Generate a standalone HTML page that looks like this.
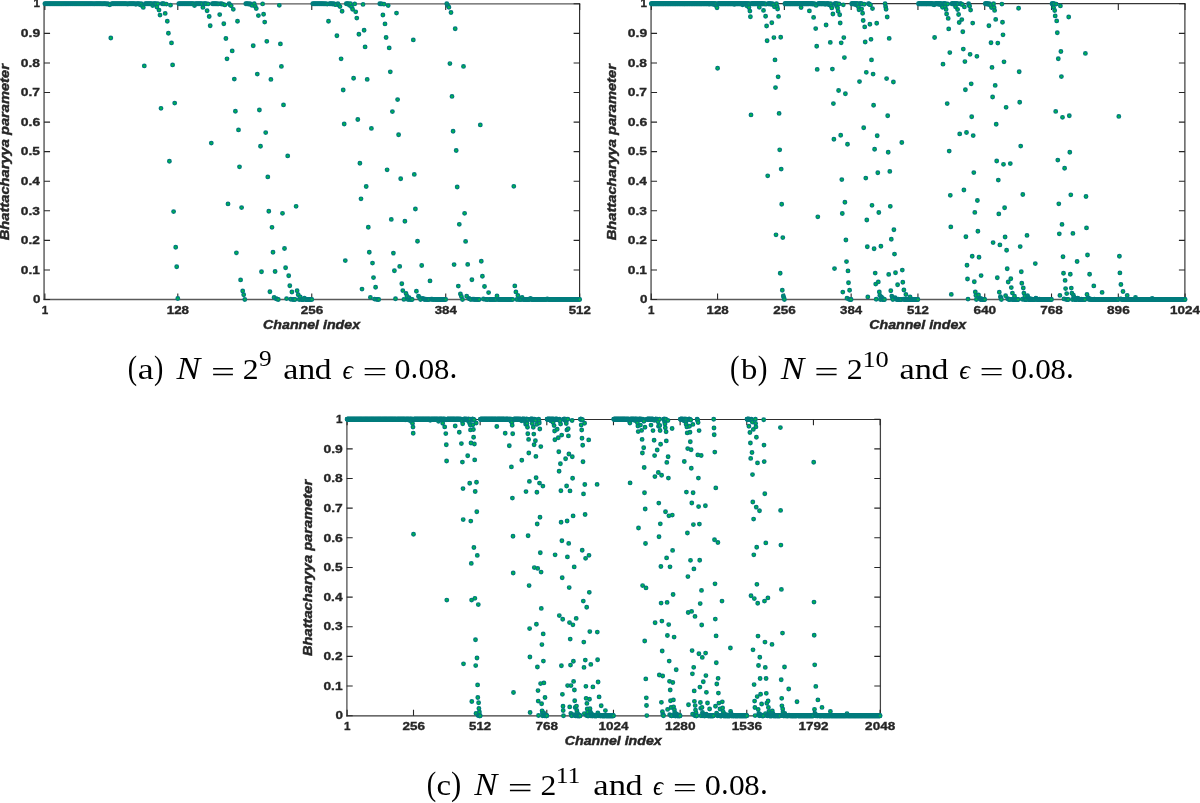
<!DOCTYPE html>
<html><head><meta charset="utf-8"><style>
html,body{margin:0;padding:0;background:#fff;}
svg{display:block;will-change:transform;filter:blur(0.35px);}
.tk{font-family:"Liberation Sans",sans-serif;font-weight:bold;fill:#262626;stroke:#262626;stroke-width:0.35px;}
.al{font-family:"Liberation Sans",sans-serif;font-weight:bold;font-style:italic;fill:#262626;stroke:#262626;stroke-width:0.42px;}
.cr{font-family:"Liberation Serif",serif;fill:#000;}
.cs{font-family:"Liberation Serif",serif;fill:#000;}
.ci{font-family:"Liberation Serif",serif;font-style:italic;fill:#000;}
</style></head><body>
<svg width="1200" height="803" viewBox="0 0 1200 803">
<rect width="1200" height="803" fill="#fff"/>
<line x1="43.5" y1="3.9" x2="580.2" y2="3.9" stroke="#5a5a5a" stroke-width="1.3"/>
<line x1="43.5" y1="299.5" x2="580.2" y2="299.5" stroke="#5a5a5a" stroke-width="1.3"/>
<line x1="44.05" y1="3.3" x2="44.05" y2="300.1" stroke="#262626" stroke-width="1.1"/>
<line x1="579.6" y1="3.3" x2="579.6" y2="300.1" stroke="#262626" stroke-width="1.1"/>
<path d="M44.87 299.45v-6M44.87 3.9v6M177.79 299.45v-6M177.79 3.9v6M311.76 299.45v-6M311.76 3.9v6M445.73 299.45v-6M445.73 3.9v6M579.7 299.45v-6M579.7 3.9v6M44.05 299.5h6M579.6 299.5h-6M44.05 269.93h6M579.6 269.93h-6M44.05 240.36h6M579.6 240.36h-6M44.05 210.79h6M579.6 210.79h-6M44.05 181.22h6M579.6 181.22h-6M44.05 151.65h6M579.6 151.65h-6M44.05 122.08h6M579.6 122.08h-6M44.05 92.51h6M579.6 92.51h-6M44.05 62.94h6M579.6 62.94h-6M44.05 33.37h6M579.6 33.37h-6M44.05 3.8h6M579.6 3.8h-6" fill="none" stroke="#262626" stroke-width="1.1"/>
<text class="tk" font-size="11.6" transform="translate(41.67 313.58) scale(1.0038 0.9805)">1</text>
<text class="tk" font-size="11.6" transform="translate(166.69 313.63) scale(1.1541 0.9900)">128</text>
<text class="tk" font-size="11.6" transform="translate(300.66 313.63) scale(1.1629 0.9900)">256</text>
<text class="tk" font-size="11.6" transform="translate(434.66 313.61) scale(1.1445 0.9880)">384</text>
<text class="tk" font-size="11.6" transform="translate(568.64 313.63) scale(1.1440 0.9900)">512</text>
<text class="tk" font-size="11.6" transform="translate(32.88 303.23) scale(1.1567 0.9900)">0</text>
<text class="tk" font-size="11.6" transform="translate(20.82 273.66) scale(1.1857 0.9900)">0.1</text>
<text class="tk" font-size="11.6" transform="translate(20.82 244.09) scale(1.1835 0.9900)">0.2</text>
<text class="tk" font-size="11.6" transform="translate(20.82 214.5) scale(1.1853 0.9880)">0.3</text>
<text class="tk" font-size="11.6" transform="translate(20.82 184.95) scale(1.1824 0.9900)">0.4</text>
<text class="tk" font-size="11.6" transform="translate(20.82 155.38) scale(1.1850 0.9900)">0.5</text>
<text class="tk" font-size="11.6" transform="translate(20.81 125.81) scale(1.2043 0.9900)">0.6</text>
<text class="tk" font-size="11.6" transform="translate(20.82 96.24) scale(1.1924 0.9900)">0.7</text>
<text class="tk" font-size="11.6" transform="translate(20.82 66.67) scale(1.1934 0.9900)">0.8</text>
<text class="tk" font-size="11.6" transform="translate(20.82 37.1) scale(1.1977 0.9900)">0.9</text>
<text class="tk" font-size="11.6" transform="translate(33.41 7.48) scale(1.0038 0.9805)">1</text>
<text class="al" font-size="12.6" transform="translate(263.08 328.75) scale(1.1273 0.9831)">Channel index</text>
<text class="al" font-size="12.6" transform="translate(9.3 151.67) rotate(-90) translate(-88.58 0) scale(1.1650 1.0111)">Bhattacharyya parameter</text>
<g fill="#00c83a" stroke="#007c7e" stroke-width="1.45"><circle cx="44.9" cy="3.8" r="1.7"/><circle cx="45.9" cy="3.8" r="1.7"/><circle cx="47.0" cy="3.8" r="1.7"/><circle cx="48.0" cy="3.8" r="1.7"/><circle cx="49.1" cy="3.8" r="1.7"/><circle cx="50.1" cy="3.8" r="1.7"/><circle cx="51.1" cy="3.8" r="1.7"/><circle cx="52.2" cy="3.8" r="1.7"/><circle cx="53.2" cy="3.8" r="1.7"/><circle cx="54.3" cy="3.8" r="1.7"/><circle cx="55.3" cy="3.8" r="1.7"/><circle cx="56.4" cy="3.8" r="1.7"/><circle cx="57.4" cy="3.8" r="1.7"/><circle cx="58.5" cy="3.8" r="1.7"/><circle cx="59.5" cy="3.8" r="1.7"/><circle cx="60.6" cy="3.8" r="1.7"/><circle cx="61.6" cy="3.8" r="1.7"/><circle cx="62.7" cy="3.8" r="1.7"/><circle cx="63.7" cy="3.8" r="1.7"/><circle cx="64.8" cy="3.8" r="1.7"/><circle cx="65.8" cy="3.8" r="1.7"/><circle cx="66.8" cy="3.8" r="1.7"/><circle cx="67.9" cy="3.8" r="1.7"/><circle cx="68.9" cy="3.8" r="1.7"/><circle cx="70.0" cy="3.8" r="1.7"/><circle cx="71.0" cy="3.8" r="1.7"/><circle cx="72.1" cy="3.8" r="1.7"/><circle cx="73.1" cy="3.8" r="1.7"/><circle cx="74.2" cy="3.8" r="1.7"/><circle cx="75.2" cy="3.8" r="1.7"/><circle cx="76.3" cy="3.8" r="1.7"/><circle cx="77.3" cy="3.8" r="1.7"/><circle cx="78.4" cy="3.8" r="1.7"/><circle cx="79.4" cy="3.8" r="1.7"/><circle cx="80.5" cy="3.8" r="1.7"/><circle cx="81.5" cy="3.8" r="1.7"/><circle cx="82.5" cy="3.8" r="1.7"/><circle cx="83.6" cy="3.8" r="1.7"/><circle cx="84.6" cy="3.8" r="1.7"/><circle cx="85.7" cy="3.8" r="1.7"/><circle cx="86.7" cy="3.8" r="1.7"/><circle cx="87.8" cy="3.8" r="1.7"/><circle cx="88.8" cy="3.8" r="1.7"/><circle cx="89.9" cy="3.8" r="1.7"/><circle cx="90.9" cy="3.8" r="1.7"/><circle cx="92.0" cy="3.8" r="1.7"/><circle cx="93.0" cy="3.8" r="1.7"/><circle cx="94.1" cy="3.9" r="1.7"/><circle cx="95.1" cy="3.8" r="1.7"/><circle cx="96.2" cy="3.8" r="1.7"/><circle cx="97.2" cy="3.8" r="1.7"/><circle cx="98.2" cy="3.8" r="1.7"/><circle cx="99.3" cy="3.8" r="1.7"/><circle cx="100.3" cy="3.8" r="1.7"/><circle cx="101.4" cy="3.8" r="1.7"/><circle cx="102.4" cy="3.9" r="1.7"/><circle cx="103.5" cy="3.8" r="1.7"/><circle cx="104.5" cy="3.8" r="1.7"/><circle cx="105.6" cy="3.8" r="1.7"/><circle cx="106.6" cy="4.1" r="1.7"/><circle cx="107.7" cy="3.8" r="1.7"/><circle cx="108.7" cy="4.3" r="1.7"/><circle cx="109.8" cy="4.8" r="1.7"/><circle cx="110.8" cy="38.0" r="1.7"/><circle cx="111.9" cy="3.8" r="1.7"/><circle cx="112.9" cy="3.8" r="1.7"/><circle cx="113.9" cy="3.8" r="1.7"/><circle cx="115.0" cy="3.8" r="1.7"/><circle cx="116.0" cy="3.8" r="1.7"/><circle cx="117.1" cy="3.8" r="1.7"/><circle cx="118.1" cy="3.8" r="1.7"/><circle cx="119.2" cy="3.8" r="1.7"/><circle cx="120.2" cy="3.8" r="1.7"/><circle cx="121.3" cy="3.8" r="1.7"/><circle cx="122.3" cy="3.8" r="1.7"/><circle cx="123.4" cy="3.8" r="1.7"/><circle cx="124.4" cy="3.8" r="1.7"/><circle cx="125.5" cy="3.8" r="1.7"/><circle cx="126.5" cy="3.8" r="1.7"/><circle cx="127.6" cy="4.1" r="1.7"/><circle cx="128.6" cy="3.8" r="1.7"/><circle cx="129.6" cy="3.8" r="1.7"/><circle cx="130.7" cy="3.8" r="1.7"/><circle cx="131.7" cy="3.8" r="1.7"/><circle cx="132.8" cy="3.8" r="1.7"/><circle cx="133.8" cy="3.8" r="1.7"/><circle cx="134.9" cy="3.8" r="1.7"/><circle cx="135.9" cy="4.3" r="1.7"/><circle cx="137.0" cy="3.8" r="1.7"/><circle cx="138.0" cy="3.8" r="1.7"/><circle cx="139.1" cy="3.8" r="1.7"/><circle cx="140.1" cy="4.8" r="1.7"/><circle cx="141.2" cy="3.8" r="1.7"/><circle cx="142.2" cy="5.7" r="1.7"/><circle cx="143.3" cy="7.4" r="1.7"/><circle cx="144.3" cy="65.9" r="1.7"/><circle cx="145.3" cy="3.8" r="1.7"/><circle cx="146.4" cy="3.8" r="1.7"/><circle cx="147.4" cy="3.8" r="1.7"/><circle cx="148.5" cy="3.8" r="1.7"/><circle cx="149.5" cy="3.8" r="1.7"/><circle cx="150.6" cy="3.8" r="1.7"/><circle cx="151.6" cy="3.8" r="1.7"/><circle cx="152.7" cy="5.5" r="1.7"/><circle cx="153.7" cy="3.8" r="1.7"/><circle cx="154.8" cy="3.8" r="1.7"/><circle cx="155.8" cy="3.8" r="1.7"/><circle cx="156.9" cy="7.1" r="1.7"/><circle cx="157.9" cy="3.8" r="1.7"/><circle cx="159.0" cy="10.1" r="1.7"/><circle cx="160.0" cy="15.1" r="1.7"/><circle cx="161.0" cy="108.3" r="1.7"/><circle cx="162.1" cy="3.8" r="1.7"/><circle cx="163.1" cy="3.8" r="1.7"/><circle cx="164.2" cy="3.9" r="1.7"/><circle cx="165.2" cy="13.4" r="1.7"/><circle cx="166.3" cy="4.1" r="1.7"/><circle cx="167.3" cy="21.2" r="1.7"/><circle cx="168.4" cy="33.3" r="1.7"/><circle cx="169.4" cy="161.2" r="1.7"/><circle cx="170.5" cy="5.2" r="1.7"/><circle cx="171.5" cy="42.9" r="1.7"/><circle cx="172.6" cy="64.9" r="1.7"/><circle cx="173.6" cy="211.6" r="1.7"/><circle cx="174.7" cy="103.1" r="1.7"/><circle cx="175.7" cy="247.2" r="1.7"/><circle cx="176.7" cy="266.8" r="1.7"/><circle cx="177.8" cy="298.5" r="1.7"/><circle cx="178.8" cy="3.8" r="1.7"/><circle cx="179.9" cy="3.8" r="1.7"/><circle cx="180.9" cy="3.8" r="1.7"/><circle cx="182.0" cy="3.8" r="1.7"/><circle cx="183.0" cy="3.8" r="1.7"/><circle cx="184.1" cy="3.8" r="1.7"/><circle cx="185.1" cy="3.8" r="1.7"/><circle cx="186.2" cy="3.8" r="1.7"/><circle cx="187.2" cy="3.8" r="1.7"/><circle cx="188.3" cy="3.8" r="1.7"/><circle cx="189.3" cy="3.8" r="1.7"/><circle cx="190.4" cy="3.8" r="1.7"/><circle cx="191.4" cy="3.8" r="1.7"/><circle cx="192.4" cy="3.8" r="1.7"/><circle cx="193.5" cy="3.8" r="1.7"/><circle cx="194.5" cy="5.6" r="1.7"/><circle cx="195.6" cy="3.8" r="1.7"/><circle cx="196.6" cy="3.8" r="1.7"/><circle cx="197.7" cy="3.8" r="1.7"/><circle cx="198.7" cy="3.8" r="1.7"/><circle cx="199.8" cy="3.8" r="1.7"/><circle cx="200.8" cy="3.8" r="1.7"/><circle cx="201.9" cy="3.8" r="1.7"/><circle cx="202.9" cy="7.4" r="1.7"/><circle cx="204.0" cy="3.8" r="1.7"/><circle cx="205.0" cy="3.8" r="1.7"/><circle cx="206.1" cy="3.8" r="1.7"/><circle cx="207.1" cy="10.7" r="1.7"/><circle cx="208.1" cy="3.9" r="1.7"/><circle cx="209.2" cy="16.5" r="1.7"/><circle cx="210.2" cy="25.8" r="1.7"/><circle cx="211.3" cy="143.1" r="1.7"/><circle cx="212.3" cy="3.8" r="1.7"/><circle cx="213.4" cy="3.8" r="1.7"/><circle cx="214.4" cy="3.8" r="1.7"/><circle cx="215.5" cy="3.8" r="1.7"/><circle cx="216.5" cy="3.8" r="1.7"/><circle cx="217.6" cy="3.9" r="1.7"/><circle cx="218.6" cy="3.9" r="1.7"/><circle cx="219.7" cy="14.6" r="1.7"/><circle cx="220.7" cy="3.8" r="1.7"/><circle cx="221.8" cy="4.0" r="1.7"/><circle cx="222.8" cy="4.1" r="1.7"/><circle cx="223.8" cy="23.8" r="1.7"/><circle cx="224.9" cy="4.9" r="1.7"/><circle cx="225.9" cy="38.5" r="1.7"/><circle cx="227.0" cy="58.8" r="1.7"/><circle cx="228.0" cy="203.9" r="1.7"/><circle cx="229.1" cy="3.8" r="1.7"/><circle cx="230.1" cy="4.9" r="1.7"/><circle cx="231.2" cy="5.8" r="1.7"/><circle cx="232.2" cy="50.9" r="1.7"/><circle cx="233.3" cy="9.3" r="1.7"/><circle cx="234.3" cy="79.1" r="1.7"/><circle cx="235.4" cy="111.2" r="1.7"/><circle cx="236.4" cy="252.8" r="1.7"/><circle cx="237.5" cy="21.2" r="1.7"/><circle cx="238.5" cy="129.9" r="1.7"/><circle cx="239.5" cy="166.8" r="1.7"/><circle cx="240.6" cy="279.9" r="1.7"/><circle cx="241.6" cy="207.6" r="1.7"/><circle cx="242.7" cy="291.0" r="1.7"/><circle cx="243.7" cy="294.8" r="1.7"/><circle cx="244.8" cy="299.5" r="1.7"/><circle cx="245.8" cy="3.8" r="1.7"/><circle cx="246.9" cy="3.8" r="1.7"/><circle cx="247.9" cy="3.8" r="1.7"/><circle cx="249.0" cy="4.2" r="1.7"/><circle cx="250.0" cy="3.8" r="1.7"/><circle cx="251.1" cy="4.6" r="1.7"/><circle cx="252.1" cy="5.4" r="1.7"/><circle cx="253.2" cy="45.7" r="1.7"/><circle cx="254.2" cy="3.8" r="1.7"/><circle cx="255.2" cy="6.3" r="1.7"/><circle cx="256.3" cy="8.6" r="1.7"/><circle cx="257.3" cy="74.1" r="1.7"/><circle cx="258.4" cy="15.6" r="1.7"/><circle cx="259.4" cy="110.0" r="1.7"/><circle cx="260.5" cy="146.2" r="1.7"/><circle cx="261.5" cy="271.8" r="1.7"/><circle cx="262.6" cy="3.9" r="1.7"/><circle cx="263.6" cy="14.2" r="1.7"/><circle cx="264.7" cy="22.1" r="1.7"/><circle cx="265.7" cy="132.6" r="1.7"/><circle cx="266.8" cy="41.3" r="1.7"/><circle cx="267.8" cy="176.9" r="1.7"/><circle cx="268.8" cy="211.2" r="1.7"/><circle cx="269.9" cy="291.7" r="1.7"/><circle cx="270.9" cy="79.4" r="1.7"/><circle cx="272.0" cy="227.3" r="1.7"/><circle cx="273.0" cy="252.2" r="1.7"/><circle cx="274.1" cy="297.4" r="1.7"/><circle cx="275.1" cy="271.5" r="1.7"/><circle cx="276.2" cy="298.8" r="1.7"/><circle cx="277.2" cy="299.1" r="1.7"/><circle cx="278.3" cy="299.5" r="1.7"/><circle cx="279.3" cy="5.3" r="1.7"/><circle cx="280.4" cy="43.9" r="1.7"/><circle cx="281.4" cy="66.4" r="1.7"/><circle cx="282.5" cy="213.3" r="1.7"/><circle cx="283.5" cy="104.9" r="1.7"/><circle cx="284.5" cy="248.5" r="1.7"/><circle cx="285.6" cy="267.7" r="1.7"/><circle cx="286.6" cy="298.6" r="1.7"/><circle cx="287.7" cy="155.9" r="1.7"/><circle cx="288.7" cy="275.8" r="1.7"/><circle cx="289.8" cy="285.8" r="1.7"/><circle cx="290.8" cy="299.3" r="1.7"/><circle cx="291.9" cy="292.0" r="1.7"/><circle cx="292.9" cy="299.5" r="1.7"/><circle cx="294.0" cy="299.5" r="1.7"/><circle cx="295.0" cy="299.5" r="1.7"/><circle cx="296.1" cy="206.3" r="1.7"/><circle cx="297.1" cy="290.7" r="1.7"/><circle cx="298.2" cy="294.7" r="1.7"/><circle cx="299.2" cy="299.5" r="1.7"/><circle cx="300.2" cy="297.0" r="1.7"/><circle cx="301.3" cy="299.5" r="1.7"/><circle cx="302.3" cy="299.5" r="1.7"/><circle cx="303.4" cy="299.5" r="1.7"/><circle cx="304.4" cy="298.2" r="1.7"/><circle cx="305.5" cy="299.5" r="1.7"/><circle cx="306.5" cy="299.5" r="1.7"/><circle cx="307.6" cy="299.5" r="1.7"/><circle cx="308.6" cy="299.5" r="1.7"/><circle cx="309.7" cy="299.5" r="1.7"/><circle cx="310.7" cy="299.5" r="1.7"/><circle cx="311.8" cy="299.5" r="1.7"/><circle cx="312.8" cy="3.8" r="1.7"/><circle cx="313.9" cy="3.8" r="1.7"/><circle cx="314.9" cy="3.8" r="1.7"/><circle cx="315.9" cy="3.8" r="1.7"/><circle cx="317.0" cy="3.8" r="1.7"/><circle cx="318.0" cy="3.8" r="1.7"/><circle cx="319.1" cy="3.8" r="1.7"/><circle cx="320.1" cy="3.8" r="1.7"/><circle cx="321.2" cy="3.8" r="1.7"/><circle cx="322.2" cy="3.8" r="1.7"/><circle cx="323.3" cy="3.8" r="1.7"/><circle cx="324.3" cy="3.9" r="1.7"/><circle cx="325.4" cy="3.8" r="1.7"/><circle cx="326.4" cy="3.9" r="1.7"/><circle cx="327.5" cy="4.1" r="1.7"/><circle cx="328.5" cy="21.2" r="1.7"/><circle cx="329.6" cy="3.8" r="1.7"/><circle cx="330.6" cy="3.8" r="1.7"/><circle cx="331.6" cy="3.8" r="1.7"/><circle cx="332.7" cy="4.0" r="1.7"/><circle cx="333.7" cy="3.8" r="1.7"/><circle cx="334.8" cy="4.3" r="1.7"/><circle cx="335.8" cy="4.7" r="1.7"/><circle cx="336.9" cy="35.7" r="1.7"/><circle cx="337.9" cy="3.8" r="1.7"/><circle cx="339.0" cy="5.3" r="1.7"/><circle cx="340.0" cy="6.6" r="1.7"/><circle cx="341.1" cy="58.8" r="1.7"/><circle cx="342.1" cy="11.2" r="1.7"/><circle cx="343.2" cy="90.0" r="1.7"/><circle cx="344.2" cy="124.0" r="1.7"/><circle cx="345.3" cy="260.6" r="1.7"/><circle cx="346.3" cy="3.8" r="1.7"/><circle cx="347.3" cy="3.8" r="1.7"/><circle cx="348.4" cy="3.8" r="1.7"/><circle cx="349.4" cy="5.3" r="1.7"/><circle cx="350.5" cy="3.8" r="1.7"/><circle cx="351.5" cy="6.7" r="1.7"/><circle cx="352.6" cy="9.2" r="1.7"/><circle cx="353.6" cy="78.2" r="1.7"/><circle cx="354.7" cy="3.9" r="1.7"/><circle cx="355.7" cy="11.8" r="1.7"/><circle cx="356.8" cy="18.1" r="1.7"/><circle cx="357.8" cy="119.5" r="1.7"/><circle cx="358.9" cy="34.3" r="1.7"/><circle cx="359.9" cy="163.2" r="1.7"/><circle cx="361.0" cy="198.8" r="1.7"/><circle cx="362.0" cy="289.1" r="1.7"/><circle cx="363.0" cy="4.4" r="1.7"/><circle cx="364.1" cy="30.2" r="1.7"/><circle cx="365.1" cy="46.9" r="1.7"/><circle cx="366.2" cy="186.5" r="1.7"/><circle cx="367.2" cy="79.4" r="1.7"/><circle cx="368.3" cy="227.2" r="1.7"/><circle cx="369.3" cy="252.2" r="1.7"/><circle cx="370.4" cy="297.4" r="1.7"/><circle cx="371.4" cy="128.4" r="1.7"/><circle cx="372.5" cy="263.1" r="1.7"/><circle cx="373.5" cy="277.6" r="1.7"/><circle cx="374.6" cy="299.1" r="1.7"/><circle cx="375.6" cy="287.3" r="1.7"/><circle cx="376.7" cy="299.4" r="1.7"/><circle cx="377.7" cy="299.4" r="1.7"/><circle cx="378.7" cy="299.5" r="1.7"/><circle cx="379.8" cy="3.8" r="1.7"/><circle cx="380.8" cy="3.9" r="1.7"/><circle cx="381.9" cy="3.9" r="1.7"/><circle cx="382.9" cy="15.0" r="1.7"/><circle cx="384.0" cy="4.2" r="1.7"/><circle cx="385.0" cy="23.9" r="1.7"/><circle cx="386.1" cy="37.5" r="1.7"/><circle cx="387.1" cy="169.8" r="1.7"/><circle cx="388.2" cy="5.6" r="1.7"/><circle cx="389.2" cy="47.9" r="1.7"/><circle cx="390.3" cy="71.8" r="1.7"/><circle cx="391.3" cy="219.4" r="1.7"/><circle cx="392.4" cy="111.6" r="1.7"/><circle cx="393.4" cy="253.1" r="1.7"/><circle cx="394.4" cy="270.8" r="1.7"/><circle cx="395.5" cy="298.8" r="1.7"/><circle cx="396.5" cy="13.1" r="1.7"/><circle cx="397.6" cy="99.6" r="1.7"/><circle cx="398.6" cy="134.7" r="1.7"/><circle cx="399.7" cy="266.4" r="1.7"/><circle cx="400.7" cy="178.7" r="1.7"/><circle cx="401.8" cy="283.7" r="1.7"/><circle cx="402.8" cy="290.6" r="1.7"/><circle cx="403.9" cy="299.4" r="1.7"/><circle cx="404.9" cy="221.2" r="1.7"/><circle cx="406.0" cy="293.5" r="1.7"/><circle cx="407.0" cy="296.3" r="1.7"/><circle cx="408.1" cy="299.5" r="1.7"/><circle cx="409.1" cy="297.8" r="1.7"/><circle cx="410.1" cy="299.5" r="1.7"/><circle cx="411.2" cy="299.5" r="1.7"/><circle cx="412.2" cy="299.5" r="1.7"/><circle cx="413.3" cy="39.9" r="1.7"/><circle cx="414.3" cy="174.4" r="1.7"/><circle cx="415.4" cy="209.0" r="1.7"/><circle cx="416.4" cy="291.2" r="1.7"/><circle cx="417.5" cy="241.2" r="1.7"/><circle cx="418.5" cy="296.3" r="1.7"/><circle cx="419.6" cy="297.8" r="1.7"/><circle cx="420.6" cy="299.5" r="1.7"/><circle cx="421.7" cy="265.5" r="1.7"/><circle cx="422.7" cy="298.5" r="1.7"/><circle cx="423.8" cy="299.0" r="1.7"/><circle cx="424.8" cy="299.5" r="1.7"/><circle cx="425.8" cy="299.2" r="1.7"/><circle cx="426.9" cy="299.5" r="1.7"/><circle cx="427.9" cy="299.5" r="1.7"/><circle cx="429.0" cy="299.5" r="1.7"/><circle cx="430.0" cy="280.9" r="1.7"/><circle cx="431.1" cy="299.2" r="1.7"/><circle cx="432.1" cy="299.3" r="1.7"/><circle cx="433.2" cy="299.5" r="1.7"/><circle cx="434.2" cy="299.4" r="1.7"/><circle cx="435.3" cy="299.5" r="1.7"/><circle cx="436.3" cy="299.5" r="1.7"/><circle cx="437.4" cy="299.5" r="1.7"/><circle cx="438.4" cy="299.5" r="1.7"/><circle cx="439.5" cy="299.5" r="1.7"/><circle cx="440.5" cy="299.5" r="1.7"/><circle cx="441.5" cy="299.5" r="1.7"/><circle cx="442.6" cy="299.5" r="1.7"/><circle cx="443.6" cy="299.5" r="1.7"/><circle cx="444.7" cy="299.5" r="1.7"/><circle cx="445.7" cy="299.5" r="1.7"/><circle cx="446.8" cy="3.8" r="1.7"/><circle cx="447.8" cy="5.6" r="1.7"/><circle cx="448.9" cy="7.2" r="1.7"/><circle cx="449.9" cy="63.6" r="1.7"/><circle cx="451.0" cy="12.5" r="1.7"/><circle cx="452.0" cy="96.4" r="1.7"/><circle cx="453.1" cy="131.2" r="1.7"/><circle cx="454.1" cy="264.6" r="1.7"/><circle cx="455.2" cy="28.7" r="1.7"/><circle cx="456.2" cy="150.5" r="1.7"/><circle cx="457.2" cy="187.0" r="1.7"/><circle cx="458.3" cy="286.1" r="1.7"/><circle cx="459.3" cy="224.3" r="1.7"/><circle cx="460.4" cy="294.0" r="1.7"/><circle cx="461.4" cy="296.5" r="1.7"/><circle cx="462.5" cy="299.5" r="1.7"/><circle cx="463.5" cy="66.4" r="1.7"/><circle cx="464.6" cy="213.3" r="1.7"/><circle cx="465.6" cy="241.4" r="1.7"/><circle cx="466.7" cy="296.3" r="1.7"/><circle cx="467.7" cy="264.4" r="1.7"/><circle cx="468.8" cy="298.4" r="1.7"/><circle cx="469.8" cy="298.9" r="1.7"/><circle cx="470.9" cy="299.5" r="1.7"/><circle cx="471.9" cy="279.8" r="1.7"/><circle cx="472.9" cy="299.2" r="1.7"/><circle cx="474.0" cy="299.3" r="1.7"/><circle cx="475.0" cy="299.5" r="1.7"/><circle cx="476.1" cy="299.4" r="1.7"/><circle cx="477.1" cy="299.5" r="1.7"/><circle cx="478.2" cy="299.5" r="1.7"/><circle cx="479.2" cy="299.5" r="1.7"/><circle cx="480.3" cy="124.9" r="1.7"/><circle cx="481.3" cy="261.2" r="1.7"/><circle cx="482.4" cy="276.3" r="1.7"/><circle cx="483.4" cy="299.0" r="1.7"/><circle cx="484.5" cy="286.5" r="1.7"/><circle cx="485.5" cy="299.4" r="1.7"/><circle cx="486.5" cy="299.4" r="1.7"/><circle cx="487.6" cy="299.5" r="1.7"/><circle cx="488.6" cy="292.6" r="1.7"/><circle cx="489.7" cy="299.5" r="1.7"/><circle cx="490.7" cy="299.5" r="1.7"/><circle cx="491.8" cy="299.5" r="1.7"/><circle cx="492.8" cy="299.5" r="1.7"/><circle cx="493.9" cy="299.5" r="1.7"/><circle cx="494.9" cy="299.5" r="1.7"/><circle cx="496.0" cy="299.5" r="1.7"/><circle cx="497.0" cy="295.9" r="1.7"/><circle cx="498.1" cy="299.5" r="1.7"/><circle cx="499.1" cy="299.5" r="1.7"/><circle cx="500.2" cy="299.5" r="1.7"/><circle cx="501.2" cy="299.5" r="1.7"/><circle cx="502.2" cy="299.5" r="1.7"/><circle cx="503.3" cy="299.5" r="1.7"/><circle cx="504.3" cy="299.5" r="1.7"/><circle cx="505.4" cy="299.5" r="1.7"/><circle cx="506.4" cy="299.5" r="1.7"/><circle cx="507.5" cy="299.5" r="1.7"/><circle cx="508.5" cy="299.5" r="1.7"/><circle cx="509.6" cy="299.5" r="1.7"/><circle cx="510.6" cy="299.5" r="1.7"/><circle cx="511.7" cy="299.5" r="1.7"/><circle cx="512.7" cy="299.5" r="1.7"/><circle cx="513.8" cy="186.3" r="1.7"/><circle cx="514.8" cy="285.9" r="1.7"/><circle cx="515.9" cy="291.9" r="1.7"/><circle cx="516.9" cy="299.5" r="1.7"/><circle cx="517.9" cy="295.5" r="1.7"/><circle cx="519.0" cy="299.5" r="1.7"/><circle cx="520.0" cy="299.5" r="1.7"/><circle cx="521.1" cy="299.5" r="1.7"/><circle cx="522.1" cy="297.4" r="1.7"/><circle cx="523.2" cy="299.5" r="1.7"/><circle cx="524.2" cy="299.5" r="1.7"/><circle cx="525.3" cy="299.5" r="1.7"/><circle cx="526.3" cy="299.5" r="1.7"/><circle cx="527.4" cy="299.5" r="1.7"/><circle cx="528.4" cy="299.5" r="1.7"/><circle cx="529.5" cy="299.5" r="1.7"/><circle cx="530.5" cy="298.4" r="1.7"/><circle cx="531.6" cy="299.5" r="1.7"/><circle cx="532.6" cy="299.5" r="1.7"/><circle cx="533.6" cy="299.5" r="1.7"/><circle cx="534.7" cy="299.5" r="1.7"/><circle cx="535.7" cy="299.5" r="1.7"/><circle cx="536.8" cy="299.5" r="1.7"/><circle cx="537.8" cy="299.5" r="1.7"/><circle cx="538.9" cy="299.5" r="1.7"/><circle cx="539.9" cy="299.5" r="1.7"/><circle cx="541.0" cy="299.5" r="1.7"/><circle cx="542.0" cy="299.5" r="1.7"/><circle cx="543.1" cy="299.5" r="1.7"/><circle cx="544.1" cy="299.5" r="1.7"/><circle cx="545.2" cy="299.5" r="1.7"/><circle cx="546.2" cy="299.5" r="1.7"/><circle cx="547.3" cy="299.0" r="1.7"/><circle cx="548.3" cy="299.5" r="1.7"/><circle cx="549.3" cy="299.5" r="1.7"/><circle cx="550.4" cy="299.5" r="1.7"/><circle cx="551.4" cy="299.5" r="1.7"/><circle cx="552.5" cy="299.5" r="1.7"/><circle cx="553.5" cy="299.5" r="1.7"/><circle cx="554.6" cy="299.5" r="1.7"/><circle cx="555.6" cy="299.5" r="1.7"/><circle cx="556.7" cy="299.5" r="1.7"/><circle cx="557.7" cy="299.5" r="1.7"/><circle cx="558.8" cy="299.5" r="1.7"/><circle cx="559.8" cy="299.5" r="1.7"/><circle cx="560.9" cy="299.5" r="1.7"/><circle cx="561.9" cy="299.5" r="1.7"/><circle cx="563.0" cy="299.5" r="1.7"/><circle cx="564.0" cy="299.5" r="1.7"/><circle cx="565.0" cy="299.5" r="1.7"/><circle cx="566.1" cy="299.5" r="1.7"/><circle cx="567.1" cy="299.5" r="1.7"/><circle cx="568.2" cy="299.5" r="1.7"/><circle cx="569.2" cy="299.5" r="1.7"/><circle cx="570.3" cy="299.5" r="1.7"/><circle cx="571.3" cy="299.5" r="1.7"/><circle cx="572.4" cy="299.5" r="1.7"/><circle cx="573.4" cy="299.5" r="1.7"/><circle cx="574.5" cy="299.5" r="1.7"/><circle cx="575.5" cy="299.5" r="1.7"/><circle cx="576.6" cy="299.5" r="1.7"/><circle cx="577.6" cy="299.5" r="1.7"/><circle cx="578.7" cy="299.5" r="1.7"/><circle cx="579.7" cy="299.5" r="1.7"/></g>
<line x1="650.5" y1="3.7" x2="1185.5" y2="3.7" stroke="#363636" stroke-width="1.2"/>
<line x1="650.5" y1="299.5" x2="1185.5" y2="299.5" stroke="#5a5a5a" stroke-width="1.3"/>
<line x1="651.05" y1="3.3" x2="651.05" y2="300.1" stroke="#262626" stroke-width="1.1"/>
<line x1="1184.9" y1="3.3" x2="1184.9" y2="300.1" stroke="#262626" stroke-width="1.1"/>
<path d="M651.3 299.45v-6M651.3 3.9v6M717.57 299.45v-6M717.57 3.9v6M784.36 299.45v-6M784.36 3.9v6M851.15 299.45v-6M851.15 3.9v6M917.94 299.45v-6M917.94 3.9v6M984.73 299.45v-6M984.73 3.9v6M1051.52 299.45v-6M1051.52 3.9v6M1118.31 299.45v-6M1118.31 3.9v6M1185.1 299.45v-6M1185.1 3.9v6M651.05 299.5h6M1184.9 299.5h-6M651.05 269.93h6M1184.9 269.93h-6M651.05 240.36h6M1184.9 240.36h-6M651.05 210.79h6M1184.9 210.79h-6M651.05 181.22h6M1184.9 181.22h-6M651.05 151.65h6M1184.9 151.65h-6M651.05 122.08h6M1184.9 122.08h-6M651.05 92.51h6M1184.9 92.51h-6M651.05 62.94h6M1184.9 62.94h-6M651.05 33.37h6M1184.9 33.37h-6M651.05 3.8h6M1184.9 3.8h-6" fill="none" stroke="#262626" stroke-width="1.1"/>
<text class="tk" font-size="11.6" transform="translate(648.1 313.58) scale(1.0038 0.9805)">1</text>
<text class="tk" font-size="11.6" transform="translate(706.47 313.63) scale(1.1541 0.9900)">128</text>
<text class="tk" font-size="11.6" transform="translate(773.26 313.63) scale(1.1629 0.9900)">256</text>
<text class="tk" font-size="11.6" transform="translate(840.07 313.61) scale(1.1445 0.9880)">384</text>
<text class="tk" font-size="11.6" transform="translate(906.88 313.63) scale(1.1440 0.9900)">512</text>
<text class="tk" font-size="11.6" transform="translate(973.4 313.63) scale(1.1818 0.9900)">640</text>
<text class="tk" font-size="11.6" transform="translate(1040.17 313.63) scale(1.1674 0.9900)">768</text>
<text class="tk" font-size="11.6" transform="translate(1107.04 313.63) scale(1.1716 0.9900)">896</text>
<text class="tk" font-size="11.6" transform="translate(1170.1 313.63) scale(1.1616 0.9900)">1024</text>
<text class="tk" font-size="11.6" transform="translate(639.88 303.23) scale(1.1567 0.9900)">0</text>
<text class="tk" font-size="11.6" transform="translate(627.82 273.66) scale(1.1857 0.9900)">0.1</text>
<text class="tk" font-size="11.6" transform="translate(627.82 244.09) scale(1.1835 0.9900)">0.2</text>
<text class="tk" font-size="11.6" transform="translate(627.82 214.5) scale(1.1853 0.9880)">0.3</text>
<text class="tk" font-size="11.6" transform="translate(627.82 184.95) scale(1.1824 0.9900)">0.4</text>
<text class="tk" font-size="11.6" transform="translate(627.82 155.38) scale(1.1850 0.9900)">0.5</text>
<text class="tk" font-size="11.6" transform="translate(627.81 125.81) scale(1.2043 0.9900)">0.6</text>
<text class="tk" font-size="11.6" transform="translate(627.82 96.24) scale(1.1924 0.9900)">0.7</text>
<text class="tk" font-size="11.6" transform="translate(627.82 66.67) scale(1.1934 0.9900)">0.8</text>
<text class="tk" font-size="11.6" transform="translate(627.82 37.1) scale(1.1977 0.9900)">0.9</text>
<text class="tk" font-size="11.6" transform="translate(640.41 7.48) scale(1.0038 0.9805)">1</text>
<text class="al" font-size="12.6" transform="translate(869.23 328.75) scale(1.1273 0.9831)">Channel index</text>
<text class="al" font-size="12.6" transform="translate(616.3 151.67) rotate(-90) translate(-88.58 0) scale(1.1650 1.0111)">Bhattacharyya parameter</text>
<g fill="#00c83a" stroke="#007c7e" stroke-width="1.45"><circle cx="651.3" cy="3.8" r="1.7"/><circle cx="651.8" cy="3.8" r="1.7"/><circle cx="652.3" cy="3.8" r="1.7"/><circle cx="652.9" cy="3.8" r="1.7"/><circle cx="653.4" cy="3.8" r="1.7"/><circle cx="653.9" cy="3.8" r="1.7"/><circle cx="654.4" cy="3.8" r="1.7"/><circle cx="655.0" cy="3.8" r="1.7"/><circle cx="655.5" cy="3.8" r="1.7"/><circle cx="656.0" cy="3.8" r="1.7"/><circle cx="656.5" cy="3.8" r="1.7"/><circle cx="657.0" cy="3.8" r="1.7"/><circle cx="657.6" cy="3.8" r="1.7"/><circle cx="658.1" cy="3.8" r="1.7"/><circle cx="658.6" cy="3.8" r="1.7"/><circle cx="659.1" cy="3.8" r="1.7"/><circle cx="659.6" cy="3.8" r="1.7"/><circle cx="660.2" cy="3.8" r="1.7"/><circle cx="660.7" cy="3.8" r="1.7"/><circle cx="661.2" cy="3.8" r="1.7"/><circle cx="661.7" cy="3.8" r="1.7"/><circle cx="662.3" cy="3.8" r="1.7"/><circle cx="662.8" cy="3.8" r="1.7"/><circle cx="663.3" cy="3.8" r="1.7"/><circle cx="663.8" cy="3.8" r="1.7"/><circle cx="664.3" cy="3.8" r="1.7"/><circle cx="664.9" cy="3.8" r="1.7"/><circle cx="665.4" cy="3.8" r="1.7"/><circle cx="665.9" cy="3.8" r="1.7"/><circle cx="666.4" cy="3.8" r="1.7"/><circle cx="667.0" cy="3.8" r="1.7"/><circle cx="667.5" cy="3.8" r="1.7"/><circle cx="668.0" cy="3.8" r="1.7"/><circle cx="668.5" cy="3.8" r="1.7"/><circle cx="669.0" cy="3.8" r="1.7"/><circle cx="669.6" cy="3.8" r="1.7"/><circle cx="670.1" cy="3.8" r="1.7"/><circle cx="670.6" cy="3.8" r="1.7"/><circle cx="671.1" cy="3.8" r="1.7"/><circle cx="671.7" cy="3.8" r="1.7"/><circle cx="672.2" cy="3.8" r="1.7"/><circle cx="672.7" cy="3.8" r="1.7"/><circle cx="673.2" cy="3.8" r="1.7"/><circle cx="673.7" cy="3.8" r="1.7"/><circle cx="674.3" cy="3.8" r="1.7"/><circle cx="674.8" cy="3.8" r="1.7"/><circle cx="675.3" cy="3.8" r="1.7"/><circle cx="675.8" cy="3.8" r="1.7"/><circle cx="676.3" cy="3.8" r="1.7"/><circle cx="676.9" cy="3.8" r="1.7"/><circle cx="677.4" cy="3.8" r="1.7"/><circle cx="677.9" cy="3.8" r="1.7"/><circle cx="678.4" cy="3.8" r="1.7"/><circle cx="679.0" cy="3.8" r="1.7"/><circle cx="679.5" cy="3.8" r="1.7"/><circle cx="680.0" cy="3.8" r="1.7"/><circle cx="680.5" cy="3.8" r="1.7"/><circle cx="681.0" cy="3.8" r="1.7"/><circle cx="681.6" cy="3.8" r="1.7"/><circle cx="682.1" cy="3.8" r="1.7"/><circle cx="682.6" cy="3.8" r="1.7"/><circle cx="683.1" cy="3.8" r="1.7"/><circle cx="683.7" cy="3.8" r="1.7"/><circle cx="684.2" cy="3.9" r="1.7"/><circle cx="684.7" cy="3.8" r="1.7"/><circle cx="685.2" cy="3.8" r="1.7"/><circle cx="685.7" cy="3.8" r="1.7"/><circle cx="686.3" cy="3.8" r="1.7"/><circle cx="686.8" cy="3.8" r="1.7"/><circle cx="687.3" cy="3.8" r="1.7"/><circle cx="687.8" cy="3.8" r="1.7"/><circle cx="688.3" cy="3.8" r="1.7"/><circle cx="688.9" cy="3.8" r="1.7"/><circle cx="689.4" cy="3.8" r="1.7"/><circle cx="689.9" cy="3.8" r="1.7"/><circle cx="690.4" cy="3.8" r="1.7"/><circle cx="691.0" cy="3.8" r="1.7"/><circle cx="691.5" cy="3.8" r="1.7"/><circle cx="692.0" cy="3.8" r="1.7"/><circle cx="692.5" cy="3.8" r="1.7"/><circle cx="693.0" cy="3.8" r="1.7"/><circle cx="693.6" cy="3.8" r="1.7"/><circle cx="694.1" cy="3.8" r="1.7"/><circle cx="694.6" cy="3.8" r="1.7"/><circle cx="695.1" cy="3.8" r="1.7"/><circle cx="695.7" cy="3.8" r="1.7"/><circle cx="696.2" cy="3.8" r="1.7"/><circle cx="696.7" cy="3.8" r="1.7"/><circle cx="697.2" cy="3.8" r="1.7"/><circle cx="697.7" cy="3.8" r="1.7"/><circle cx="698.3" cy="3.8" r="1.7"/><circle cx="698.8" cy="3.8" r="1.7"/><circle cx="699.3" cy="3.8" r="1.7"/><circle cx="699.8" cy="3.8" r="1.7"/><circle cx="700.3" cy="3.8" r="1.7"/><circle cx="700.9" cy="3.9" r="1.7"/><circle cx="701.4" cy="3.8" r="1.7"/><circle cx="701.9" cy="3.8" r="1.7"/><circle cx="702.4" cy="3.8" r="1.7"/><circle cx="703.0" cy="3.8" r="1.7"/><circle cx="703.5" cy="3.8" r="1.7"/><circle cx="704.0" cy="3.8" r="1.7"/><circle cx="704.5" cy="3.8" r="1.7"/><circle cx="705.0" cy="3.8" r="1.7"/><circle cx="705.6" cy="3.8" r="1.7"/><circle cx="706.1" cy="3.8" r="1.7"/><circle cx="706.6" cy="3.8" r="1.7"/><circle cx="707.1" cy="3.8" r="1.7"/><circle cx="707.7" cy="3.8" r="1.7"/><circle cx="708.2" cy="3.8" r="1.7"/><circle cx="708.7" cy="3.8" r="1.7"/><circle cx="709.2" cy="4.1" r="1.7"/><circle cx="709.7" cy="3.8" r="1.7"/><circle cx="710.3" cy="3.8" r="1.7"/><circle cx="710.8" cy="3.8" r="1.7"/><circle cx="711.3" cy="3.8" r="1.7"/><circle cx="711.8" cy="3.8" r="1.7"/><circle cx="712.4" cy="3.8" r="1.7"/><circle cx="712.9" cy="3.8" r="1.7"/><circle cx="713.4" cy="4.3" r="1.7"/><circle cx="713.9" cy="3.8" r="1.7"/><circle cx="714.4" cy="3.8" r="1.7"/><circle cx="715.0" cy="3.8" r="1.7"/><circle cx="715.5" cy="4.9" r="1.7"/><circle cx="716.0" cy="3.8" r="1.7"/><circle cx="716.5" cy="5.9" r="1.7"/><circle cx="717.0" cy="7.7" r="1.7"/><circle cx="717.6" cy="68.2" r="1.7"/><circle cx="718.1" cy="3.8" r="1.7"/><circle cx="718.6" cy="3.8" r="1.7"/><circle cx="719.1" cy="3.8" r="1.7"/><circle cx="719.7" cy="3.8" r="1.7"/><circle cx="720.2" cy="3.8" r="1.7"/><circle cx="720.7" cy="3.8" r="1.7"/><circle cx="721.2" cy="3.8" r="1.7"/><circle cx="721.7" cy="3.8" r="1.7"/><circle cx="722.3" cy="3.8" r="1.7"/><circle cx="722.8" cy="3.8" r="1.7"/><circle cx="723.3" cy="3.8" r="1.7"/><circle cx="723.8" cy="3.8" r="1.7"/><circle cx="724.4" cy="3.8" r="1.7"/><circle cx="724.9" cy="3.8" r="1.7"/><circle cx="725.4" cy="3.8" r="1.7"/><circle cx="725.9" cy="3.8" r="1.7"/><circle cx="726.4" cy="3.8" r="1.7"/><circle cx="727.0" cy="3.8" r="1.7"/><circle cx="727.5" cy="3.8" r="1.7"/><circle cx="728.0" cy="3.8" r="1.7"/><circle cx="728.5" cy="3.8" r="1.7"/><circle cx="729.0" cy="3.8" r="1.7"/><circle cx="729.6" cy="3.8" r="1.7"/><circle cx="730.1" cy="3.8" r="1.7"/><circle cx="730.6" cy="3.8" r="1.7"/><circle cx="731.1" cy="3.8" r="1.7"/><circle cx="731.7" cy="3.8" r="1.7"/><circle cx="732.2" cy="3.8" r="1.7"/><circle cx="732.7" cy="3.8" r="1.7"/><circle cx="733.2" cy="3.8" r="1.7"/><circle cx="733.7" cy="3.8" r="1.7"/><circle cx="734.3" cy="4.3" r="1.7"/><circle cx="734.8" cy="3.8" r="1.7"/><circle cx="735.3" cy="3.8" r="1.7"/><circle cx="735.8" cy="3.8" r="1.7"/><circle cx="736.4" cy="3.8" r="1.7"/><circle cx="736.9" cy="3.8" r="1.7"/><circle cx="737.4" cy="3.8" r="1.7"/><circle cx="737.9" cy="3.8" r="1.7"/><circle cx="738.4" cy="3.8" r="1.7"/><circle cx="739.0" cy="3.8" r="1.7"/><circle cx="739.5" cy="3.8" r="1.7"/><circle cx="740.0" cy="3.8" r="1.7"/><circle cx="740.5" cy="3.8" r="1.7"/><circle cx="741.0" cy="3.8" r="1.7"/><circle cx="741.6" cy="3.8" r="1.7"/><circle cx="742.1" cy="3.8" r="1.7"/><circle cx="742.6" cy="4.8" r="1.7"/><circle cx="743.1" cy="3.8" r="1.7"/><circle cx="743.7" cy="3.8" r="1.7"/><circle cx="744.2" cy="3.8" r="1.7"/><circle cx="744.7" cy="3.8" r="1.7"/><circle cx="745.2" cy="3.8" r="1.7"/><circle cx="745.7" cy="3.8" r="1.7"/><circle cx="746.3" cy="3.8" r="1.7"/><circle cx="746.8" cy="5.8" r="1.7"/><circle cx="747.3" cy="3.8" r="1.7"/><circle cx="747.8" cy="3.8" r="1.7"/><circle cx="748.4" cy="3.8" r="1.7"/><circle cx="748.9" cy="7.6" r="1.7"/><circle cx="749.4" cy="3.8" r="1.7"/><circle cx="749.9" cy="11.1" r="1.7"/><circle cx="750.4" cy="16.8" r="1.7"/><circle cx="751.0" cy="114.9" r="1.7"/><circle cx="751.5" cy="3.8" r="1.7"/><circle cx="752.0" cy="3.8" r="1.7"/><circle cx="752.5" cy="3.8" r="1.7"/><circle cx="753.1" cy="3.8" r="1.7"/><circle cx="753.6" cy="3.8" r="1.7"/><circle cx="754.1" cy="3.8" r="1.7"/><circle cx="754.6" cy="3.8" r="1.7"/><circle cx="755.1" cy="3.8" r="1.7"/><circle cx="755.7" cy="3.8" r="1.7"/><circle cx="756.2" cy="3.8" r="1.7"/><circle cx="756.7" cy="3.8" r="1.7"/><circle cx="757.2" cy="3.8" r="1.7"/><circle cx="757.7" cy="3.8" r="1.7"/><circle cx="758.3" cy="3.8" r="1.7"/><circle cx="758.8" cy="3.8" r="1.7"/><circle cx="759.3" cy="7.2" r="1.7"/><circle cx="759.8" cy="3.8" r="1.7"/><circle cx="760.4" cy="3.8" r="1.7"/><circle cx="760.9" cy="3.8" r="1.7"/><circle cx="761.4" cy="3.8" r="1.7"/><circle cx="761.9" cy="3.8" r="1.7"/><circle cx="762.4" cy="3.8" r="1.7"/><circle cx="763.0" cy="3.8" r="1.7"/><circle cx="763.5" cy="10.4" r="1.7"/><circle cx="764.0" cy="3.8" r="1.7"/><circle cx="764.5" cy="3.9" r="1.7"/><circle cx="765.1" cy="3.9" r="1.7"/><circle cx="765.6" cy="16.2" r="1.7"/><circle cx="766.1" cy="4.2" r="1.7"/><circle cx="766.6" cy="26.0" r="1.7"/><circle cx="767.1" cy="40.7" r="1.7"/><circle cx="767.7" cy="175.8" r="1.7"/><circle cx="768.2" cy="3.8" r="1.7"/><circle cx="768.7" cy="3.8" r="1.7"/><circle cx="769.2" cy="3.8" r="1.7"/><circle cx="769.7" cy="3.9" r="1.7"/><circle cx="770.3" cy="3.8" r="1.7"/><circle cx="770.8" cy="4.0" r="1.7"/><circle cx="771.3" cy="4.1" r="1.7"/><circle cx="771.8" cy="22.7" r="1.7"/><circle cx="772.4" cy="3.8" r="1.7"/><circle cx="772.9" cy="4.3" r="1.7"/><circle cx="773.4" cy="4.8" r="1.7"/><circle cx="773.9" cy="37.6" r="1.7"/><circle cx="774.4" cy="6.8" r="1.7"/><circle cx="775.0" cy="59.9" r="1.7"/><circle cx="775.5" cy="87.6" r="1.7"/><circle cx="776.0" cy="234.8" r="1.7"/><circle cx="776.5" cy="3.8" r="1.7"/><circle cx="777.1" cy="6.6" r="1.7"/><circle cx="777.6" cy="9.0" r="1.7"/><circle cx="778.1" cy="76.8" r="1.7"/><circle cx="778.6" cy="16.4" r="1.7"/><circle cx="779.1" cy="113.4" r="1.7"/><circle cx="779.7" cy="149.8" r="1.7"/><circle cx="780.2" cy="273.3" r="1.7"/><circle cx="780.7" cy="37.2" r="1.7"/><circle cx="781.2" cy="169.1" r="1.7"/><circle cx="781.7" cy="204.2" r="1.7"/><circle cx="782.3" cy="290.3" r="1.7"/><circle cx="782.8" cy="237.6" r="1.7"/><circle cx="783.3" cy="295.9" r="1.7"/><circle cx="783.8" cy="297.6" r="1.7"/><circle cx="784.4" cy="299.5" r="1.7"/><circle cx="784.9" cy="3.8" r="1.7"/><circle cx="785.4" cy="3.8" r="1.7"/><circle cx="785.9" cy="3.8" r="1.7"/><circle cx="786.4" cy="3.8" r="1.7"/><circle cx="787.0" cy="3.8" r="1.7"/><circle cx="787.5" cy="3.8" r="1.7"/><circle cx="788.0" cy="3.8" r="1.7"/><circle cx="788.5" cy="3.8" r="1.7"/><circle cx="789.1" cy="3.8" r="1.7"/><circle cx="789.6" cy="3.8" r="1.7"/><circle cx="790.1" cy="3.8" r="1.7"/><circle cx="790.6" cy="3.8" r="1.7"/><circle cx="791.1" cy="3.8" r="1.7"/><circle cx="791.7" cy="3.8" r="1.7"/><circle cx="792.2" cy="3.8" r="1.7"/><circle cx="792.7" cy="3.8" r="1.7"/><circle cx="793.2" cy="3.8" r="1.7"/><circle cx="793.8" cy="3.8" r="1.7"/><circle cx="794.3" cy="3.8" r="1.7"/><circle cx="794.8" cy="3.8" r="1.7"/><circle cx="795.3" cy="3.8" r="1.7"/><circle cx="795.8" cy="3.8" r="1.7"/><circle cx="796.4" cy="3.8" r="1.7"/><circle cx="796.9" cy="3.8" r="1.7"/><circle cx="797.4" cy="3.8" r="1.7"/><circle cx="797.9" cy="3.8" r="1.7"/><circle cx="798.4" cy="3.8" r="1.7"/><circle cx="799.0" cy="3.8" r="1.7"/><circle cx="799.5" cy="3.8" r="1.7"/><circle cx="800.0" cy="3.8" r="1.7"/><circle cx="800.5" cy="3.8" r="1.7"/><circle cx="801.1" cy="7.5" r="1.7"/><circle cx="801.6" cy="3.8" r="1.7"/><circle cx="802.1" cy="3.8" r="1.7"/><circle cx="802.6" cy="3.8" r="1.7"/><circle cx="803.1" cy="3.8" r="1.7"/><circle cx="803.7" cy="3.8" r="1.7"/><circle cx="804.2" cy="3.8" r="1.7"/><circle cx="804.7" cy="3.8" r="1.7"/><circle cx="805.2" cy="3.8" r="1.7"/><circle cx="805.8" cy="3.8" r="1.7"/><circle cx="806.3" cy="3.8" r="1.7"/><circle cx="806.8" cy="3.8" r="1.7"/><circle cx="807.3" cy="3.8" r="1.7"/><circle cx="807.8" cy="3.8" r="1.7"/><circle cx="808.4" cy="3.8" r="1.7"/><circle cx="808.9" cy="3.8" r="1.7"/><circle cx="809.4" cy="10.9" r="1.7"/><circle cx="809.9" cy="3.8" r="1.7"/><circle cx="810.4" cy="3.8" r="1.7"/><circle cx="811.0" cy="3.8" r="1.7"/><circle cx="811.5" cy="3.8" r="1.7"/><circle cx="812.0" cy="3.8" r="1.7"/><circle cx="812.5" cy="3.9" r="1.7"/><circle cx="813.1" cy="4.0" r="1.7"/><circle cx="813.6" cy="17.4" r="1.7"/><circle cx="814.1" cy="3.8" r="1.7"/><circle cx="814.6" cy="4.1" r="1.7"/><circle cx="815.1" cy="4.3" r="1.7"/><circle cx="815.7" cy="28.6" r="1.7"/><circle cx="816.2" cy="5.4" r="1.7"/><circle cx="816.7" cy="46.2" r="1.7"/><circle cx="817.2" cy="69.4" r="1.7"/><circle cx="817.8" cy="216.8" r="1.7"/><circle cx="818.3" cy="3.8" r="1.7"/><circle cx="818.8" cy="3.8" r="1.7"/><circle cx="819.3" cy="3.8" r="1.7"/><circle cx="819.8" cy="3.8" r="1.7"/><circle cx="820.4" cy="3.8" r="1.7"/><circle cx="820.9" cy="3.8" r="1.7"/><circle cx="821.4" cy="3.8" r="1.7"/><circle cx="821.9" cy="3.9" r="1.7"/><circle cx="822.4" cy="3.8" r="1.7"/><circle cx="823.0" cy="3.8" r="1.7"/><circle cx="823.5" cy="3.8" r="1.7"/><circle cx="824.0" cy="3.9" r="1.7"/><circle cx="824.5" cy="3.8" r="1.7"/><circle cx="825.1" cy="4.0" r="1.7"/><circle cx="825.6" cy="4.2" r="1.7"/><circle cx="826.1" cy="25.0" r="1.7"/><circle cx="826.6" cy="3.8" r="1.7"/><circle cx="827.1" cy="3.8" r="1.7"/><circle cx="827.7" cy="3.8" r="1.7"/><circle cx="828.2" cy="4.2" r="1.7"/><circle cx="828.7" cy="3.8" r="1.7"/><circle cx="829.2" cy="4.5" r="1.7"/><circle cx="829.8" cy="5.1" r="1.7"/><circle cx="830.3" cy="42.4" r="1.7"/><circle cx="830.8" cy="3.8" r="1.7"/><circle cx="831.3" cy="6.0" r="1.7"/><circle cx="831.8" cy="7.9" r="1.7"/><circle cx="832.4" cy="69.1" r="1.7"/><circle cx="832.9" cy="14.0" r="1.7"/><circle cx="833.4" cy="103.6" r="1.7"/><circle cx="833.9" cy="139.2" r="1.7"/><circle cx="834.5" cy="268.6" r="1.7"/><circle cx="835.0" cy="3.8" r="1.7"/><circle cx="835.5" cy="3.8" r="1.7"/><circle cx="836.0" cy="3.8" r="1.7"/><circle cx="836.5" cy="5.9" r="1.7"/><circle cx="837.1" cy="3.8" r="1.7"/><circle cx="837.6" cy="7.9" r="1.7"/><circle cx="838.1" cy="11.3" r="1.7"/><circle cx="838.6" cy="90.5" r="1.7"/><circle cx="839.1" cy="3.9" r="1.7"/><circle cx="839.7" cy="14.7" r="1.7"/><circle cx="840.2" cy="23.0" r="1.7"/><circle cx="840.7" cy="135.2" r="1.7"/><circle cx="841.2" cy="42.8" r="1.7"/><circle cx="841.8" cy="179.6" r="1.7"/><circle cx="842.3" cy="213.5" r="1.7"/><circle cx="842.8" cy="292.1" r="1.7"/><circle cx="843.3" cy="4.8" r="1.7"/><circle cx="843.8" cy="37.6" r="1.7"/><circle cx="844.4" cy="57.6" r="1.7"/><circle cx="844.9" cy="202.2" r="1.7"/><circle cx="845.4" cy="93.7" r="1.7"/><circle cx="845.9" cy="240.0" r="1.7"/><circle cx="846.5" cy="261.6" r="1.7"/><circle cx="847.0" cy="298.2" r="1.7"/><circle cx="847.5" cy="144.2" r="1.7"/><circle cx="848.0" cy="270.9" r="1.7"/><circle cx="848.5" cy="282.7" r="1.7"/><circle cx="849.1" cy="299.3" r="1.7"/><circle cx="849.6" cy="290.3" r="1.7"/><circle cx="850.1" cy="299.4" r="1.7"/><circle cx="850.6" cy="299.5" r="1.7"/><circle cx="851.1" cy="299.5" r="1.7"/><circle cx="851.7" cy="3.8" r="1.7"/><circle cx="852.2" cy="3.8" r="1.7"/><circle cx="852.7" cy="3.8" r="1.7"/><circle cx="853.2" cy="3.8" r="1.7"/><circle cx="853.8" cy="3.8" r="1.7"/><circle cx="854.3" cy="3.8" r="1.7"/><circle cx="854.8" cy="3.8" r="1.7"/><circle cx="855.3" cy="4.6" r="1.7"/><circle cx="855.8" cy="3.8" r="1.7"/><circle cx="856.4" cy="3.8" r="1.7"/><circle cx="856.9" cy="3.8" r="1.7"/><circle cx="857.4" cy="5.5" r="1.7"/><circle cx="857.9" cy="3.8" r="1.7"/><circle cx="858.5" cy="7.0" r="1.7"/><circle cx="859.0" cy="9.7" r="1.7"/><circle cx="859.5" cy="81.6" r="1.7"/><circle cx="860.0" cy="3.8" r="1.7"/><circle cx="860.5" cy="3.8" r="1.7"/><circle cx="861.1" cy="3.8" r="1.7"/><circle cx="861.6" cy="8.9" r="1.7"/><circle cx="862.1" cy="3.9" r="1.7"/><circle cx="862.6" cy="13.2" r="1.7"/><circle cx="863.2" cy="20.5" r="1.7"/><circle cx="863.7" cy="127.7" r="1.7"/><circle cx="864.2" cy="4.3" r="1.7"/><circle cx="864.7" cy="26.9" r="1.7"/><circle cx="865.2" cy="42.0" r="1.7"/><circle cx="865.8" cy="178.1" r="1.7"/><circle cx="866.3" cy="72.3" r="1.7"/><circle cx="866.8" cy="220.0" r="1.7"/><circle cx="867.3" cy="246.7" r="1.7"/><circle cx="867.8" cy="296.9" r="1.7"/><circle cx="868.4" cy="3.8" r="1.7"/><circle cx="868.9" cy="4.0" r="1.7"/><circle cx="869.4" cy="4.2" r="1.7"/><circle cx="869.9" cy="24.2" r="1.7"/><circle cx="870.5" cy="4.9" r="1.7"/><circle cx="871.0" cy="39.3" r="1.7"/><circle cx="871.5" cy="59.9" r="1.7"/><circle cx="872.0" cy="205.3" r="1.7"/><circle cx="872.5" cy="8.6" r="1.7"/><circle cx="873.1" cy="74.1" r="1.7"/><circle cx="873.6" cy="105.2" r="1.7"/><circle cx="874.1" cy="248.7" r="1.7"/><circle cx="874.6" cy="149.2" r="1.7"/><circle cx="875.2" cy="273.1" r="1.7"/><circle cx="875.7" cy="284.1" r="1.7"/><circle cx="876.2" cy="299.3" r="1.7"/><circle cx="876.7" cy="23.2" r="1.7"/><circle cx="877.2" cy="135.7" r="1.7"/><circle cx="877.8" cy="172.7" r="1.7"/><circle cx="878.3" cy="281.9" r="1.7"/><circle cx="878.8" cy="212.5" r="1.7"/><circle cx="879.3" cy="291.9" r="1.7"/><circle cx="879.8" cy="295.4" r="1.7"/><circle cx="880.4" cy="299.5" r="1.7"/><circle cx="880.9" cy="246.2" r="1.7"/><circle cx="881.4" cy="296.9" r="1.7"/><circle cx="881.9" cy="298.1" r="1.7"/><circle cx="882.5" cy="299.5" r="1.7"/><circle cx="883.0" cy="298.8" r="1.7"/><circle cx="883.5" cy="299.5" r="1.7"/><circle cx="884.0" cy="299.5" r="1.7"/><circle cx="884.5" cy="299.5" r="1.7"/><circle cx="885.1" cy="3.8" r="1.7"/><circle cx="885.6" cy="6.7" r="1.7"/><circle cx="886.1" cy="9.2" r="1.7"/><circle cx="886.6" cy="78.6" r="1.7"/><circle cx="887.2" cy="17.0" r="1.7"/><circle cx="887.7" cy="115.7" r="1.7"/><circle cx="888.2" cy="152.2" r="1.7"/><circle cx="888.7" cy="274.4" r="1.7"/><circle cx="889.2" cy="38.4" r="1.7"/><circle cx="889.8" cy="171.4" r="1.7"/><circle cx="890.3" cy="206.3" r="1.7"/><circle cx="890.8" cy="290.7" r="1.7"/><circle cx="891.3" cy="239.2" r="1.7"/><circle cx="891.8" cy="296.1" r="1.7"/><circle cx="892.4" cy="297.7" r="1.7"/><circle cx="892.9" cy="299.5" r="1.7"/><circle cx="893.4" cy="82.0" r="1.7"/><circle cx="893.9" cy="229.7" r="1.7"/><circle cx="894.5" cy="254.1" r="1.7"/><circle cx="895.0" cy="297.6" r="1.7"/><circle cx="895.5" cy="272.7" r="1.7"/><circle cx="896.0" cy="298.9" r="1.7"/><circle cx="896.5" cy="299.2" r="1.7"/><circle cx="897.1" cy="299.5" r="1.7"/><circle cx="897.6" cy="284.8" r="1.7"/><circle cx="898.1" cy="299.3" r="1.7"/><circle cx="898.6" cy="299.4" r="1.7"/><circle cx="899.2" cy="299.5" r="1.7"/><circle cx="899.7" cy="299.5" r="1.7"/><circle cx="900.2" cy="299.5" r="1.7"/><circle cx="900.7" cy="299.5" r="1.7"/><circle cx="901.2" cy="299.5" r="1.7"/><circle cx="901.8" cy="142.5" r="1.7"/><circle cx="902.3" cy="270.1" r="1.7"/><circle cx="902.8" cy="282.2" r="1.7"/><circle cx="903.3" cy="299.2" r="1.7"/><circle cx="903.9" cy="290.0" r="1.7"/><circle cx="904.4" cy="299.4" r="1.7"/><circle cx="904.9" cy="299.5" r="1.7"/><circle cx="905.4" cy="299.5" r="1.7"/><circle cx="905.9" cy="294.5" r="1.7"/><circle cx="906.5" cy="299.5" r="1.7"/><circle cx="907.0" cy="299.5" r="1.7"/><circle cx="907.5" cy="299.5" r="1.7"/><circle cx="908.0" cy="299.5" r="1.7"/><circle cx="908.5" cy="299.5" r="1.7"/><circle cx="909.1" cy="299.5" r="1.7"/><circle cx="909.6" cy="299.5" r="1.7"/><circle cx="910.1" cy="296.9" r="1.7"/><circle cx="910.6" cy="299.5" r="1.7"/><circle cx="911.2" cy="299.5" r="1.7"/><circle cx="911.7" cy="299.5" r="1.7"/><circle cx="912.2" cy="299.5" r="1.7"/><circle cx="912.7" cy="299.5" r="1.7"/><circle cx="913.2" cy="299.5" r="1.7"/><circle cx="913.8" cy="299.5" r="1.7"/><circle cx="914.3" cy="299.5" r="1.7"/><circle cx="914.8" cy="299.5" r="1.7"/><circle cx="915.3" cy="299.5" r="1.7"/><circle cx="915.9" cy="299.5" r="1.7"/><circle cx="916.4" cy="299.5" r="1.7"/><circle cx="916.9" cy="299.5" r="1.7"/><circle cx="917.4" cy="299.5" r="1.7"/><circle cx="917.9" cy="299.5" r="1.7"/><circle cx="918.5" cy="3.8" r="1.7"/><circle cx="919.0" cy="3.8" r="1.7"/><circle cx="919.5" cy="3.8" r="1.7"/><circle cx="920.0" cy="3.8" r="1.7"/><circle cx="920.5" cy="3.8" r="1.7"/><circle cx="921.1" cy="3.8" r="1.7"/><circle cx="921.6" cy="3.8" r="1.7"/><circle cx="922.1" cy="3.8" r="1.7"/><circle cx="922.6" cy="3.8" r="1.7"/><circle cx="923.2" cy="3.8" r="1.7"/><circle cx="923.7" cy="3.8" r="1.7"/><circle cx="924.2" cy="3.8" r="1.7"/><circle cx="924.7" cy="3.8" r="1.7"/><circle cx="925.2" cy="3.8" r="1.7"/><circle cx="925.8" cy="3.8" r="1.7"/><circle cx="926.3" cy="3.9" r="1.7"/><circle cx="926.8" cy="3.8" r="1.7"/><circle cx="927.3" cy="3.8" r="1.7"/><circle cx="927.9" cy="3.8" r="1.7"/><circle cx="928.4" cy="3.8" r="1.7"/><circle cx="928.9" cy="3.8" r="1.7"/><circle cx="929.4" cy="3.8" r="1.7"/><circle cx="929.9" cy="3.8" r="1.7"/><circle cx="930.5" cy="3.9" r="1.7"/><circle cx="931.0" cy="3.8" r="1.7"/><circle cx="931.5" cy="3.8" r="1.7"/><circle cx="932.0" cy="3.8" r="1.7"/><circle cx="932.5" cy="4.1" r="1.7"/><circle cx="933.1" cy="3.8" r="1.7"/><circle cx="933.6" cy="4.3" r="1.7"/><circle cx="934.1" cy="4.8" r="1.7"/><circle cx="934.6" cy="37.5" r="1.7"/><circle cx="935.2" cy="3.8" r="1.7"/><circle cx="935.7" cy="3.8" r="1.7"/><circle cx="936.2" cy="3.8" r="1.7"/><circle cx="936.7" cy="3.8" r="1.7"/><circle cx="937.2" cy="3.8" r="1.7"/><circle cx="937.8" cy="3.8" r="1.7"/><circle cx="938.3" cy="3.8" r="1.7"/><circle cx="938.8" cy="4.3" r="1.7"/><circle cx="939.3" cy="3.8" r="1.7"/><circle cx="939.9" cy="3.8" r="1.7"/><circle cx="940.4" cy="3.8" r="1.7"/><circle cx="940.9" cy="4.7" r="1.7"/><circle cx="941.4" cy="3.8" r="1.7"/><circle cx="941.9" cy="5.6" r="1.7"/><circle cx="942.5" cy="7.3" r="1.7"/><circle cx="943.0" cy="64.2" r="1.7"/><circle cx="943.5" cy="3.8" r="1.7"/><circle cx="944.0" cy="3.8" r="1.7"/><circle cx="944.6" cy="3.8" r="1.7"/><circle cx="945.1" cy="6.8" r="1.7"/><circle cx="945.6" cy="3.8" r="1.7"/><circle cx="946.1" cy="9.4" r="1.7"/><circle cx="946.6" cy="14.0" r="1.7"/><circle cx="947.2" cy="103.6" r="1.7"/><circle cx="947.7" cy="4.0" r="1.7"/><circle cx="948.2" cy="18.4" r="1.7"/><circle cx="948.7" cy="28.9" r="1.7"/><circle cx="949.2" cy="151.1" r="1.7"/><circle cx="949.8" cy="52.6" r="1.7"/><circle cx="950.3" cy="195.3" r="1.7"/><circle cx="950.8" cy="226.9" r="1.7"/><circle cx="951.3" cy="294.4" r="1.7"/><circle cx="951.9" cy="3.8" r="1.7"/><circle cx="952.4" cy="3.8" r="1.7"/><circle cx="952.9" cy="3.8" r="1.7"/><circle cx="953.4" cy="3.8" r="1.7"/><circle cx="953.9" cy="3.8" r="1.7"/><circle cx="954.5" cy="3.8" r="1.7"/><circle cx="955.0" cy="3.8" r="1.7"/><circle cx="955.5" cy="6.8" r="1.7"/><circle cx="956.0" cy="3.8" r="1.7"/><circle cx="956.6" cy="3.8" r="1.7"/><circle cx="957.1" cy="3.8" r="1.7"/><circle cx="957.6" cy="9.5" r="1.7"/><circle cx="958.1" cy="3.9" r="1.7"/><circle cx="958.6" cy="14.5" r="1.7"/><circle cx="959.2" cy="22.5" r="1.7"/><circle cx="959.7" cy="133.9" r="1.7"/><circle cx="960.2" cy="3.8" r="1.7"/><circle cx="960.7" cy="3.9" r="1.7"/><circle cx="961.2" cy="4.0" r="1.7"/><circle cx="961.8" cy="19.6" r="1.7"/><circle cx="962.3" cy="4.5" r="1.7"/><circle cx="962.8" cy="31.7" r="1.7"/><circle cx="963.3" cy="49.1" r="1.7"/><circle cx="963.9" cy="190.0" r="1.7"/><circle cx="964.4" cy="6.9" r="1.7"/><circle cx="964.9" cy="61.6" r="1.7"/><circle cx="965.4" cy="89.7" r="1.7"/><circle cx="965.9" cy="236.7" r="1.7"/><circle cx="966.5" cy="132.5" r="1.7"/><circle cx="967.0" cy="265.2" r="1.7"/><circle cx="967.5" cy="279.0" r="1.7"/><circle cx="968.0" cy="299.1" r="1.7"/><circle cx="968.6" cy="3.8" r="1.7"/><circle cx="969.1" cy="5.0" r="1.7"/><circle cx="969.6" cy="6.2" r="1.7"/><circle cx="970.1" cy="54.3" r="1.7"/><circle cx="970.6" cy="10.1" r="1.7"/><circle cx="971.2" cy="83.8" r="1.7"/><circle cx="971.7" cy="116.7" r="1.7"/><circle cx="972.2" cy="256.3" r="1.7"/><circle cx="972.7" cy="23.1" r="1.7"/><circle cx="973.2" cy="135.6" r="1.7"/><circle cx="973.8" cy="172.6" r="1.7"/><circle cx="974.3" cy="281.8" r="1.7"/><circle cx="974.8" cy="212.4" r="1.7"/><circle cx="975.3" cy="291.9" r="1.7"/><circle cx="975.9" cy="295.4" r="1.7"/><circle cx="976.4" cy="299.5" r="1.7"/><circle cx="976.9" cy="56.3" r="1.7"/><circle cx="977.4" cy="200.5" r="1.7"/><circle cx="977.9" cy="231.2" r="1.7"/><circle cx="978.5" cy="295.0" r="1.7"/><circle cx="979.0" cy="257.3" r="1.7"/><circle cx="979.5" cy="297.9" r="1.7"/><circle cx="980.0" cy="298.7" r="1.7"/><circle cx="980.6" cy="299.5" r="1.7"/><circle cx="981.1" cy="275.6" r="1.7"/><circle cx="981.6" cy="299.0" r="1.7"/><circle cx="982.1" cy="299.2" r="1.7"/><circle cx="982.6" cy="299.5" r="1.7"/><circle cx="983.2" cy="299.4" r="1.7"/><circle cx="983.7" cy="299.5" r="1.7"/><circle cx="984.2" cy="299.5" r="1.7"/><circle cx="984.7" cy="299.5" r="1.7"/><circle cx="985.3" cy="3.8" r="1.7"/><circle cx="985.8" cy="3.8" r="1.7"/><circle cx="986.3" cy="3.8" r="1.7"/><circle cx="986.8" cy="3.9" r="1.7"/><circle cx="987.3" cy="3.8" r="1.7"/><circle cx="987.9" cy="4.0" r="1.7"/><circle cx="988.4" cy="4.2" r="1.7"/><circle cx="988.9" cy="25.7" r="1.7"/><circle cx="989.4" cy="3.8" r="1.7"/><circle cx="989.9" cy="4.5" r="1.7"/><circle cx="990.5" cy="5.2" r="1.7"/><circle cx="991.0" cy="42.7" r="1.7"/><circle cx="991.5" cy="7.6" r="1.7"/><circle cx="992.0" cy="67.4" r="1.7"/><circle cx="992.6" cy="97.0" r="1.7"/><circle cx="993.1" cy="242.6" r="1.7"/><circle cx="993.6" cy="3.8" r="1.7"/><circle cx="994.1" cy="7.4" r="1.7"/><circle cx="994.6" cy="10.4" r="1.7"/><circle cx="995.2" cy="85.4" r="1.7"/><circle cx="995.7" cy="19.4" r="1.7"/><circle cx="996.2" cy="124.2" r="1.7"/><circle cx="996.7" cy="161.0" r="1.7"/><circle cx="997.3" cy="277.8" r="1.7"/><circle cx="997.8" cy="43.1" r="1.7"/><circle cx="998.3" cy="180.1" r="1.7"/><circle cx="998.8" cy="213.9" r="1.7"/><circle cx="999.3" cy="292.2" r="1.7"/><circle cx="999.9" cy="244.9" r="1.7"/><circle cx="1000.4" cy="296.7" r="1.7"/><circle cx="1000.9" cy="298.0" r="1.7"/><circle cx="1001.4" cy="299.5" r="1.7"/><circle cx="1001.9" cy="4.1" r="1.7"/><circle cx="1002.5" cy="22.2" r="1.7"/><circle cx="1003.0" cy="34.8" r="1.7"/><circle cx="1003.5" cy="164.3" r="1.7"/><circle cx="1004.0" cy="61.8" r="1.7"/><circle cx="1004.6" cy="207.7" r="1.7"/><circle cx="1005.1" cy="237.0" r="1.7"/><circle cx="1005.6" cy="295.8" r="1.7"/><circle cx="1006.1" cy="107.3" r="1.7"/><circle cx="1006.6" cy="250.2" r="1.7"/><circle cx="1007.2" cy="268.8" r="1.7"/><circle cx="1007.7" cy="298.7" r="1.7"/><circle cx="1008.2" cy="282.0" r="1.7"/><circle cx="1008.7" cy="299.2" r="1.7"/><circle cx="1009.3" cy="299.4" r="1.7"/><circle cx="1009.8" cy="299.5" r="1.7"/><circle cx="1010.3" cy="163.6" r="1.7"/><circle cx="1010.8" cy="278.8" r="1.7"/><circle cx="1011.3" cy="287.6" r="1.7"/><circle cx="1011.9" cy="299.4" r="1.7"/><circle cx="1012.4" cy="293.1" r="1.7"/><circle cx="1012.9" cy="299.5" r="1.7"/><circle cx="1013.4" cy="299.5" r="1.7"/><circle cx="1014.0" cy="299.5" r="1.7"/><circle cx="1014.5" cy="296.2" r="1.7"/><circle cx="1015.0" cy="299.5" r="1.7"/><circle cx="1015.5" cy="299.5" r="1.7"/><circle cx="1016.0" cy="299.5" r="1.7"/><circle cx="1016.6" cy="299.5" r="1.7"/><circle cx="1017.1" cy="299.5" r="1.7"/><circle cx="1017.6" cy="299.5" r="1.7"/><circle cx="1018.1" cy="299.5" r="1.7"/><circle cx="1018.6" cy="8.2" r="1.7"/><circle cx="1019.2" cy="71.7" r="1.7"/><circle cx="1019.7" cy="102.2" r="1.7"/><circle cx="1020.2" cy="246.6" r="1.7"/><circle cx="1020.7" cy="146.1" r="1.7"/><circle cx="1021.3" cy="271.8" r="1.7"/><circle cx="1021.8" cy="283.2" r="1.7"/><circle cx="1022.3" cy="299.3" r="1.7"/><circle cx="1022.8" cy="194.5" r="1.7"/><circle cx="1023.3" cy="288.0" r="1.7"/><circle cx="1023.9" cy="293.1" r="1.7"/><circle cx="1024.4" cy="299.5" r="1.7"/><circle cx="1024.9" cy="296.1" r="1.7"/><circle cx="1025.4" cy="299.5" r="1.7"/><circle cx="1026.0" cy="299.5" r="1.7"/><circle cx="1026.5" cy="299.5" r="1.7"/><circle cx="1027.0" cy="235.4" r="1.7"/><circle cx="1027.5" cy="295.6" r="1.7"/><circle cx="1028.0" cy="297.4" r="1.7"/><circle cx="1028.6" cy="299.5" r="1.7"/><circle cx="1029.1" cy="298.4" r="1.7"/><circle cx="1029.6" cy="299.5" r="1.7"/><circle cx="1030.1" cy="299.5" r="1.7"/><circle cx="1030.6" cy="299.5" r="1.7"/><circle cx="1031.2" cy="299.0" r="1.7"/><circle cx="1031.7" cy="299.5" r="1.7"/><circle cx="1032.2" cy="299.5" r="1.7"/><circle cx="1032.7" cy="299.5" r="1.7"/><circle cx="1033.3" cy="299.5" r="1.7"/><circle cx="1033.8" cy="299.5" r="1.7"/><circle cx="1034.3" cy="299.5" r="1.7"/><circle cx="1034.8" cy="299.5" r="1.7"/><circle cx="1035.3" cy="263.6" r="1.7"/><circle cx="1035.9" cy="298.3" r="1.7"/><circle cx="1036.4" cy="298.9" r="1.7"/><circle cx="1036.9" cy="299.5" r="1.7"/><circle cx="1037.4" cy="299.2" r="1.7"/><circle cx="1038.0" cy="299.5" r="1.7"/><circle cx="1038.5" cy="299.5" r="1.7"/><circle cx="1039.0" cy="299.5" r="1.7"/><circle cx="1039.5" cy="299.3" r="1.7"/><circle cx="1040.0" cy="299.5" r="1.7"/><circle cx="1040.6" cy="299.5" r="1.7"/><circle cx="1041.1" cy="299.5" r="1.7"/><circle cx="1041.6" cy="299.5" r="1.7"/><circle cx="1042.1" cy="299.5" r="1.7"/><circle cx="1042.6" cy="299.5" r="1.7"/><circle cx="1043.2" cy="299.5" r="1.7"/><circle cx="1043.7" cy="299.4" r="1.7"/><circle cx="1044.2" cy="299.5" r="1.7"/><circle cx="1044.7" cy="299.5" r="1.7"/><circle cx="1045.3" cy="299.5" r="1.7"/><circle cx="1045.8" cy="299.5" r="1.7"/><circle cx="1046.3" cy="299.5" r="1.7"/><circle cx="1046.8" cy="299.5" r="1.7"/><circle cx="1047.3" cy="299.5" r="1.7"/><circle cx="1047.9" cy="299.5" r="1.7"/><circle cx="1048.4" cy="299.5" r="1.7"/><circle cx="1048.9" cy="299.5" r="1.7"/><circle cx="1049.4" cy="299.5" r="1.7"/><circle cx="1050.0" cy="299.5" r="1.7"/><circle cx="1050.5" cy="299.5" r="1.7"/><circle cx="1051.0" cy="299.5" r="1.7"/><circle cx="1051.5" cy="299.5" r="1.7"/><circle cx="1052.0" cy="3.8" r="1.7"/><circle cx="1052.6" cy="3.8" r="1.7"/><circle cx="1053.1" cy="3.8" r="1.7"/><circle cx="1053.6" cy="7.4" r="1.7"/><circle cx="1054.1" cy="3.8" r="1.7"/><circle cx="1054.7" cy="10.5" r="1.7"/><circle cx="1055.2" cy="15.9" r="1.7"/><circle cx="1055.7" cy="111.4" r="1.7"/><circle cx="1056.2" cy="4.1" r="1.7"/><circle cx="1056.7" cy="20.9" r="1.7"/><circle cx="1057.3" cy="32.8" r="1.7"/><circle cx="1057.8" cy="160.1" r="1.7"/><circle cx="1058.3" cy="58.7" r="1.7"/><circle cx="1058.8" cy="203.8" r="1.7"/><circle cx="1059.3" cy="233.8" r="1.7"/><circle cx="1059.9" cy="295.4" r="1.7"/><circle cx="1060.4" cy="5.9" r="1.7"/><circle cx="1060.9" cy="51.5" r="1.7"/><circle cx="1061.4" cy="76.6" r="1.7"/><circle cx="1062.0" cy="224.4" r="1.7"/><circle cx="1062.5" cy="117.3" r="1.7"/><circle cx="1063.0" cy="256.7" r="1.7"/><circle cx="1063.5" cy="273.3" r="1.7"/><circle cx="1064.0" cy="298.9" r="1.7"/><circle cx="1064.6" cy="168.2" r="1.7"/><circle cx="1065.1" cy="280.4" r="1.7"/><circle cx="1065.6" cy="288.6" r="1.7"/><circle cx="1066.1" cy="299.4" r="1.7"/><circle cx="1066.7" cy="293.6" r="1.7"/><circle cx="1067.2" cy="299.5" r="1.7"/><circle cx="1067.7" cy="299.5" r="1.7"/><circle cx="1068.2" cy="299.5" r="1.7"/><circle cx="1068.7" cy="17.0" r="1.7"/><circle cx="1069.3" cy="115.7" r="1.7"/><circle cx="1069.8" cy="152.2" r="1.7"/><circle cx="1070.3" cy="274.3" r="1.7"/><circle cx="1070.8" cy="194.8" r="1.7"/><circle cx="1071.3" cy="288.1" r="1.7"/><circle cx="1071.9" cy="293.2" r="1.7"/><circle cx="1072.4" cy="299.5" r="1.7"/><circle cx="1072.9" cy="233.4" r="1.7"/><circle cx="1073.4" cy="295.3" r="1.7"/><circle cx="1074.0" cy="297.3" r="1.7"/><circle cx="1074.5" cy="299.5" r="1.7"/><circle cx="1075.0" cy="298.4" r="1.7"/><circle cx="1075.5" cy="299.5" r="1.7"/><circle cx="1076.0" cy="299.5" r="1.7"/><circle cx="1076.6" cy="299.5" r="1.7"/><circle cx="1077.1" cy="261.5" r="1.7"/><circle cx="1077.6" cy="298.2" r="1.7"/><circle cx="1078.1" cy="298.8" r="1.7"/><circle cx="1078.7" cy="299.5" r="1.7"/><circle cx="1079.2" cy="299.2" r="1.7"/><circle cx="1079.7" cy="299.5" r="1.7"/><circle cx="1080.2" cy="299.5" r="1.7"/><circle cx="1080.7" cy="299.5" r="1.7"/><circle cx="1081.3" cy="299.3" r="1.7"/><circle cx="1081.8" cy="299.5" r="1.7"/><circle cx="1082.3" cy="299.5" r="1.7"/><circle cx="1082.8" cy="299.5" r="1.7"/><circle cx="1083.3" cy="299.5" r="1.7"/><circle cx="1083.9" cy="299.5" r="1.7"/><circle cx="1084.4" cy="299.5" r="1.7"/><circle cx="1084.9" cy="299.5" r="1.7"/><circle cx="1085.4" cy="53.4" r="1.7"/><circle cx="1086.0" cy="196.5" r="1.7"/><circle cx="1086.5" cy="227.9" r="1.7"/><circle cx="1087.0" cy="294.5" r="1.7"/><circle cx="1087.5" cy="255.0" r="1.7"/><circle cx="1088.0" cy="297.7" r="1.7"/><circle cx="1088.6" cy="298.6" r="1.7"/><circle cx="1089.1" cy="299.5" r="1.7"/><circle cx="1089.6" cy="274.2" r="1.7"/><circle cx="1090.1" cy="298.9" r="1.7"/><circle cx="1090.7" cy="299.2" r="1.7"/><circle cx="1091.2" cy="299.5" r="1.7"/><circle cx="1091.7" cy="299.4" r="1.7"/><circle cx="1092.2" cy="299.5" r="1.7"/><circle cx="1092.7" cy="299.5" r="1.7"/><circle cx="1093.3" cy="299.5" r="1.7"/><circle cx="1093.8" cy="285.9" r="1.7"/><circle cx="1094.3" cy="299.3" r="1.7"/><circle cx="1094.8" cy="299.4" r="1.7"/><circle cx="1095.4" cy="299.5" r="1.7"/><circle cx="1095.9" cy="299.5" r="1.7"/><circle cx="1096.4" cy="299.5" r="1.7"/><circle cx="1096.9" cy="299.5" r="1.7"/><circle cx="1097.4" cy="299.5" r="1.7"/><circle cx="1098.0" cy="299.5" r="1.7"/><circle cx="1098.5" cy="299.5" r="1.7"/><circle cx="1099.0" cy="299.5" r="1.7"/><circle cx="1099.5" cy="299.5" r="1.7"/><circle cx="1100.0" cy="299.5" r="1.7"/><circle cx="1100.6" cy="299.5" r="1.7"/><circle cx="1101.1" cy="299.5" r="1.7"/><circle cx="1101.6" cy="299.5" r="1.7"/><circle cx="1102.1" cy="292.4" r="1.7"/><circle cx="1102.7" cy="299.5" r="1.7"/><circle cx="1103.2" cy="299.5" r="1.7"/><circle cx="1103.7" cy="299.5" r="1.7"/><circle cx="1104.2" cy="299.5" r="1.7"/><circle cx="1104.7" cy="299.5" r="1.7"/><circle cx="1105.3" cy="299.5" r="1.7"/><circle cx="1105.8" cy="299.5" r="1.7"/><circle cx="1106.3" cy="299.5" r="1.7"/><circle cx="1106.8" cy="299.5" r="1.7"/><circle cx="1107.4" cy="299.5" r="1.7"/><circle cx="1107.9" cy="299.5" r="1.7"/><circle cx="1108.4" cy="299.5" r="1.7"/><circle cx="1108.9" cy="299.5" r="1.7"/><circle cx="1109.4" cy="299.5" r="1.7"/><circle cx="1110.0" cy="299.5" r="1.7"/><circle cx="1110.5" cy="299.5" r="1.7"/><circle cx="1111.0" cy="299.5" r="1.7"/><circle cx="1111.5" cy="299.5" r="1.7"/><circle cx="1112.0" cy="299.5" r="1.7"/><circle cx="1112.6" cy="299.5" r="1.7"/><circle cx="1113.1" cy="299.5" r="1.7"/><circle cx="1113.6" cy="299.5" r="1.7"/><circle cx="1114.1" cy="299.5" r="1.7"/><circle cx="1114.7" cy="299.5" r="1.7"/><circle cx="1115.2" cy="299.5" r="1.7"/><circle cx="1115.7" cy="299.5" r="1.7"/><circle cx="1116.2" cy="299.5" r="1.7"/><circle cx="1116.7" cy="299.5" r="1.7"/><circle cx="1117.3" cy="299.5" r="1.7"/><circle cx="1117.8" cy="299.5" r="1.7"/><circle cx="1118.3" cy="299.5" r="1.7"/><circle cx="1118.8" cy="116.4" r="1.7"/><circle cx="1119.4" cy="256.2" r="1.7"/><circle cx="1119.9" cy="272.9" r="1.7"/><circle cx="1120.4" cy="298.9" r="1.7"/><circle cx="1120.9" cy="284.5" r="1.7"/><circle cx="1121.4" cy="299.3" r="1.7"/><circle cx="1122.0" cy="299.4" r="1.7"/><circle cx="1122.5" cy="299.5" r="1.7"/><circle cx="1123.0" cy="291.5" r="1.7"/><circle cx="1123.5" cy="299.4" r="1.7"/><circle cx="1124.0" cy="299.5" r="1.7"/><circle cx="1124.6" cy="299.5" r="1.7"/><circle cx="1125.1" cy="299.5" r="1.7"/><circle cx="1125.6" cy="299.5" r="1.7"/><circle cx="1126.1" cy="299.5" r="1.7"/><circle cx="1126.7" cy="299.5" r="1.7"/><circle cx="1127.2" cy="295.4" r="1.7"/><circle cx="1127.7" cy="299.5" r="1.7"/><circle cx="1128.2" cy="299.5" r="1.7"/><circle cx="1128.7" cy="299.5" r="1.7"/><circle cx="1129.3" cy="299.5" r="1.7"/><circle cx="1129.8" cy="299.5" r="1.7"/><circle cx="1130.3" cy="299.5" r="1.7"/><circle cx="1130.8" cy="299.5" r="1.7"/><circle cx="1131.4" cy="299.5" r="1.7"/><circle cx="1131.9" cy="299.5" r="1.7"/><circle cx="1132.4" cy="299.5" r="1.7"/><circle cx="1132.9" cy="299.5" r="1.7"/><circle cx="1133.4" cy="299.5" r="1.7"/><circle cx="1134.0" cy="299.5" r="1.7"/><circle cx="1134.5" cy="299.5" r="1.7"/><circle cx="1135.0" cy="299.5" r="1.7"/><circle cx="1135.5" cy="297.4" r="1.7"/><circle cx="1136.1" cy="299.5" r="1.7"/><circle cx="1136.6" cy="299.5" r="1.7"/><circle cx="1137.1" cy="299.5" r="1.7"/><circle cx="1137.6" cy="299.5" r="1.7"/><circle cx="1138.1" cy="299.5" r="1.7"/><circle cx="1138.7" cy="299.5" r="1.7"/><circle cx="1139.2" cy="299.5" r="1.7"/><circle cx="1139.7" cy="299.5" r="1.7"/><circle cx="1140.2" cy="299.5" r="1.7"/><circle cx="1140.7" cy="299.5" r="1.7"/><circle cx="1141.3" cy="299.5" r="1.7"/><circle cx="1141.8" cy="299.5" r="1.7"/><circle cx="1142.3" cy="299.5" r="1.7"/><circle cx="1142.8" cy="299.5" r="1.7"/><circle cx="1143.4" cy="299.5" r="1.7"/><circle cx="1143.9" cy="299.5" r="1.7"/><circle cx="1144.4" cy="299.5" r="1.7"/><circle cx="1144.9" cy="299.5" r="1.7"/><circle cx="1145.4" cy="299.5" r="1.7"/><circle cx="1146.0" cy="299.5" r="1.7"/><circle cx="1146.5" cy="299.5" r="1.7"/><circle cx="1147.0" cy="299.5" r="1.7"/><circle cx="1147.5" cy="299.5" r="1.7"/><circle cx="1148.1" cy="299.5" r="1.7"/><circle cx="1148.6" cy="299.5" r="1.7"/><circle cx="1149.1" cy="299.5" r="1.7"/><circle cx="1149.6" cy="299.5" r="1.7"/><circle cx="1150.1" cy="299.5" r="1.7"/><circle cx="1150.7" cy="299.5" r="1.7"/><circle cx="1151.2" cy="299.5" r="1.7"/><circle cx="1151.7" cy="299.5" r="1.7"/><circle cx="1152.2" cy="298.4" r="1.7"/><circle cx="1152.7" cy="299.5" r="1.7"/><circle cx="1153.3" cy="299.5" r="1.7"/><circle cx="1153.8" cy="299.5" r="1.7"/><circle cx="1154.3" cy="299.5" r="1.7"/><circle cx="1154.8" cy="299.5" r="1.7"/><circle cx="1155.4" cy="299.5" r="1.7"/><circle cx="1155.9" cy="299.5" r="1.7"/><circle cx="1156.4" cy="299.5" r="1.7"/><circle cx="1156.9" cy="299.5" r="1.7"/><circle cx="1157.4" cy="299.5" r="1.7"/><circle cx="1158.0" cy="299.5" r="1.7"/><circle cx="1158.5" cy="299.5" r="1.7"/><circle cx="1159.0" cy="299.5" r="1.7"/><circle cx="1159.5" cy="299.5" r="1.7"/><circle cx="1160.1" cy="299.5" r="1.7"/><circle cx="1160.6" cy="299.5" r="1.7"/><circle cx="1161.1" cy="299.5" r="1.7"/><circle cx="1161.6" cy="299.5" r="1.7"/><circle cx="1162.1" cy="299.5" r="1.7"/><circle cx="1162.7" cy="299.5" r="1.7"/><circle cx="1163.2" cy="299.5" r="1.7"/><circle cx="1163.7" cy="299.5" r="1.7"/><circle cx="1164.2" cy="299.5" r="1.7"/><circle cx="1164.7" cy="299.5" r="1.7"/><circle cx="1165.3" cy="299.5" r="1.7"/><circle cx="1165.8" cy="299.5" r="1.7"/><circle cx="1166.3" cy="299.5" r="1.7"/><circle cx="1166.8" cy="299.5" r="1.7"/><circle cx="1167.4" cy="299.5" r="1.7"/><circle cx="1167.9" cy="299.5" r="1.7"/><circle cx="1168.4" cy="299.5" r="1.7"/><circle cx="1168.9" cy="299.5" r="1.7"/><circle cx="1169.4" cy="299.5" r="1.7"/><circle cx="1170.0" cy="299.5" r="1.7"/><circle cx="1170.5" cy="299.5" r="1.7"/><circle cx="1171.0" cy="299.5" r="1.7"/><circle cx="1171.5" cy="299.5" r="1.7"/><circle cx="1172.1" cy="299.5" r="1.7"/><circle cx="1172.6" cy="299.5" r="1.7"/><circle cx="1173.1" cy="299.5" r="1.7"/><circle cx="1173.6" cy="299.5" r="1.7"/><circle cx="1174.1" cy="299.5" r="1.7"/><circle cx="1174.7" cy="299.5" r="1.7"/><circle cx="1175.2" cy="299.5" r="1.7"/><circle cx="1175.7" cy="299.5" r="1.7"/><circle cx="1176.2" cy="299.5" r="1.7"/><circle cx="1176.8" cy="299.5" r="1.7"/><circle cx="1177.3" cy="299.5" r="1.7"/><circle cx="1177.8" cy="299.5" r="1.7"/><circle cx="1178.3" cy="299.5" r="1.7"/><circle cx="1178.8" cy="299.5" r="1.7"/><circle cx="1179.4" cy="299.5" r="1.7"/><circle cx="1179.9" cy="299.5" r="1.7"/><circle cx="1180.4" cy="299.5" r="1.7"/><circle cx="1180.9" cy="299.5" r="1.7"/><circle cx="1181.4" cy="299.5" r="1.7"/><circle cx="1182.0" cy="299.5" r="1.7"/><circle cx="1182.5" cy="299.5" r="1.7"/><circle cx="1183.0" cy="299.5" r="1.7"/><circle cx="1183.5" cy="299.5" r="1.7"/><circle cx="1184.1" cy="299.5" r="1.7"/><circle cx="1184.6" cy="299.5" r="1.7"/><circle cx="1185.1" cy="299.5" r="1.7"/></g>
<line x1="346.2" y1="419.5" x2="881.0" y2="419.5" stroke="#2e2e2e" stroke-width="1.2"/>
<line x1="346.2" y1="715.8" x2="881.0" y2="715.8" stroke="#3a3a3a" stroke-width="1.3"/>
<line x1="346.9" y1="418.9" x2="346.9" y2="716.4" stroke="#4a4a4a" stroke-width="1.25"/>
<line x1="880.4" y1="418.9" x2="880.4" y2="716.4" stroke="#444" stroke-width="1.25"/>
<path d="M347.1 715.7v-6M347.1 419.2v6M413.5 715.7v-6M413.5 419.2v6M480.15 715.7v-6M480.15 419.2v6M546.81 715.7v-6M546.81 419.2v6M613.47 715.7v-6M613.47 419.2v6M680.13 715.7v-6M680.13 419.2v6M746.78 715.7v-6M746.78 419.2v6M813.44 715.7v-6M813.44 419.2v6M880.1 715.7v-6M880.1 419.2v6M346.7 715.7h6M880.3 715.7h-6M346.7 686.05h6M880.3 686.05h-6M346.7 656.4h6M880.3 656.4h-6M346.7 626.75h6M880.3 626.75h-6M346.7 597.1h6M880.3 597.1h-6M346.7 567.45h6M880.3 567.45h-6M346.7 537.8h6M880.3 537.8h-6M346.7 508.15h6M880.3 508.15h-6M346.7 478.5h6M880.3 478.5h-6M346.7 448.85h6M880.3 448.85h-6M346.7 419.2h6M880.3 419.2h-6" fill="none" stroke="#262626" stroke-width="1.1"/>
<text class="tk" font-size="11.6" transform="translate(343.9 729.83) scale(1.0038 0.9805)">1</text>
<text class="tk" font-size="11.6" transform="translate(402.4 729.88) scale(1.1629 0.9900)">256</text>
<text class="tk" font-size="11.6" transform="translate(469.09 729.88) scale(1.1440 0.9900)">512</text>
<text class="tk" font-size="11.6" transform="translate(535.46 729.88) scale(1.1674 0.9900)">768</text>
<text class="tk" font-size="11.6" transform="translate(598.47 729.88) scale(1.1616 0.9900)">1024</text>
<text class="tk" font-size="11.6" transform="translate(665.11 729.88) scale(1.1802 0.9900)">1280</text>
<text class="tk" font-size="11.6" transform="translate(731.77 729.86) scale(1.1749 0.9880)">1536</text>
<text class="tk" font-size="11.6" transform="translate(798.44 729.88) scale(1.1619 0.9900)">1792</text>
<text class="tk" font-size="11.6" transform="translate(865.1 729.88) scale(1.1679 0.9900)">2048</text>
<text class="tk" font-size="11.6" transform="translate(335.53 719.43) scale(1.1567 0.9900)">0</text>
<text class="tk" font-size="11.6" transform="translate(323.47 689.78) scale(1.1857 0.9900)">0.1</text>
<text class="tk" font-size="11.6" transform="translate(323.47 660.13) scale(1.1835 0.9900)">0.2</text>
<text class="tk" font-size="11.6" transform="translate(323.47 630.46) scale(1.1853 0.9880)">0.3</text>
<text class="tk" font-size="11.6" transform="translate(323.47 600.83) scale(1.1824 0.9900)">0.4</text>
<text class="tk" font-size="11.6" transform="translate(323.47 571.18) scale(1.1850 0.9900)">0.5</text>
<text class="tk" font-size="11.6" transform="translate(323.46 541.53) scale(1.2043 0.9900)">0.6</text>
<text class="tk" font-size="11.6" transform="translate(323.47 511.88) scale(1.1924 0.9900)">0.7</text>
<text class="tk" font-size="11.6" transform="translate(323.47 482.23) scale(1.1934 0.9900)">0.8</text>
<text class="tk" font-size="11.6" transform="translate(323.47 452.58) scale(1.1977 0.9900)">0.9</text>
<text class="tk" font-size="11.6" transform="translate(336.06 422.88) scale(1.0038 0.9805)">1</text>
<text class="al" font-size="12.6" transform="translate(564.75 745) scale(1.1273 0.9831)">Channel index</text>
<text class="al" font-size="12.6" transform="translate(311.95 567.45) rotate(-90) translate(-88.58 0) scale(1.1650 1.0111)">Bhattacharyya parameter</text>
<g fill="#00c83a" stroke="#007c7e" stroke-width="1.45"><circle cx="347.1" cy="419.2" r="1.7"/><circle cx="347.4" cy="419.2" r="1.7"/><circle cx="347.6" cy="419.2" r="1.7"/><circle cx="347.9" cy="419.2" r="1.7"/><circle cx="348.1" cy="419.2" r="1.7"/><circle cx="348.4" cy="419.2" r="1.7"/><circle cx="348.7" cy="419.2" r="1.7"/><circle cx="348.9" cy="419.2" r="1.7"/><circle cx="349.2" cy="419.2" r="1.7"/><circle cx="349.4" cy="419.2" r="1.7"/><circle cx="349.7" cy="419.2" r="1.7"/><circle cx="350.0" cy="419.2" r="1.7"/><circle cx="350.2" cy="419.2" r="1.7"/><circle cx="350.5" cy="419.2" r="1.7"/><circle cx="350.7" cy="419.2" r="1.7"/><circle cx="351.0" cy="419.2" r="1.7"/><circle cx="351.3" cy="419.2" r="1.7"/><circle cx="351.5" cy="419.2" r="1.7"/><circle cx="351.8" cy="419.2" r="1.7"/><circle cx="352.0" cy="419.2" r="1.7"/><circle cx="352.3" cy="419.2" r="1.7"/><circle cx="352.6" cy="419.2" r="1.7"/><circle cx="352.8" cy="419.2" r="1.7"/><circle cx="353.1" cy="419.2" r="1.7"/><circle cx="353.3" cy="419.2" r="1.7"/><circle cx="353.6" cy="419.2" r="1.7"/><circle cx="353.9" cy="419.2" r="1.7"/><circle cx="354.1" cy="419.2" r="1.7"/><circle cx="354.4" cy="419.2" r="1.7"/><circle cx="354.7" cy="419.2" r="1.7"/><circle cx="354.9" cy="419.2" r="1.7"/><circle cx="355.2" cy="419.2" r="1.7"/><circle cx="355.4" cy="419.2" r="1.7"/><circle cx="355.7" cy="419.2" r="1.7"/><circle cx="356.0" cy="419.2" r="1.7"/><circle cx="356.2" cy="419.2" r="1.7"/><circle cx="356.5" cy="419.2" r="1.7"/><circle cx="356.7" cy="419.2" r="1.7"/><circle cx="357.0" cy="419.2" r="1.7"/><circle cx="357.3" cy="419.2" r="1.7"/><circle cx="357.5" cy="419.2" r="1.7"/><circle cx="357.8" cy="419.2" r="1.7"/><circle cx="358.0" cy="419.2" r="1.7"/><circle cx="358.3" cy="419.2" r="1.7"/><circle cx="358.6" cy="419.2" r="1.7"/><circle cx="358.8" cy="419.2" r="1.7"/><circle cx="359.1" cy="419.2" r="1.7"/><circle cx="359.3" cy="419.2" r="1.7"/><circle cx="359.6" cy="419.2" r="1.7"/><circle cx="359.9" cy="419.2" r="1.7"/><circle cx="360.1" cy="419.2" r="1.7"/><circle cx="360.4" cy="419.2" r="1.7"/><circle cx="360.6" cy="419.2" r="1.7"/><circle cx="360.9" cy="419.2" r="1.7"/><circle cx="361.2" cy="419.2" r="1.7"/><circle cx="361.4" cy="419.2" r="1.7"/><circle cx="361.7" cy="419.2" r="1.7"/><circle cx="361.9" cy="419.2" r="1.7"/><circle cx="362.2" cy="419.2" r="1.7"/><circle cx="362.5" cy="419.2" r="1.7"/><circle cx="362.7" cy="419.2" r="1.7"/><circle cx="363.0" cy="419.2" r="1.7"/><circle cx="363.2" cy="419.2" r="1.7"/><circle cx="363.5" cy="419.2" r="1.7"/><circle cx="363.8" cy="419.2" r="1.7"/><circle cx="364.0" cy="419.2" r="1.7"/><circle cx="364.3" cy="419.2" r="1.7"/><circle cx="364.5" cy="419.2" r="1.7"/><circle cx="364.8" cy="419.2" r="1.7"/><circle cx="365.1" cy="419.2" r="1.7"/><circle cx="365.3" cy="419.2" r="1.7"/><circle cx="365.6" cy="419.2" r="1.7"/><circle cx="365.8" cy="419.2" r="1.7"/><circle cx="366.1" cy="419.2" r="1.7"/><circle cx="366.4" cy="419.2" r="1.7"/><circle cx="366.6" cy="419.2" r="1.7"/><circle cx="366.9" cy="419.2" r="1.7"/><circle cx="367.1" cy="419.2" r="1.7"/><circle cx="367.4" cy="419.2" r="1.7"/><circle cx="367.7" cy="419.2" r="1.7"/><circle cx="367.9" cy="419.2" r="1.7"/><circle cx="368.2" cy="419.2" r="1.7"/><circle cx="368.5" cy="419.2" r="1.7"/><circle cx="368.7" cy="419.2" r="1.7"/><circle cx="369.0" cy="419.2" r="1.7"/><circle cx="369.2" cy="419.2" r="1.7"/><circle cx="369.5" cy="419.2" r="1.7"/><circle cx="369.8" cy="419.2" r="1.7"/><circle cx="370.0" cy="419.2" r="1.7"/><circle cx="370.3" cy="419.2" r="1.7"/><circle cx="370.5" cy="419.2" r="1.7"/><circle cx="370.8" cy="419.2" r="1.7"/><circle cx="371.1" cy="419.2" r="1.7"/><circle cx="371.3" cy="419.2" r="1.7"/><circle cx="371.6" cy="419.2" r="1.7"/><circle cx="371.8" cy="419.2" r="1.7"/><circle cx="372.1" cy="419.2" r="1.7"/><circle cx="372.4" cy="419.2" r="1.7"/><circle cx="372.6" cy="419.2" r="1.7"/><circle cx="372.9" cy="419.2" r="1.7"/><circle cx="373.1" cy="419.2" r="1.7"/><circle cx="373.4" cy="419.2" r="1.7"/><circle cx="373.7" cy="419.2" r="1.7"/><circle cx="373.9" cy="419.2" r="1.7"/><circle cx="374.2" cy="419.2" r="1.7"/><circle cx="374.4" cy="419.2" r="1.7"/><circle cx="374.7" cy="419.2" r="1.7"/><circle cx="375.0" cy="419.2" r="1.7"/><circle cx="375.2" cy="419.2" r="1.7"/><circle cx="375.5" cy="419.2" r="1.7"/><circle cx="375.7" cy="419.2" r="1.7"/><circle cx="376.0" cy="419.2" r="1.7"/><circle cx="376.3" cy="419.2" r="1.7"/><circle cx="376.5" cy="419.2" r="1.7"/><circle cx="376.8" cy="419.2" r="1.7"/><circle cx="377.0" cy="419.2" r="1.7"/><circle cx="377.3" cy="419.2" r="1.7"/><circle cx="377.6" cy="419.2" r="1.7"/><circle cx="377.8" cy="419.2" r="1.7"/><circle cx="378.1" cy="419.2" r="1.7"/><circle cx="378.3" cy="419.2" r="1.7"/><circle cx="378.6" cy="419.2" r="1.7"/><circle cx="378.9" cy="419.2" r="1.7"/><circle cx="379.1" cy="419.2" r="1.7"/><circle cx="379.4" cy="419.2" r="1.7"/><circle cx="379.6" cy="419.2" r="1.7"/><circle cx="379.9" cy="419.2" r="1.7"/><circle cx="380.2" cy="419.3" r="1.7"/><circle cx="380.4" cy="419.2" r="1.7"/><circle cx="380.7" cy="419.2" r="1.7"/><circle cx="380.9" cy="419.2" r="1.7"/><circle cx="381.2" cy="419.2" r="1.7"/><circle cx="381.5" cy="419.2" r="1.7"/><circle cx="381.7" cy="419.2" r="1.7"/><circle cx="382.0" cy="419.2" r="1.7"/><circle cx="382.3" cy="419.2" r="1.7"/><circle cx="382.5" cy="419.2" r="1.7"/><circle cx="382.8" cy="419.2" r="1.7"/><circle cx="383.0" cy="419.2" r="1.7"/><circle cx="383.3" cy="419.2" r="1.7"/><circle cx="383.6" cy="419.2" r="1.7"/><circle cx="383.8" cy="419.2" r="1.7"/><circle cx="384.1" cy="419.2" r="1.7"/><circle cx="384.3" cy="419.2" r="1.7"/><circle cx="384.6" cy="419.2" r="1.7"/><circle cx="384.9" cy="419.2" r="1.7"/><circle cx="385.1" cy="419.2" r="1.7"/><circle cx="385.4" cy="419.2" r="1.7"/><circle cx="385.6" cy="419.2" r="1.7"/><circle cx="385.9" cy="419.2" r="1.7"/><circle cx="386.2" cy="419.2" r="1.7"/><circle cx="386.4" cy="419.2" r="1.7"/><circle cx="386.7" cy="419.2" r="1.7"/><circle cx="386.9" cy="419.2" r="1.7"/><circle cx="387.2" cy="419.2" r="1.7"/><circle cx="387.5" cy="419.2" r="1.7"/><circle cx="387.7" cy="419.2" r="1.7"/><circle cx="388.0" cy="419.2" r="1.7"/><circle cx="388.2" cy="419.2" r="1.7"/><circle cx="388.5" cy="419.2" r="1.7"/><circle cx="388.8" cy="419.2" r="1.7"/><circle cx="389.0" cy="419.2" r="1.7"/><circle cx="389.3" cy="419.2" r="1.7"/><circle cx="389.5" cy="419.2" r="1.7"/><circle cx="389.8" cy="419.2" r="1.7"/><circle cx="390.1" cy="419.2" r="1.7"/><circle cx="390.3" cy="419.2" r="1.7"/><circle cx="390.6" cy="419.2" r="1.7"/><circle cx="390.8" cy="419.2" r="1.7"/><circle cx="391.1" cy="419.2" r="1.7"/><circle cx="391.4" cy="419.2" r="1.7"/><circle cx="391.6" cy="419.2" r="1.7"/><circle cx="391.9" cy="419.2" r="1.7"/><circle cx="392.1" cy="419.2" r="1.7"/><circle cx="392.4" cy="419.2" r="1.7"/><circle cx="392.7" cy="419.2" r="1.7"/><circle cx="392.9" cy="419.2" r="1.7"/><circle cx="393.2" cy="419.2" r="1.7"/><circle cx="393.4" cy="419.2" r="1.7"/><circle cx="393.7" cy="419.2" r="1.7"/><circle cx="394.0" cy="419.2" r="1.7"/><circle cx="394.2" cy="419.2" r="1.7"/><circle cx="394.5" cy="419.2" r="1.7"/><circle cx="394.7" cy="419.2" r="1.7"/><circle cx="395.0" cy="419.2" r="1.7"/><circle cx="395.3" cy="419.2" r="1.7"/><circle cx="395.5" cy="419.2" r="1.7"/><circle cx="395.8" cy="419.2" r="1.7"/><circle cx="396.1" cy="419.2" r="1.7"/><circle cx="396.3" cy="419.2" r="1.7"/><circle cx="396.6" cy="419.2" r="1.7"/><circle cx="396.8" cy="419.5" r="1.7"/><circle cx="397.1" cy="419.2" r="1.7"/><circle cx="397.4" cy="419.2" r="1.7"/><circle cx="397.6" cy="419.2" r="1.7"/><circle cx="397.9" cy="419.2" r="1.7"/><circle cx="398.1" cy="419.2" r="1.7"/><circle cx="398.4" cy="419.2" r="1.7"/><circle cx="398.7" cy="419.2" r="1.7"/><circle cx="398.9" cy="419.2" r="1.7"/><circle cx="399.2" cy="419.2" r="1.7"/><circle cx="399.4" cy="419.2" r="1.7"/><circle cx="399.7" cy="419.2" r="1.7"/><circle cx="400.0" cy="419.2" r="1.7"/><circle cx="400.2" cy="419.2" r="1.7"/><circle cx="400.5" cy="419.2" r="1.7"/><circle cx="400.7" cy="419.2" r="1.7"/><circle cx="401.0" cy="419.2" r="1.7"/><circle cx="401.3" cy="419.2" r="1.7"/><circle cx="401.5" cy="419.2" r="1.7"/><circle cx="401.8" cy="419.2" r="1.7"/><circle cx="402.0" cy="419.2" r="1.7"/><circle cx="402.3" cy="419.2" r="1.7"/><circle cx="402.6" cy="419.2" r="1.7"/><circle cx="402.8" cy="419.2" r="1.7"/><circle cx="403.1" cy="419.2" r="1.7"/><circle cx="403.3" cy="419.2" r="1.7"/><circle cx="403.6" cy="419.2" r="1.7"/><circle cx="403.9" cy="419.2" r="1.7"/><circle cx="404.1" cy="419.2" r="1.7"/><circle cx="404.4" cy="419.2" r="1.7"/><circle cx="404.6" cy="419.2" r="1.7"/><circle cx="404.9" cy="419.2" r="1.7"/><circle cx="405.2" cy="419.8" r="1.7"/><circle cx="405.4" cy="419.2" r="1.7"/><circle cx="405.7" cy="419.2" r="1.7"/><circle cx="405.9" cy="419.2" r="1.7"/><circle cx="406.2" cy="419.2" r="1.7"/><circle cx="406.5" cy="419.2" r="1.7"/><circle cx="406.7" cy="419.2" r="1.7"/><circle cx="407.0" cy="419.2" r="1.7"/><circle cx="407.2" cy="419.2" r="1.7"/><circle cx="407.5" cy="419.2" r="1.7"/><circle cx="407.8" cy="419.2" r="1.7"/><circle cx="408.0" cy="419.2" r="1.7"/><circle cx="408.3" cy="419.2" r="1.7"/><circle cx="408.5" cy="419.2" r="1.7"/><circle cx="408.8" cy="419.2" r="1.7"/><circle cx="409.1" cy="419.2" r="1.7"/><circle cx="409.3" cy="420.3" r="1.7"/><circle cx="409.6" cy="419.2" r="1.7"/><circle cx="409.9" cy="419.2" r="1.7"/><circle cx="410.1" cy="419.2" r="1.7"/><circle cx="410.4" cy="419.2" r="1.7"/><circle cx="410.6" cy="419.2" r="1.7"/><circle cx="410.9" cy="419.2" r="1.7"/><circle cx="411.2" cy="419.2" r="1.7"/><circle cx="411.4" cy="421.4" r="1.7"/><circle cx="411.7" cy="419.2" r="1.7"/><circle cx="411.9" cy="419.2" r="1.7"/><circle cx="412.2" cy="419.2" r="1.7"/><circle cx="412.5" cy="423.4" r="1.7"/><circle cx="412.7" cy="419.3" r="1.7"/><circle cx="413.0" cy="427.1" r="1.7"/><circle cx="413.2" cy="433.3" r="1.7"/><circle cx="413.5" cy="534.2" r="1.7"/><circle cx="413.8" cy="419.2" r="1.7"/><circle cx="414.0" cy="419.2" r="1.7"/><circle cx="414.3" cy="419.2" r="1.7"/><circle cx="414.5" cy="419.2" r="1.7"/><circle cx="414.8" cy="419.2" r="1.7"/><circle cx="415.1" cy="419.2" r="1.7"/><circle cx="415.3" cy="419.2" r="1.7"/><circle cx="415.6" cy="419.2" r="1.7"/><circle cx="415.8" cy="419.2" r="1.7"/><circle cx="416.1" cy="419.2" r="1.7"/><circle cx="416.4" cy="419.2" r="1.7"/><circle cx="416.6" cy="419.2" r="1.7"/><circle cx="416.9" cy="419.2" r="1.7"/><circle cx="417.1" cy="419.2" r="1.7"/><circle cx="417.4" cy="419.2" r="1.7"/><circle cx="417.7" cy="419.2" r="1.7"/><circle cx="417.9" cy="419.2" r="1.7"/><circle cx="418.2" cy="419.2" r="1.7"/><circle cx="418.4" cy="419.2" r="1.7"/><circle cx="418.7" cy="419.2" r="1.7"/><circle cx="419.0" cy="419.2" r="1.7"/><circle cx="419.2" cy="419.2" r="1.7"/><circle cx="419.5" cy="419.2" r="1.7"/><circle cx="419.7" cy="419.2" r="1.7"/><circle cx="420.0" cy="419.2" r="1.7"/><circle cx="420.3" cy="419.2" r="1.7"/><circle cx="420.5" cy="419.2" r="1.7"/><circle cx="420.8" cy="419.2" r="1.7"/><circle cx="421.0" cy="419.2" r="1.7"/><circle cx="421.3" cy="419.2" r="1.7"/><circle cx="421.6" cy="419.2" r="1.7"/><circle cx="421.8" cy="419.2" r="1.7"/><circle cx="422.1" cy="419.2" r="1.7"/><circle cx="422.4" cy="419.2" r="1.7"/><circle cx="422.6" cy="419.2" r="1.7"/><circle cx="422.9" cy="419.2" r="1.7"/><circle cx="423.1" cy="419.2" r="1.7"/><circle cx="423.4" cy="419.2" r="1.7"/><circle cx="423.7" cy="419.2" r="1.7"/><circle cx="423.9" cy="419.2" r="1.7"/><circle cx="424.2" cy="419.2" r="1.7"/><circle cx="424.4" cy="419.2" r="1.7"/><circle cx="424.7" cy="419.2" r="1.7"/><circle cx="425.0" cy="419.2" r="1.7"/><circle cx="425.2" cy="419.2" r="1.7"/><circle cx="425.5" cy="419.2" r="1.7"/><circle cx="425.7" cy="419.2" r="1.7"/><circle cx="426.0" cy="419.2" r="1.7"/><circle cx="426.3" cy="419.2" r="1.7"/><circle cx="426.5" cy="419.2" r="1.7"/><circle cx="426.8" cy="419.2" r="1.7"/><circle cx="427.0" cy="419.2" r="1.7"/><circle cx="427.3" cy="419.2" r="1.7"/><circle cx="427.6" cy="419.2" r="1.7"/><circle cx="427.8" cy="419.2" r="1.7"/><circle cx="428.1" cy="419.2" r="1.7"/><circle cx="428.3" cy="419.2" r="1.7"/><circle cx="428.6" cy="419.2" r="1.7"/><circle cx="428.9" cy="419.2" r="1.7"/><circle cx="429.1" cy="419.2" r="1.7"/><circle cx="429.4" cy="419.2" r="1.7"/><circle cx="429.6" cy="419.2" r="1.7"/><circle cx="429.9" cy="419.2" r="1.7"/><circle cx="430.2" cy="420.2" r="1.7"/><circle cx="430.4" cy="419.2" r="1.7"/><circle cx="430.7" cy="419.2" r="1.7"/><circle cx="430.9" cy="419.2" r="1.7"/><circle cx="431.2" cy="419.2" r="1.7"/><circle cx="431.5" cy="419.2" r="1.7"/><circle cx="431.7" cy="419.2" r="1.7"/><circle cx="432.0" cy="419.2" r="1.7"/><circle cx="432.2" cy="419.2" r="1.7"/><circle cx="432.5" cy="419.2" r="1.7"/><circle cx="432.8" cy="419.2" r="1.7"/><circle cx="433.0" cy="419.2" r="1.7"/><circle cx="433.3" cy="419.2" r="1.7"/><circle cx="433.5" cy="419.2" r="1.7"/><circle cx="433.8" cy="419.2" r="1.7"/><circle cx="434.1" cy="419.2" r="1.7"/><circle cx="434.3" cy="419.2" r="1.7"/><circle cx="434.6" cy="419.2" r="1.7"/><circle cx="434.8" cy="419.2" r="1.7"/><circle cx="435.1" cy="419.2" r="1.7"/><circle cx="435.4" cy="419.2" r="1.7"/><circle cx="435.6" cy="419.2" r="1.7"/><circle cx="435.9" cy="419.2" r="1.7"/><circle cx="436.2" cy="419.2" r="1.7"/><circle cx="436.4" cy="419.2" r="1.7"/><circle cx="436.7" cy="419.2" r="1.7"/><circle cx="436.9" cy="419.2" r="1.7"/><circle cx="437.2" cy="419.2" r="1.7"/><circle cx="437.5" cy="419.2" r="1.7"/><circle cx="437.7" cy="419.2" r="1.7"/><circle cx="438.0" cy="419.2" r="1.7"/><circle cx="438.2" cy="419.2" r="1.7"/><circle cx="438.5" cy="421.2" r="1.7"/><circle cx="438.8" cy="419.2" r="1.7"/><circle cx="439.0" cy="419.2" r="1.7"/><circle cx="439.3" cy="419.2" r="1.7"/><circle cx="439.5" cy="419.2" r="1.7"/><circle cx="439.8" cy="419.2" r="1.7"/><circle cx="440.1" cy="419.2" r="1.7"/><circle cx="440.3" cy="419.2" r="1.7"/><circle cx="440.6" cy="419.2" r="1.7"/><circle cx="440.8" cy="419.2" r="1.7"/><circle cx="441.1" cy="419.2" r="1.7"/><circle cx="441.4" cy="419.2" r="1.7"/><circle cx="441.6" cy="419.2" r="1.7"/><circle cx="441.9" cy="419.2" r="1.7"/><circle cx="442.1" cy="419.2" r="1.7"/><circle cx="442.4" cy="419.2" r="1.7"/><circle cx="442.7" cy="423.2" r="1.7"/><circle cx="442.9" cy="419.2" r="1.7"/><circle cx="443.2" cy="419.2" r="1.7"/><circle cx="443.4" cy="419.2" r="1.7"/><circle cx="443.7" cy="419.2" r="1.7"/><circle cx="444.0" cy="419.2" r="1.7"/><circle cx="444.2" cy="419.2" r="1.7"/><circle cx="444.5" cy="419.3" r="1.7"/><circle cx="444.7" cy="426.9" r="1.7"/><circle cx="445.0" cy="419.2" r="1.7"/><circle cx="445.3" cy="419.3" r="1.7"/><circle cx="445.5" cy="419.4" r="1.7"/><circle cx="445.8" cy="433.6" r="1.7"/><circle cx="446.0" cy="419.8" r="1.7"/><circle cx="446.3" cy="444.7" r="1.7"/><circle cx="446.6" cy="461.0" r="1.7"/><circle cx="446.8" cy="600.1" r="1.7"/><circle cx="447.1" cy="419.2" r="1.7"/><circle cx="447.3" cy="419.2" r="1.7"/><circle cx="447.6" cy="419.2" r="1.7"/><circle cx="447.9" cy="419.2" r="1.7"/><circle cx="448.1" cy="419.2" r="1.7"/><circle cx="448.4" cy="419.2" r="1.7"/><circle cx="448.6" cy="419.2" r="1.7"/><circle cx="448.9" cy="419.2" r="1.7"/><circle cx="449.2" cy="419.2" r="1.7"/><circle cx="449.4" cy="419.2" r="1.7"/><circle cx="449.7" cy="419.2" r="1.7"/><circle cx="450.0" cy="419.2" r="1.7"/><circle cx="450.2" cy="419.2" r="1.7"/><circle cx="450.5" cy="419.2" r="1.7"/><circle cx="450.7" cy="419.2" r="1.7"/><circle cx="451.0" cy="419.2" r="1.7"/><circle cx="451.3" cy="419.2" r="1.7"/><circle cx="451.5" cy="419.2" r="1.7"/><circle cx="451.8" cy="419.2" r="1.7"/><circle cx="452.0" cy="419.2" r="1.7"/><circle cx="452.3" cy="419.2" r="1.7"/><circle cx="452.6" cy="419.2" r="1.7"/><circle cx="452.8" cy="419.2" r="1.7"/><circle cx="453.1" cy="419.2" r="1.7"/><circle cx="453.3" cy="419.2" r="1.7"/><circle cx="453.6" cy="419.2" r="1.7"/><circle cx="453.9" cy="419.2" r="1.7"/><circle cx="454.1" cy="419.2" r="1.7"/><circle cx="454.4" cy="419.2" r="1.7"/><circle cx="454.6" cy="419.2" r="1.7"/><circle cx="454.9" cy="419.2" r="1.7"/><circle cx="455.2" cy="426.0" r="1.7"/><circle cx="455.4" cy="419.2" r="1.7"/><circle cx="455.7" cy="419.2" r="1.7"/><circle cx="455.9" cy="419.2" r="1.7"/><circle cx="456.2" cy="419.2" r="1.7"/><circle cx="456.5" cy="419.2" r="1.7"/><circle cx="456.7" cy="419.2" r="1.7"/><circle cx="457.0" cy="419.2" r="1.7"/><circle cx="457.2" cy="419.2" r="1.7"/><circle cx="457.5" cy="419.2" r="1.7"/><circle cx="457.8" cy="419.2" r="1.7"/><circle cx="458.0" cy="419.2" r="1.7"/><circle cx="458.3" cy="419.2" r="1.7"/><circle cx="458.5" cy="419.2" r="1.7"/><circle cx="458.8" cy="419.3" r="1.7"/><circle cx="459.1" cy="419.3" r="1.7"/><circle cx="459.3" cy="432.3" r="1.7"/><circle cx="459.6" cy="419.2" r="1.7"/><circle cx="459.8" cy="419.2" r="1.7"/><circle cx="460.1" cy="419.2" r="1.7"/><circle cx="460.4" cy="419.3" r="1.7"/><circle cx="460.6" cy="419.2" r="1.7"/><circle cx="460.9" cy="419.5" r="1.7"/><circle cx="461.1" cy="419.7" r="1.7"/><circle cx="461.4" cy="443.6" r="1.7"/><circle cx="461.7" cy="419.2" r="1.7"/><circle cx="461.9" cy="420.1" r="1.7"/><circle cx="462.2" cy="420.9" r="1.7"/><circle cx="462.4" cy="462.1" r="1.7"/><circle cx="462.7" cy="423.8" r="1.7"/><circle cx="463.0" cy="488.6" r="1.7"/><circle cx="463.2" cy="519.6" r="1.7"/><circle cx="463.5" cy="663.8" r="1.7"/><circle cx="463.8" cy="419.2" r="1.7"/><circle cx="464.0" cy="419.2" r="1.7"/><circle cx="464.3" cy="419.2" r="1.7"/><circle cx="464.5" cy="419.2" r="1.7"/><circle cx="464.8" cy="419.2" r="1.7"/><circle cx="465.1" cy="419.2" r="1.7"/><circle cx="465.3" cy="419.2" r="1.7"/><circle cx="465.6" cy="419.4" r="1.7"/><circle cx="465.8" cy="419.2" r="1.7"/><circle cx="466.1" cy="419.2" r="1.7"/><circle cx="466.4" cy="419.2" r="1.7"/><circle cx="466.6" cy="419.5" r="1.7"/><circle cx="466.9" cy="419.2" r="1.7"/><circle cx="467.1" cy="419.8" r="1.7"/><circle cx="467.4" cy="420.4" r="1.7"/><circle cx="467.7" cy="455.8" r="1.7"/><circle cx="467.9" cy="419.2" r="1.7"/><circle cx="468.2" cy="419.2" r="1.7"/><circle cx="468.4" cy="419.2" r="1.7"/><circle cx="468.7" cy="420.3" r="1.7"/><circle cx="469.0" cy="419.2" r="1.7"/><circle cx="469.2" cy="421.3" r="1.7"/><circle cx="469.5" cy="423.1" r="1.7"/><circle cx="469.7" cy="483.2" r="1.7"/><circle cx="470.0" cy="419.2" r="1.7"/><circle cx="470.3" cy="425.1" r="1.7"/><circle cx="470.5" cy="429.9" r="1.7"/><circle cx="470.8" cy="521.1" r="1.7"/><circle cx="471.0" cy="443.0" r="1.7"/><circle cx="471.3" cy="563.4" r="1.7"/><circle cx="471.6" cy="600.1" r="1.7"/><circle cx="471.8" cy="701.5" r="1.7"/><circle cx="472.1" cy="419.2" r="1.7"/><circle cx="472.3" cy="419.2" r="1.7"/><circle cx="472.6" cy="419.2" r="1.7"/><circle cx="472.9" cy="424.7" r="1.7"/><circle cx="473.1" cy="419.3" r="1.7"/><circle cx="473.4" cy="429.5" r="1.7"/><circle cx="473.6" cy="437.3" r="1.7"/><circle cx="473.9" cy="547.5" r="1.7"/><circle cx="474.2" cy="419.7" r="1.7"/><circle cx="474.4" cy="444.0" r="1.7"/><circle cx="474.7" cy="459.9" r="1.7"/><circle cx="474.9" cy="598.3" r="1.7"/><circle cx="475.2" cy="491.5" r="1.7"/><circle cx="475.5" cy="639.7" r="1.7"/><circle cx="475.7" cy="665.6" r="1.7"/><circle cx="476.0" cy="713.4" r="1.7"/><circle cx="476.2" cy="423.0" r="1.7"/><circle cx="476.5" cy="482.3" r="1.7"/><circle cx="476.8" cy="511.8" r="1.7"/><circle cx="477.0" cy="658.0" r="1.7"/><circle cx="477.3" cy="555.4" r="1.7"/><circle cx="477.6" cy="684.9" r="1.7"/><circle cx="477.8" cy="697.5" r="1.7"/><circle cx="478.1" cy="715.4" r="1.7"/><circle cx="478.3" cy="604.6" r="1.7"/><circle cx="478.6" cy="702.7" r="1.7"/><circle cx="478.9" cy="708.5" r="1.7"/><circle cx="479.1" cy="715.7" r="1.7"/><circle cx="479.4" cy="711.9" r="1.7"/><circle cx="479.6" cy="715.7" r="1.7"/><circle cx="479.9" cy="715.7" r="1.7"/><circle cx="480.2" cy="715.7" r="1.7"/><circle cx="480.4" cy="419.2" r="1.7"/><circle cx="480.7" cy="419.2" r="1.7"/><circle cx="480.9" cy="419.2" r="1.7"/><circle cx="481.2" cy="419.2" r="1.7"/><circle cx="481.5" cy="419.2" r="1.7"/><circle cx="481.7" cy="419.2" r="1.7"/><circle cx="482.0" cy="419.2" r="1.7"/><circle cx="482.2" cy="419.2" r="1.7"/><circle cx="482.5" cy="419.2" r="1.7"/><circle cx="482.8" cy="419.2" r="1.7"/><circle cx="483.0" cy="419.2" r="1.7"/><circle cx="483.3" cy="419.2" r="1.7"/><circle cx="483.5" cy="419.2" r="1.7"/><circle cx="483.8" cy="419.2" r="1.7"/><circle cx="484.1" cy="419.2" r="1.7"/><circle cx="484.3" cy="419.2" r="1.7"/><circle cx="484.6" cy="419.2" r="1.7"/><circle cx="484.8" cy="419.2" r="1.7"/><circle cx="485.1" cy="419.2" r="1.7"/><circle cx="485.4" cy="419.2" r="1.7"/><circle cx="485.6" cy="419.2" r="1.7"/><circle cx="485.9" cy="419.2" r="1.7"/><circle cx="486.1" cy="419.2" r="1.7"/><circle cx="486.4" cy="419.2" r="1.7"/><circle cx="486.7" cy="419.2" r="1.7"/><circle cx="486.9" cy="419.2" r="1.7"/><circle cx="487.2" cy="419.2" r="1.7"/><circle cx="487.4" cy="419.2" r="1.7"/><circle cx="487.7" cy="419.2" r="1.7"/><circle cx="488.0" cy="419.2" r="1.7"/><circle cx="488.2" cy="419.2" r="1.7"/><circle cx="488.5" cy="419.2" r="1.7"/><circle cx="488.7" cy="419.2" r="1.7"/><circle cx="489.0" cy="419.2" r="1.7"/><circle cx="489.3" cy="419.2" r="1.7"/><circle cx="489.5" cy="419.2" r="1.7"/><circle cx="489.8" cy="419.2" r="1.7"/><circle cx="490.0" cy="419.2" r="1.7"/><circle cx="490.3" cy="419.2" r="1.7"/><circle cx="490.6" cy="419.2" r="1.7"/><circle cx="490.8" cy="419.2" r="1.7"/><circle cx="491.1" cy="419.2" r="1.7"/><circle cx="491.4" cy="419.2" r="1.7"/><circle cx="491.6" cy="419.2" r="1.7"/><circle cx="491.9" cy="419.2" r="1.7"/><circle cx="492.1" cy="419.2" r="1.7"/><circle cx="492.4" cy="419.2" r="1.7"/><circle cx="492.7" cy="419.2" r="1.7"/><circle cx="492.9" cy="419.2" r="1.7"/><circle cx="493.2" cy="419.2" r="1.7"/><circle cx="493.4" cy="419.2" r="1.7"/><circle cx="493.7" cy="419.2" r="1.7"/><circle cx="494.0" cy="419.2" r="1.7"/><circle cx="494.2" cy="419.2" r="1.7"/><circle cx="494.5" cy="419.2" r="1.7"/><circle cx="494.7" cy="419.2" r="1.7"/><circle cx="495.0" cy="419.2" r="1.7"/><circle cx="495.3" cy="419.2" r="1.7"/><circle cx="495.5" cy="419.2" r="1.7"/><circle cx="495.8" cy="419.2" r="1.7"/><circle cx="496.0" cy="419.2" r="1.7"/><circle cx="496.3" cy="419.2" r="1.7"/><circle cx="496.6" cy="419.2" r="1.7"/><circle cx="496.8" cy="426.5" r="1.7"/><circle cx="497.1" cy="419.2" r="1.7"/><circle cx="497.3" cy="419.2" r="1.7"/><circle cx="497.6" cy="419.2" r="1.7"/><circle cx="497.9" cy="419.2" r="1.7"/><circle cx="498.1" cy="419.2" r="1.7"/><circle cx="498.4" cy="419.2" r="1.7"/><circle cx="498.6" cy="419.2" r="1.7"/><circle cx="498.9" cy="419.2" r="1.7"/><circle cx="499.2" cy="419.2" r="1.7"/><circle cx="499.4" cy="419.2" r="1.7"/><circle cx="499.7" cy="419.2" r="1.7"/><circle cx="499.9" cy="419.2" r="1.7"/><circle cx="500.2" cy="419.2" r="1.7"/><circle cx="500.5" cy="419.2" r="1.7"/><circle cx="500.7" cy="419.2" r="1.7"/><circle cx="501.0" cy="419.2" r="1.7"/><circle cx="501.2" cy="419.2" r="1.7"/><circle cx="501.5" cy="419.2" r="1.7"/><circle cx="501.8" cy="419.2" r="1.7"/><circle cx="502.0" cy="419.2" r="1.7"/><circle cx="502.3" cy="419.2" r="1.7"/><circle cx="502.5" cy="419.2" r="1.7"/><circle cx="502.8" cy="419.2" r="1.7"/><circle cx="503.1" cy="419.2" r="1.7"/><circle cx="503.3" cy="419.2" r="1.7"/><circle cx="503.6" cy="419.2" r="1.7"/><circle cx="503.8" cy="419.2" r="1.7"/><circle cx="504.1" cy="419.2" r="1.7"/><circle cx="504.4" cy="419.2" r="1.7"/><circle cx="504.6" cy="419.3" r="1.7"/><circle cx="504.9" cy="419.4" r="1.7"/><circle cx="505.2" cy="433.3" r="1.7"/><circle cx="505.4" cy="419.2" r="1.7"/><circle cx="505.7" cy="419.2" r="1.7"/><circle cx="505.9" cy="419.2" r="1.7"/><circle cx="506.2" cy="419.2" r="1.7"/><circle cx="506.5" cy="419.2" r="1.7"/><circle cx="506.7" cy="419.2" r="1.7"/><circle cx="507.0" cy="419.2" r="1.7"/><circle cx="507.2" cy="419.3" r="1.7"/><circle cx="507.5" cy="419.2" r="1.7"/><circle cx="507.8" cy="419.2" r="1.7"/><circle cx="508.0" cy="419.2" r="1.7"/><circle cx="508.3" cy="419.4" r="1.7"/><circle cx="508.5" cy="419.2" r="1.7"/><circle cx="508.8" cy="419.5" r="1.7"/><circle cx="509.1" cy="419.8" r="1.7"/><circle cx="509.3" cy="445.8" r="1.7"/><circle cx="509.6" cy="419.2" r="1.7"/><circle cx="509.8" cy="419.2" r="1.7"/><circle cx="510.1" cy="419.2" r="1.7"/><circle cx="510.4" cy="419.8" r="1.7"/><circle cx="510.6" cy="419.2" r="1.7"/><circle cx="510.9" cy="420.3" r="1.7"/><circle cx="511.1" cy="421.3" r="1.7"/><circle cx="511.4" cy="466.9" r="1.7"/><circle cx="511.7" cy="419.2" r="1.7"/><circle cx="511.9" cy="422.5" r="1.7"/><circle cx="512.2" cy="425.3" r="1.7"/><circle cx="512.4" cy="498.1" r="1.7"/><circle cx="512.7" cy="433.8" r="1.7"/><circle cx="513.0" cy="536.2" r="1.7"/><circle cx="513.2" cy="573.0" r="1.7"/><circle cx="513.5" cy="692.5" r="1.7"/><circle cx="513.7" cy="419.2" r="1.7"/><circle cx="514.0" cy="419.2" r="1.7"/><circle cx="514.3" cy="419.2" r="1.7"/><circle cx="514.5" cy="419.2" r="1.7"/><circle cx="514.8" cy="419.2" r="1.7"/><circle cx="515.0" cy="419.2" r="1.7"/><circle cx="515.3" cy="419.2" r="1.7"/><circle cx="515.6" cy="419.2" r="1.7"/><circle cx="515.8" cy="419.2" r="1.7"/><circle cx="516.1" cy="419.2" r="1.7"/><circle cx="516.3" cy="419.2" r="1.7"/><circle cx="516.6" cy="419.2" r="1.7"/><circle cx="516.9" cy="419.2" r="1.7"/><circle cx="517.1" cy="419.2" r="1.7"/><circle cx="517.4" cy="419.2" r="1.7"/><circle cx="517.6" cy="419.3" r="1.7"/><circle cx="517.9" cy="419.2" r="1.7"/><circle cx="518.2" cy="419.2" r="1.7"/><circle cx="518.4" cy="419.2" r="1.7"/><circle cx="518.7" cy="419.2" r="1.7"/><circle cx="519.0" cy="419.2" r="1.7"/><circle cx="519.2" cy="419.2" r="1.7"/><circle cx="519.5" cy="419.2" r="1.7"/><circle cx="519.7" cy="419.4" r="1.7"/><circle cx="520.0" cy="419.2" r="1.7"/><circle cx="520.3" cy="419.2" r="1.7"/><circle cx="520.5" cy="419.2" r="1.7"/><circle cx="520.8" cy="419.6" r="1.7"/><circle cx="521.0" cy="419.2" r="1.7"/><circle cx="521.3" cy="420.0" r="1.7"/><circle cx="521.6" cy="420.7" r="1.7"/><circle cx="521.8" cy="460.2" r="1.7"/><circle cx="522.1" cy="419.2" r="1.7"/><circle cx="522.3" cy="419.2" r="1.7"/><circle cx="522.6" cy="419.2" r="1.7"/><circle cx="522.9" cy="419.2" r="1.7"/><circle cx="523.1" cy="419.2" r="1.7"/><circle cx="523.4" cy="419.2" r="1.7"/><circle cx="523.6" cy="419.2" r="1.7"/><circle cx="523.9" cy="419.9" r="1.7"/><circle cx="524.2" cy="419.2" r="1.7"/><circle cx="524.4" cy="419.2" r="1.7"/><circle cx="524.7" cy="419.2" r="1.7"/><circle cx="524.9" cy="420.6" r="1.7"/><circle cx="525.2" cy="419.2" r="1.7"/><circle cx="525.5" cy="421.9" r="1.7"/><circle cx="525.7" cy="424.3" r="1.7"/><circle cx="526.0" cy="491.6" r="1.7"/><circle cx="526.2" cy="419.2" r="1.7"/><circle cx="526.5" cy="419.2" r="1.7"/><circle cx="526.8" cy="419.2" r="1.7"/><circle cx="527.0" cy="423.5" r="1.7"/><circle cx="527.3" cy="419.3" r="1.7"/><circle cx="527.5" cy="427.3" r="1.7"/><circle cx="527.8" cy="433.7" r="1.7"/><circle cx="528.1" cy="535.7" r="1.7"/><circle cx="528.3" cy="419.6" r="1.7"/><circle cx="528.6" cy="439.4" r="1.7"/><circle cx="528.8" cy="453.0" r="1.7"/><circle cx="529.1" cy="585.6" r="1.7"/><circle cx="529.4" cy="481.4" r="1.7"/><circle cx="529.6" cy="628.6" r="1.7"/><circle cx="529.9" cy="657.0" r="1.7"/><circle cx="530.1" cy="712.5" r="1.7"/><circle cx="530.4" cy="419.2" r="1.7"/><circle cx="530.7" cy="419.2" r="1.7"/><circle cx="530.9" cy="419.2" r="1.7"/><circle cx="531.2" cy="419.2" r="1.7"/><circle cx="531.4" cy="419.2" r="1.7"/><circle cx="531.7" cy="419.2" r="1.7"/><circle cx="532.0" cy="419.2" r="1.7"/><circle cx="532.2" cy="423.5" r="1.7"/><circle cx="532.5" cy="419.2" r="1.7"/><circle cx="532.8" cy="419.2" r="1.7"/><circle cx="533.0" cy="419.3" r="1.7"/><circle cx="533.3" cy="427.3" r="1.7"/><circle cx="533.5" cy="419.4" r="1.7"/><circle cx="533.8" cy="434.1" r="1.7"/><circle cx="534.1" cy="444.7" r="1.7"/><circle cx="534.3" cy="567.6" r="1.7"/><circle cx="534.6" cy="419.2" r="1.7"/><circle cx="534.8" cy="419.4" r="1.7"/><circle cx="535.1" cy="419.6" r="1.7"/><circle cx="535.4" cy="440.7" r="1.7"/><circle cx="535.6" cy="420.4" r="1.7"/><circle cx="535.9" cy="456.4" r="1.7"/><circle cx="536.1" cy="477.8" r="1.7"/><circle cx="536.4" cy="624.2" r="1.7"/><circle cx="536.7" cy="424.4" r="1.7"/><circle cx="536.9" cy="492.3" r="1.7"/><circle cx="537.2" cy="524.0" r="1.7"/><circle cx="537.4" cy="667.0" r="1.7"/><circle cx="537.7" cy="568.4" r="1.7"/><circle cx="538.0" cy="690.6" r="1.7"/><circle cx="538.2" cy="701.1" r="1.7"/><circle cx="538.5" cy="715.5" r="1.7"/><circle cx="538.7" cy="419.2" r="1.7"/><circle cx="539.0" cy="421.3" r="1.7"/><circle cx="539.3" cy="423.1" r="1.7"/><circle cx="539.5" cy="483.1" r="1.7"/><circle cx="539.8" cy="429.0" r="1.7"/><circle cx="540.0" cy="517.2" r="1.7"/><circle cx="540.3" cy="552.7" r="1.7"/><circle cx="540.6" cy="683.6" r="1.7"/><circle cx="540.8" cy="446.6" r="1.7"/><circle cx="541.1" cy="572.1" r="1.7"/><circle cx="541.3" cy="608.4" r="1.7"/><circle cx="541.6" cy="703.7" r="1.7"/><circle cx="541.9" cy="644.6" r="1.7"/><circle cx="542.1" cy="710.8" r="1.7"/><circle cx="542.4" cy="713.1" r="1.7"/><circle cx="542.6" cy="715.7" r="1.7"/><circle cx="542.9" cy="486.1" r="1.7"/><circle cx="543.2" cy="633.9" r="1.7"/><circle cx="543.4" cy="661.1" r="1.7"/><circle cx="543.7" cy="712.9" r="1.7"/><circle cx="543.9" cy="682.9" r="1.7"/><circle cx="544.2" cy="714.7" r="1.7"/><circle cx="544.5" cy="715.2" r="1.7"/><circle cx="544.7" cy="715.7" r="1.7"/><circle cx="545.0" cy="697.5" r="1.7"/><circle cx="545.2" cy="715.4" r="1.7"/><circle cx="545.5" cy="715.6" r="1.7"/><circle cx="545.8" cy="715.7" r="1.7"/><circle cx="546.0" cy="715.6" r="1.7"/><circle cx="546.3" cy="715.7" r="1.7"/><circle cx="546.6" cy="715.7" r="1.7"/><circle cx="546.8" cy="715.7" r="1.7"/><circle cx="547.1" cy="419.2" r="1.7"/><circle cx="547.3" cy="419.2" r="1.7"/><circle cx="547.6" cy="419.2" r="1.7"/><circle cx="547.9" cy="419.2" r="1.7"/><circle cx="548.1" cy="419.2" r="1.7"/><circle cx="548.4" cy="419.2" r="1.7"/><circle cx="548.6" cy="419.2" r="1.7"/><circle cx="548.9" cy="419.2" r="1.7"/><circle cx="549.2" cy="419.2" r="1.7"/><circle cx="549.4" cy="419.2" r="1.7"/><circle cx="549.7" cy="419.2" r="1.7"/><circle cx="549.9" cy="419.2" r="1.7"/><circle cx="550.2" cy="419.2" r="1.7"/><circle cx="550.5" cy="419.2" r="1.7"/><circle cx="550.7" cy="419.2" r="1.7"/><circle cx="551.0" cy="420.9" r="1.7"/><circle cx="551.2" cy="419.2" r="1.7"/><circle cx="551.5" cy="419.2" r="1.7"/><circle cx="551.8" cy="419.2" r="1.7"/><circle cx="552.0" cy="419.2" r="1.7"/><circle cx="552.3" cy="419.2" r="1.7"/><circle cx="552.5" cy="419.2" r="1.7"/><circle cx="552.8" cy="419.2" r="1.7"/><circle cx="553.1" cy="422.5" r="1.7"/><circle cx="553.3" cy="419.2" r="1.7"/><circle cx="553.6" cy="419.2" r="1.7"/><circle cx="553.8" cy="419.2" r="1.7"/><circle cx="554.1" cy="425.6" r="1.7"/><circle cx="554.4" cy="419.3" r="1.7"/><circle cx="554.6" cy="431.0" r="1.7"/><circle cx="554.9" cy="439.7" r="1.7"/><circle cx="555.1" cy="554.8" r="1.7"/><circle cx="555.4" cy="419.2" r="1.7"/><circle cx="555.7" cy="419.2" r="1.7"/><circle cx="555.9" cy="419.2" r="1.7"/><circle cx="556.2" cy="419.2" r="1.7"/><circle cx="556.4" cy="419.2" r="1.7"/><circle cx="556.7" cy="419.2" r="1.7"/><circle cx="557.0" cy="419.3" r="1.7"/><circle cx="557.2" cy="429.3" r="1.7"/><circle cx="557.5" cy="419.2" r="1.7"/><circle cx="557.7" cy="419.4" r="1.7"/><circle cx="558.0" cy="419.5" r="1.7"/><circle cx="558.3" cy="437.8" r="1.7"/><circle cx="558.5" cy="420.1" r="1.7"/><circle cx="558.8" cy="451.8" r="1.7"/><circle cx="559.1" cy="471.2" r="1.7"/><circle cx="559.3" cy="615.6" r="1.7"/><circle cx="559.6" cy="419.2" r="1.7"/><circle cx="559.8" cy="420.1" r="1.7"/><circle cx="560.1" cy="421.0" r="1.7"/><circle cx="560.4" cy="463.7" r="1.7"/><circle cx="560.6" cy="424.1" r="1.7"/><circle cx="560.9" cy="490.8" r="1.7"/><circle cx="561.1" cy="522.2" r="1.7"/><circle cx="561.4" cy="665.7" r="1.7"/><circle cx="561.7" cy="435.1" r="1.7"/><circle cx="561.9" cy="540.7" r="1.7"/><circle cx="562.2" cy="577.7" r="1.7"/><circle cx="562.4" cy="694.3" r="1.7"/><circle cx="562.7" cy="619.2" r="1.7"/><circle cx="563.0" cy="706.2" r="1.7"/><circle cx="563.2" cy="710.5" r="1.7"/><circle cx="563.5" cy="715.7" r="1.7"/><circle cx="563.7" cy="419.2" r="1.7"/><circle cx="564.0" cy="419.2" r="1.7"/><circle cx="564.3" cy="419.2" r="1.7"/><circle cx="564.5" cy="419.6" r="1.7"/><circle cx="564.8" cy="419.2" r="1.7"/><circle cx="565.0" cy="419.9" r="1.7"/><circle cx="565.3" cy="420.6" r="1.7"/><circle cx="565.6" cy="458.8" r="1.7"/><circle cx="565.8" cy="419.2" r="1.7"/><circle cx="566.1" cy="421.5" r="1.7"/><circle cx="566.3" cy="423.5" r="1.7"/><circle cx="566.6" cy="486.0" r="1.7"/><circle cx="566.9" cy="429.9" r="1.7"/><circle cx="567.1" cy="521.0" r="1.7"/><circle cx="567.4" cy="556.9" r="1.7"/><circle cx="567.6" cy="685.6" r="1.7"/><circle cx="567.9" cy="419.3" r="1.7"/><circle cx="568.2" cy="428.7" r="1.7"/><circle cx="568.4" cy="435.9" r="1.7"/><circle cx="568.7" cy="543.4" r="1.7"/><circle cx="568.9" cy="454.0" r="1.7"/><circle cx="569.2" cy="587.6" r="1.7"/><circle cx="569.5" cy="622.6" r="1.7"/><circle cx="569.7" cy="706.9" r="1.7"/><circle cx="570.0" cy="490.9" r="1.7"/><circle cx="570.2" cy="639.1" r="1.7"/><circle cx="570.5" cy="665.1" r="1.7"/><circle cx="570.8" cy="713.3" r="1.7"/><circle cx="571.0" cy="685.6" r="1.7"/><circle cx="571.3" cy="714.9" r="1.7"/><circle cx="571.5" cy="715.3" r="1.7"/><circle cx="571.8" cy="715.7" r="1.7"/><circle cx="572.1" cy="420.5" r="1.7"/><circle cx="572.3" cy="456.7" r="1.7"/><circle cx="572.6" cy="478.2" r="1.7"/><circle cx="572.9" cy="624.8" r="1.7"/><circle cx="573.1" cy="515.9" r="1.7"/><circle cx="573.4" cy="661.2" r="1.7"/><circle cx="573.6" cy="681.4" r="1.7"/><circle cx="573.9" cy="714.6" r="1.7"/><circle cx="574.2" cy="566.9" r="1.7"/><circle cx="574.4" cy="690.0" r="1.7"/><circle cx="574.7" cy="700.7" r="1.7"/><circle cx="574.9" cy="715.5" r="1.7"/><circle cx="575.2" cy="707.5" r="1.7"/><circle cx="575.5" cy="715.6" r="1.7"/><circle cx="575.7" cy="715.7" r="1.7"/><circle cx="576.0" cy="715.7" r="1.7"/><circle cx="576.2" cy="618.4" r="1.7"/><circle cx="576.5" cy="706.1" r="1.7"/><circle cx="576.8" cy="710.4" r="1.7"/><circle cx="577.0" cy="715.7" r="1.7"/><circle cx="577.3" cy="712.9" r="1.7"/><circle cx="577.5" cy="715.7" r="1.7"/><circle cx="577.8" cy="715.7" r="1.7"/><circle cx="578.1" cy="715.7" r="1.7"/><circle cx="578.3" cy="714.3" r="1.7"/><circle cx="578.6" cy="715.7" r="1.7"/><circle cx="578.8" cy="715.7" r="1.7"/><circle cx="579.1" cy="715.7" r="1.7"/><circle cx="579.4" cy="715.7" r="1.7"/><circle cx="579.6" cy="715.7" r="1.7"/><circle cx="579.9" cy="715.7" r="1.7"/><circle cx="580.1" cy="715.7" r="1.7"/><circle cx="580.4" cy="419.2" r="1.7"/><circle cx="580.7" cy="419.2" r="1.7"/><circle cx="580.9" cy="419.2" r="1.7"/><circle cx="581.2" cy="425.0" r="1.7"/><circle cx="581.4" cy="419.3" r="1.7"/><circle cx="581.7" cy="430.0" r="1.7"/><circle cx="582.0" cy="438.2" r="1.7"/><circle cx="582.2" cy="550.2" r="1.7"/><circle cx="582.5" cy="419.8" r="1.7"/><circle cx="582.7" cy="445.2" r="1.7"/><circle cx="583.0" cy="461.7" r="1.7"/><circle cx="583.3" cy="601.1" r="1.7"/><circle cx="583.5" cy="493.9" r="1.7"/><circle cx="583.8" cy="642.1" r="1.7"/><circle cx="584.0" cy="667.4" r="1.7"/><circle cx="584.3" cy="713.6" r="1.7"/><circle cx="584.6" cy="423.3" r="1.7"/><circle cx="584.8" cy="484.5" r="1.7"/><circle cx="585.1" cy="514.5" r="1.7"/><circle cx="585.3" cy="660.1" r="1.7"/><circle cx="585.6" cy="558.3" r="1.7"/><circle cx="585.9" cy="686.3" r="1.7"/><circle cx="586.1" cy="698.3" r="1.7"/><circle cx="586.4" cy="715.4" r="1.7"/><circle cx="586.7" cy="607.2" r="1.7"/><circle cx="586.9" cy="703.4" r="1.7"/><circle cx="587.2" cy="708.9" r="1.7"/><circle cx="587.4" cy="715.7" r="1.7"/><circle cx="587.7" cy="712.1" r="1.7"/><circle cx="588.0" cy="715.7" r="1.7"/><circle cx="588.2" cy="715.7" r="1.7"/><circle cx="588.5" cy="715.7" r="1.7"/><circle cx="588.7" cy="439.9" r="1.7"/><circle cx="589.0" cy="555.3" r="1.7"/><circle cx="589.3" cy="592.3" r="1.7"/><circle cx="589.5" cy="699.2" r="1.7"/><circle cx="589.8" cy="631.6" r="1.7"/><circle cx="590.0" cy="708.7" r="1.7"/><circle cx="590.3" cy="711.9" r="1.7"/><circle cx="590.6" cy="715.7" r="1.7"/><circle cx="590.8" cy="664.4" r="1.7"/><circle cx="591.1" cy="713.3" r="1.7"/><circle cx="591.3" cy="714.4" r="1.7"/><circle cx="591.6" cy="715.7" r="1.7"/><circle cx="591.9" cy="715.0" r="1.7"/><circle cx="592.1" cy="715.7" r="1.7"/><circle cx="592.4" cy="715.7" r="1.7"/><circle cx="592.6" cy="715.7" r="1.7"/><circle cx="592.9" cy="686.9" r="1.7"/><circle cx="593.2" cy="715.0" r="1.7"/><circle cx="593.4" cy="715.3" r="1.7"/><circle cx="593.7" cy="715.7" r="1.7"/><circle cx="593.9" cy="715.5" r="1.7"/><circle cx="594.2" cy="715.7" r="1.7"/><circle cx="594.5" cy="715.7" r="1.7"/><circle cx="594.7" cy="715.7" r="1.7"/><circle cx="595.0" cy="715.6" r="1.7"/><circle cx="595.2" cy="715.7" r="1.7"/><circle cx="595.5" cy="715.7" r="1.7"/><circle cx="595.8" cy="715.7" r="1.7"/><circle cx="596.0" cy="715.7" r="1.7"/><circle cx="596.3" cy="715.7" r="1.7"/><circle cx="596.5" cy="715.7" r="1.7"/><circle cx="596.8" cy="715.7" r="1.7"/><circle cx="597.1" cy="484.4" r="1.7"/><circle cx="597.3" cy="632.1" r="1.7"/><circle cx="597.6" cy="659.7" r="1.7"/><circle cx="597.8" cy="712.8" r="1.7"/><circle cx="598.1" cy="682.0" r="1.7"/><circle cx="598.4" cy="714.7" r="1.7"/><circle cx="598.6" cy="715.2" r="1.7"/><circle cx="598.9" cy="715.7" r="1.7"/><circle cx="599.1" cy="696.9" r="1.7"/><circle cx="599.4" cy="715.4" r="1.7"/><circle cx="599.7" cy="715.5" r="1.7"/><circle cx="599.9" cy="715.7" r="1.7"/><circle cx="600.2" cy="715.6" r="1.7"/><circle cx="600.5" cy="715.7" r="1.7"/><circle cx="600.7" cy="715.7" r="1.7"/><circle cx="601.0" cy="715.7" r="1.7"/><circle cx="601.2" cy="705.7" r="1.7"/><circle cx="601.5" cy="715.6" r="1.7"/><circle cx="601.8" cy="715.7" r="1.7"/><circle cx="602.0" cy="715.7" r="1.7"/><circle cx="602.3" cy="715.7" r="1.7"/><circle cx="602.5" cy="715.7" r="1.7"/><circle cx="602.8" cy="715.7" r="1.7"/><circle cx="603.1" cy="715.7" r="1.7"/><circle cx="603.3" cy="715.7" r="1.7"/><circle cx="603.6" cy="715.7" r="1.7"/><circle cx="603.8" cy="715.7" r="1.7"/><circle cx="604.1" cy="715.7" r="1.7"/><circle cx="604.4" cy="715.7" r="1.7"/><circle cx="604.6" cy="715.7" r="1.7"/><circle cx="604.9" cy="715.7" r="1.7"/><circle cx="605.1" cy="715.7" r="1.7"/><circle cx="605.4" cy="710.6" r="1.7"/><circle cx="605.7" cy="715.7" r="1.7"/><circle cx="605.9" cy="715.7" r="1.7"/><circle cx="606.2" cy="715.7" r="1.7"/><circle cx="606.4" cy="715.7" r="1.7"/><circle cx="606.7" cy="715.7" r="1.7"/><circle cx="607.0" cy="715.7" r="1.7"/><circle cx="607.2" cy="715.7" r="1.7"/><circle cx="607.5" cy="715.7" r="1.7"/><circle cx="607.7" cy="715.7" r="1.7"/><circle cx="608.0" cy="715.7" r="1.7"/><circle cx="608.3" cy="715.7" r="1.7"/><circle cx="608.5" cy="715.7" r="1.7"/><circle cx="608.8" cy="715.7" r="1.7"/><circle cx="609.0" cy="715.7" r="1.7"/><circle cx="609.3" cy="715.7" r="1.7"/><circle cx="609.6" cy="715.7" r="1.7"/><circle cx="609.8" cy="715.7" r="1.7"/><circle cx="610.1" cy="715.7" r="1.7"/><circle cx="610.3" cy="715.7" r="1.7"/><circle cx="610.6" cy="715.7" r="1.7"/><circle cx="610.9" cy="715.7" r="1.7"/><circle cx="611.1" cy="715.7" r="1.7"/><circle cx="611.4" cy="715.7" r="1.7"/><circle cx="611.6" cy="715.7" r="1.7"/><circle cx="611.9" cy="715.7" r="1.7"/><circle cx="612.2" cy="715.7" r="1.7"/><circle cx="612.4" cy="715.7" r="1.7"/><circle cx="612.7" cy="715.7" r="1.7"/><circle cx="612.9" cy="715.7" r="1.7"/><circle cx="613.2" cy="715.7" r="1.7"/><circle cx="613.5" cy="715.7" r="1.7"/><circle cx="613.7" cy="419.2" r="1.7"/><circle cx="614.0" cy="419.2" r="1.7"/><circle cx="614.3" cy="419.2" r="1.7"/><circle cx="614.5" cy="419.2" r="1.7"/><circle cx="614.8" cy="419.2" r="1.7"/><circle cx="615.0" cy="419.2" r="1.7"/><circle cx="615.3" cy="419.2" r="1.7"/><circle cx="615.6" cy="419.2" r="1.7"/><circle cx="615.8" cy="419.2" r="1.7"/><circle cx="616.1" cy="419.2" r="1.7"/><circle cx="616.3" cy="419.2" r="1.7"/><circle cx="616.6" cy="419.2" r="1.7"/><circle cx="616.9" cy="419.2" r="1.7"/><circle cx="617.1" cy="419.2" r="1.7"/><circle cx="617.4" cy="419.2" r="1.7"/><circle cx="617.6" cy="419.2" r="1.7"/><circle cx="617.9" cy="419.2" r="1.7"/><circle cx="618.2" cy="419.2" r="1.7"/><circle cx="618.4" cy="419.2" r="1.7"/><circle cx="618.7" cy="419.2" r="1.7"/><circle cx="618.9" cy="419.2" r="1.7"/><circle cx="619.2" cy="419.2" r="1.7"/><circle cx="619.5" cy="419.2" r="1.7"/><circle cx="619.7" cy="419.2" r="1.7"/><circle cx="620.0" cy="419.2" r="1.7"/><circle cx="620.2" cy="419.2" r="1.7"/><circle cx="620.5" cy="419.2" r="1.7"/><circle cx="620.8" cy="419.2" r="1.7"/><circle cx="621.0" cy="419.2" r="1.7"/><circle cx="621.3" cy="419.2" r="1.7"/><circle cx="621.5" cy="419.2" r="1.7"/><circle cx="621.8" cy="419.3" r="1.7"/><circle cx="622.1" cy="419.2" r="1.7"/><circle cx="622.3" cy="419.2" r="1.7"/><circle cx="622.6" cy="419.2" r="1.7"/><circle cx="622.8" cy="419.2" r="1.7"/><circle cx="623.1" cy="419.2" r="1.7"/><circle cx="623.4" cy="419.2" r="1.7"/><circle cx="623.6" cy="419.2" r="1.7"/><circle cx="623.9" cy="419.2" r="1.7"/><circle cx="624.1" cy="419.2" r="1.7"/><circle cx="624.4" cy="419.2" r="1.7"/><circle cx="624.7" cy="419.2" r="1.7"/><circle cx="624.9" cy="419.2" r="1.7"/><circle cx="625.2" cy="419.2" r="1.7"/><circle cx="625.4" cy="419.2" r="1.7"/><circle cx="625.7" cy="419.2" r="1.7"/><circle cx="626.0" cy="419.5" r="1.7"/><circle cx="626.2" cy="419.2" r="1.7"/><circle cx="626.5" cy="419.2" r="1.7"/><circle cx="626.7" cy="419.2" r="1.7"/><circle cx="627.0" cy="419.2" r="1.7"/><circle cx="627.3" cy="419.2" r="1.7"/><circle cx="627.5" cy="419.2" r="1.7"/><circle cx="627.8" cy="419.2" r="1.7"/><circle cx="628.1" cy="419.7" r="1.7"/><circle cx="628.3" cy="419.2" r="1.7"/><circle cx="628.6" cy="419.2" r="1.7"/><circle cx="628.8" cy="419.2" r="1.7"/><circle cx="629.1" cy="420.3" r="1.7"/><circle cx="629.4" cy="419.2" r="1.7"/><circle cx="629.6" cy="421.2" r="1.7"/><circle cx="629.9" cy="423.1" r="1.7"/><circle cx="630.1" cy="482.9" r="1.7"/><circle cx="630.4" cy="419.2" r="1.7"/><circle cx="630.7" cy="419.2" r="1.7"/><circle cx="630.9" cy="419.2" r="1.7"/><circle cx="631.2" cy="419.2" r="1.7"/><circle cx="631.4" cy="419.2" r="1.7"/><circle cx="631.7" cy="419.2" r="1.7"/><circle cx="632.0" cy="419.2" r="1.7"/><circle cx="632.2" cy="419.2" r="1.7"/><circle cx="632.5" cy="419.2" r="1.7"/><circle cx="632.7" cy="419.2" r="1.7"/><circle cx="633.0" cy="419.2" r="1.7"/><circle cx="633.3" cy="419.2" r="1.7"/><circle cx="633.5" cy="419.2" r="1.7"/><circle cx="633.8" cy="419.2" r="1.7"/><circle cx="634.0" cy="419.2" r="1.7"/><circle cx="634.3" cy="420.2" r="1.7"/><circle cx="634.6" cy="419.2" r="1.7"/><circle cx="634.8" cy="419.2" r="1.7"/><circle cx="635.1" cy="419.2" r="1.7"/><circle cx="635.3" cy="419.2" r="1.7"/><circle cx="635.6" cy="419.2" r="1.7"/><circle cx="635.9" cy="419.2" r="1.7"/><circle cx="636.1" cy="419.2" r="1.7"/><circle cx="636.4" cy="421.1" r="1.7"/><circle cx="636.6" cy="419.2" r="1.7"/><circle cx="636.9" cy="419.2" r="1.7"/><circle cx="637.2" cy="419.2" r="1.7"/><circle cx="637.4" cy="422.8" r="1.7"/><circle cx="637.7" cy="419.2" r="1.7"/><circle cx="637.9" cy="426.1" r="1.7"/><circle cx="638.2" cy="431.6" r="1.7"/><circle cx="638.5" cy="528.0" r="1.7"/><circle cx="638.7" cy="419.2" r="1.7"/><circle cx="639.0" cy="419.2" r="1.7"/><circle cx="639.2" cy="419.2" r="1.7"/><circle cx="639.5" cy="419.2" r="1.7"/><circle cx="639.8" cy="419.2" r="1.7"/><circle cx="640.0" cy="419.2" r="1.7"/><circle cx="640.3" cy="419.2" r="1.7"/><circle cx="640.5" cy="425.1" r="1.7"/><circle cx="640.8" cy="419.2" r="1.7"/><circle cx="641.1" cy="419.3" r="1.7"/><circle cx="641.3" cy="419.3" r="1.7"/><circle cx="641.6" cy="430.4" r="1.7"/><circle cx="641.9" cy="419.6" r="1.7"/><circle cx="642.1" cy="439.4" r="1.7"/><circle cx="642.4" cy="453.0" r="1.7"/><circle cx="642.6" cy="585.6" r="1.7"/><circle cx="642.9" cy="419.2" r="1.7"/><circle cx="643.2" cy="419.6" r="1.7"/><circle cx="643.4" cy="419.9" r="1.7"/><circle cx="643.7" cy="447.8" r="1.7"/><circle cx="643.9" cy="421.3" r="1.7"/><circle cx="644.2" cy="467.5" r="1.7"/><circle cx="644.5" cy="492.8" r="1.7"/><circle cx="644.7" cy="641.0" r="1.7"/><circle cx="645.0" cy="427.3" r="1.7"/><circle cx="645.2" cy="509.0" r="1.7"/><circle cx="645.5" cy="543.5" r="1.7"/><circle cx="645.8" cy="678.9" r="1.7"/><circle cx="646.0" cy="587.9" r="1.7"/><circle cx="646.3" cy="697.8" r="1.7"/><circle cx="646.5" cy="705.5" r="1.7"/><circle cx="646.8" cy="715.6" r="1.7"/><circle cx="647.1" cy="419.2" r="1.7"/><circle cx="647.3" cy="419.2" r="1.7"/><circle cx="647.6" cy="419.2" r="1.7"/><circle cx="647.8" cy="419.2" r="1.7"/><circle cx="648.1" cy="419.2" r="1.7"/><circle cx="648.4" cy="419.2" r="1.7"/><circle cx="648.6" cy="419.2" r="1.7"/><circle cx="648.9" cy="419.2" r="1.7"/><circle cx="649.1" cy="419.2" r="1.7"/><circle cx="649.4" cy="419.2" r="1.7"/><circle cx="649.7" cy="419.2" r="1.7"/><circle cx="649.9" cy="419.2" r="1.7"/><circle cx="650.2" cy="419.2" r="1.7"/><circle cx="650.4" cy="419.2" r="1.7"/><circle cx="650.7" cy="419.2" r="1.7"/><circle cx="651.0" cy="425.1" r="1.7"/><circle cx="651.2" cy="419.2" r="1.7"/><circle cx="651.5" cy="419.2" r="1.7"/><circle cx="651.7" cy="419.2" r="1.7"/><circle cx="652.0" cy="419.2" r="1.7"/><circle cx="652.3" cy="419.2" r="1.7"/><circle cx="652.5" cy="419.3" r="1.7"/><circle cx="652.8" cy="419.3" r="1.7"/><circle cx="653.0" cy="430.6" r="1.7"/><circle cx="653.3" cy="419.2" r="1.7"/><circle cx="653.6" cy="419.4" r="1.7"/><circle cx="653.8" cy="419.6" r="1.7"/><circle cx="654.1" cy="440.2" r="1.7"/><circle cx="654.3" cy="420.4" r="1.7"/><circle cx="654.6" cy="455.6" r="1.7"/><circle cx="654.9" cy="476.6" r="1.7"/><circle cx="655.1" cy="622.7" r="1.7"/><circle cx="655.4" cy="419.2" r="1.7"/><circle cx="655.7" cy="419.2" r="1.7"/><circle cx="655.9" cy="419.2" r="1.7"/><circle cx="656.2" cy="419.4" r="1.7"/><circle cx="656.4" cy="419.2" r="1.7"/><circle cx="656.7" cy="419.6" r="1.7"/><circle cx="657.0" cy="420.0" r="1.7"/><circle cx="657.2" cy="450.0" r="1.7"/><circle cx="657.5" cy="419.2" r="1.7"/><circle cx="657.7" cy="420.6" r="1.7"/><circle cx="658.0" cy="421.8" r="1.7"/><circle cx="658.3" cy="472.5" r="1.7"/><circle cx="658.5" cy="426.2" r="1.7"/><circle cx="658.8" cy="503.1" r="1.7"/><circle cx="659.0" cy="536.7" r="1.7"/><circle cx="659.3" cy="675.0" r="1.7"/><circle cx="659.6" cy="419.2" r="1.7"/><circle cx="659.8" cy="425.5" r="1.7"/><circle cx="660.1" cy="430.5" r="1.7"/><circle cx="660.3" cy="523.8" r="1.7"/><circle cx="660.6" cy="444.2" r="1.7"/><circle cx="660.9" cy="566.5" r="1.7"/><circle cx="661.1" cy="603.1" r="1.7"/><circle cx="661.4" cy="702.3" r="1.7"/><circle cx="661.6" cy="475.3" r="1.7"/><circle cx="661.9" cy="621.1" r="1.7"/><circle cx="662.2" cy="651.0" r="1.7"/><circle cx="662.4" cy="711.7" r="1.7"/><circle cx="662.7" cy="676.0" r="1.7"/><circle cx="662.9" cy="714.3" r="1.7"/><circle cx="663.2" cy="715.0" r="1.7"/><circle cx="663.5" cy="715.7" r="1.7"/><circle cx="663.7" cy="419.2" r="1.7"/><circle cx="664.0" cy="419.2" r="1.7"/><circle cx="664.2" cy="419.2" r="1.7"/><circle cx="664.5" cy="421.7" r="1.7"/><circle cx="664.8" cy="419.2" r="1.7"/><circle cx="665.0" cy="423.9" r="1.7"/><circle cx="665.3" cy="427.8" r="1.7"/><circle cx="665.5" cy="511.8" r="1.7"/><circle cx="665.8" cy="419.3" r="1.7"/><circle cx="666.1" cy="431.7" r="1.7"/><circle cx="666.3" cy="440.9" r="1.7"/><circle cx="666.6" cy="557.9" r="1.7"/><circle cx="666.8" cy="462.4" r="1.7"/><circle cx="667.1" cy="602.4" r="1.7"/><circle cx="667.4" cy="635.5" r="1.7"/><circle cx="667.6" cy="709.4" r="1.7"/><circle cx="667.9" cy="420.5" r="1.7"/><circle cx="668.1" cy="456.7" r="1.7"/><circle cx="668.4" cy="478.1" r="1.7"/><circle cx="668.7" cy="624.6" r="1.7"/><circle cx="668.9" cy="515.8" r="1.7"/><circle cx="669.2" cy="661.1" r="1.7"/><circle cx="669.5" cy="681.3" r="1.7"/><circle cx="669.7" cy="714.6" r="1.7"/><circle cx="670.0" cy="566.8" r="1.7"/><circle cx="670.2" cy="690.0" r="1.7"/><circle cx="670.5" cy="700.7" r="1.7"/><circle cx="670.8" cy="715.5" r="1.7"/><circle cx="671.0" cy="707.5" r="1.7"/><circle cx="671.3" cy="715.6" r="1.7"/><circle cx="671.5" cy="715.7" r="1.7"/><circle cx="671.8" cy="715.7" r="1.7"/><circle cx="672.1" cy="428.5" r="1.7"/><circle cx="672.3" cy="515.1" r="1.7"/><circle cx="672.6" cy="550.4" r="1.7"/><circle cx="672.8" cy="682.5" r="1.7"/><circle cx="673.1" cy="594.5" r="1.7"/><circle cx="673.4" cy="699.9" r="1.7"/><circle cx="673.6" cy="706.8" r="1.7"/><circle cx="673.9" cy="715.6" r="1.7"/><circle cx="674.1" cy="637.1" r="1.7"/><circle cx="674.4" cy="709.7" r="1.7"/><circle cx="674.7" cy="712.5" r="1.7"/><circle cx="674.9" cy="715.7" r="1.7"/><circle cx="675.2" cy="714.0" r="1.7"/><circle cx="675.4" cy="715.7" r="1.7"/><circle cx="675.7" cy="715.7" r="1.7"/><circle cx="676.0" cy="715.7" r="1.7"/><circle cx="676.2" cy="669.7" r="1.7"/><circle cx="676.5" cy="713.8" r="1.7"/><circle cx="676.7" cy="714.7" r="1.7"/><circle cx="677.0" cy="715.7" r="1.7"/><circle cx="677.3" cy="715.2" r="1.7"/><circle cx="677.5" cy="715.7" r="1.7"/><circle cx="677.8" cy="715.7" r="1.7"/><circle cx="678.0" cy="715.7" r="1.7"/><circle cx="678.3" cy="715.4" r="1.7"/><circle cx="678.6" cy="715.7" r="1.7"/><circle cx="678.8" cy="715.7" r="1.7"/><circle cx="679.1" cy="715.7" r="1.7"/><circle cx="679.3" cy="715.7" r="1.7"/><circle cx="679.6" cy="715.7" r="1.7"/><circle cx="679.9" cy="715.7" r="1.7"/><circle cx="680.1" cy="715.7" r="1.7"/><circle cx="680.4" cy="419.2" r="1.7"/><circle cx="680.6" cy="419.2" r="1.7"/><circle cx="680.9" cy="419.2" r="1.7"/><circle cx="681.2" cy="419.2" r="1.7"/><circle cx="681.4" cy="419.2" r="1.7"/><circle cx="681.7" cy="419.2" r="1.7"/><circle cx="682.0" cy="419.2" r="1.7"/><circle cx="682.2" cy="419.4" r="1.7"/><circle cx="682.5" cy="419.2" r="1.7"/><circle cx="682.7" cy="419.2" r="1.7"/><circle cx="683.0" cy="419.2" r="1.7"/><circle cx="683.3" cy="419.6" r="1.7"/><circle cx="683.5" cy="419.2" r="1.7"/><circle cx="683.8" cy="420.0" r="1.7"/><circle cx="684.0" cy="420.8" r="1.7"/><circle cx="684.3" cy="461.5" r="1.7"/><circle cx="684.6" cy="419.2" r="1.7"/><circle cx="684.8" cy="419.2" r="1.7"/><circle cx="685.1" cy="419.2" r="1.7"/><circle cx="685.3" cy="420.6" r="1.7"/><circle cx="685.6" cy="419.2" r="1.7"/><circle cx="685.9" cy="421.9" r="1.7"/><circle cx="686.1" cy="424.3" r="1.7"/><circle cx="686.4" cy="492.1" r="1.7"/><circle cx="686.6" cy="419.3" r="1.7"/><circle cx="686.9" cy="426.9" r="1.7"/><circle cx="687.2" cy="432.9" r="1.7"/><circle cx="687.4" cy="533.0" r="1.7"/><circle cx="687.7" cy="448.6" r="1.7"/><circle cx="687.9" cy="576.6" r="1.7"/><circle cx="688.2" cy="612.5" r="1.7"/><circle cx="688.5" cy="704.7" r="1.7"/><circle cx="688.7" cy="419.2" r="1.7"/><circle cx="689.0" cy="419.2" r="1.7"/><circle cx="689.2" cy="419.2" r="1.7"/><circle cx="689.5" cy="426.3" r="1.7"/><circle cx="689.8" cy="419.3" r="1.7"/><circle cx="690.0" cy="432.2" r="1.7"/><circle cx="690.3" cy="441.8" r="1.7"/><circle cx="690.5" cy="560.3" r="1.7"/><circle cx="690.8" cy="420.0" r="1.7"/><circle cx="691.1" cy="449.7" r="1.7"/><circle cx="691.3" cy="468.3" r="1.7"/><circle cx="691.6" cy="611.4" r="1.7"/><circle cx="691.8" cy="503.0" r="1.7"/><circle cx="692.1" cy="650.6" r="1.7"/><circle cx="692.4" cy="673.8" r="1.7"/><circle cx="692.6" cy="714.1" r="1.7"/><circle cx="692.9" cy="424.4" r="1.7"/><circle cx="693.1" cy="492.8" r="1.7"/><circle cx="693.4" cy="524.6" r="1.7"/><circle cx="693.7" cy="667.3" r="1.7"/><circle cx="693.9" cy="568.9" r="1.7"/><circle cx="694.2" cy="690.9" r="1.7"/><circle cx="694.4" cy="701.3" r="1.7"/><circle cx="694.7" cy="715.5" r="1.7"/><circle cx="695.0" cy="616.4" r="1.7"/><circle cx="695.2" cy="705.6" r="1.7"/><circle cx="695.5" cy="710.1" r="1.7"/><circle cx="695.8" cy="715.7" r="1.7"/><circle cx="696.0" cy="712.8" r="1.7"/><circle cx="696.3" cy="715.7" r="1.7"/><circle cx="696.5" cy="715.7" r="1.7"/><circle cx="696.8" cy="715.7" r="1.7"/><circle cx="697.1" cy="419.2" r="1.7"/><circle cx="697.3" cy="419.8" r="1.7"/><circle cx="697.6" cy="420.3" r="1.7"/><circle cx="697.8" cy="454.9" r="1.7"/><circle cx="698.1" cy="422.5" r="1.7"/><circle cx="698.4" cy="478.1" r="1.7"/><circle cx="698.6" cy="506.6" r="1.7"/><circle cx="698.9" cy="653.7" r="1.7"/><circle cx="699.1" cy="430.6" r="1.7"/><circle cx="699.4" cy="524.1" r="1.7"/><circle cx="699.7" cy="560.2" r="1.7"/><circle cx="699.9" cy="687.1" r="1.7"/><circle cx="700.2" cy="603.6" r="1.7"/><circle cx="700.4" cy="702.5" r="1.7"/><circle cx="700.7" cy="708.3" r="1.7"/><circle cx="701.0" cy="715.7" r="1.7"/><circle cx="701.2" cy="455.5" r="1.7"/><circle cx="701.5" cy="590.4" r="1.7"/><circle cx="701.7" cy="625.0" r="1.7"/><circle cx="702.0" cy="707.4" r="1.7"/><circle cx="702.3" cy="657.4" r="1.7"/><circle cx="702.5" cy="712.5" r="1.7"/><circle cx="702.8" cy="714.0" r="1.7"/><circle cx="703.0" cy="715.7" r="1.7"/><circle cx="703.3" cy="681.7" r="1.7"/><circle cx="703.6" cy="714.7" r="1.7"/><circle cx="703.8" cy="715.2" r="1.7"/><circle cx="704.1" cy="715.7" r="1.7"/><circle cx="704.3" cy="715.4" r="1.7"/><circle cx="704.6" cy="715.7" r="1.7"/><circle cx="704.9" cy="715.7" r="1.7"/><circle cx="705.1" cy="715.7" r="1.7"/><circle cx="705.4" cy="505.8" r="1.7"/><circle cx="705.6" cy="653.1" r="1.7"/><circle cx="705.9" cy="675.6" r="1.7"/><circle cx="706.2" cy="714.2" r="1.7"/><circle cx="706.4" cy="692.3" r="1.7"/><circle cx="706.7" cy="715.2" r="1.7"/><circle cx="706.9" cy="715.5" r="1.7"/><circle cx="707.2" cy="715.7" r="1.7"/><circle cx="707.5" cy="703.0" r="1.7"/><circle cx="707.7" cy="715.6" r="1.7"/><circle cx="708.0" cy="715.6" r="1.7"/><circle cx="708.2" cy="715.7" r="1.7"/><circle cx="708.5" cy="715.7" r="1.7"/><circle cx="708.8" cy="715.7" r="1.7"/><circle cx="709.0" cy="715.7" r="1.7"/><circle cx="709.3" cy="715.7" r="1.7"/><circle cx="709.6" cy="709.0" r="1.7"/><circle cx="709.8" cy="715.7" r="1.7"/><circle cx="710.1" cy="715.7" r="1.7"/><circle cx="710.3" cy="715.7" r="1.7"/><circle cx="710.6" cy="715.7" r="1.7"/><circle cx="710.9" cy="715.7" r="1.7"/><circle cx="711.1" cy="715.7" r="1.7"/><circle cx="711.4" cy="715.7" r="1.7"/><circle cx="711.6" cy="715.7" r="1.7"/><circle cx="711.9" cy="715.7" r="1.7"/><circle cx="712.2" cy="715.7" r="1.7"/><circle cx="712.4" cy="715.7" r="1.7"/><circle cx="712.7" cy="715.7" r="1.7"/><circle cx="712.9" cy="715.7" r="1.7"/><circle cx="713.2" cy="715.7" r="1.7"/><circle cx="713.5" cy="715.7" r="1.7"/><circle cx="713.7" cy="419.3" r="1.7"/><circle cx="714.0" cy="428.0" r="1.7"/><circle cx="714.2" cy="434.8" r="1.7"/><circle cx="714.5" cy="539.7" r="1.7"/><circle cx="714.8" cy="452.1" r="1.7"/><circle cx="715.0" cy="583.8" r="1.7"/><circle cx="715.3" cy="619.1" r="1.7"/><circle cx="715.5" cy="706.2" r="1.7"/><circle cx="715.8" cy="487.9" r="1.7"/><circle cx="716.1" cy="635.9" r="1.7"/><circle cx="716.3" cy="662.7" r="1.7"/><circle cx="716.6" cy="713.1" r="1.7"/><circle cx="716.8" cy="684.0" r="1.7"/><circle cx="717.1" cy="714.8" r="1.7"/><circle cx="717.4" cy="715.2" r="1.7"/><circle cx="717.6" cy="715.7" r="1.7"/><circle cx="717.9" cy="542.5" r="1.7"/><circle cx="718.1" cy="678.3" r="1.7"/><circle cx="718.4" cy="693.1" r="1.7"/><circle cx="718.7" cy="715.3" r="1.7"/><circle cx="718.9" cy="703.1" r="1.7"/><circle cx="719.2" cy="715.6" r="1.7"/><circle cx="719.4" cy="715.6" r="1.7"/><circle cx="719.7" cy="715.7" r="1.7"/><circle cx="720.0" cy="709.0" r="1.7"/><circle cx="720.2" cy="715.7" r="1.7"/><circle cx="720.5" cy="715.7" r="1.7"/><circle cx="720.7" cy="715.7" r="1.7"/><circle cx="721.0" cy="715.7" r="1.7"/><circle cx="721.3" cy="715.7" r="1.7"/><circle cx="721.5" cy="715.7" r="1.7"/><circle cx="721.8" cy="715.7" r="1.7"/><circle cx="722.0" cy="601.1" r="1.7"/><circle cx="722.3" cy="701.8" r="1.7"/><circle cx="722.6" cy="707.9" r="1.7"/><circle cx="722.8" cy="715.6" r="1.7"/><circle cx="723.1" cy="711.6" r="1.7"/><circle cx="723.4" cy="715.7" r="1.7"/><circle cx="723.6" cy="715.7" r="1.7"/><circle cx="723.9" cy="715.7" r="1.7"/><circle cx="724.1" cy="713.6" r="1.7"/><circle cx="724.4" cy="715.7" r="1.7"/><circle cx="724.7" cy="715.7" r="1.7"/><circle cx="724.9" cy="715.7" r="1.7"/><circle cx="725.2" cy="715.7" r="1.7"/><circle cx="725.4" cy="715.7" r="1.7"/><circle cx="725.7" cy="715.7" r="1.7"/><circle cx="726.0" cy="715.7" r="1.7"/><circle cx="726.2" cy="714.6" r="1.7"/><circle cx="726.5" cy="715.7" r="1.7"/><circle cx="726.7" cy="715.7" r="1.7"/><circle cx="727.0" cy="715.7" r="1.7"/><circle cx="727.3" cy="715.7" r="1.7"/><circle cx="727.5" cy="715.7" r="1.7"/><circle cx="727.8" cy="715.7" r="1.7"/><circle cx="728.0" cy="715.7" r="1.7"/><circle cx="728.3" cy="715.7" r="1.7"/><circle cx="728.6" cy="715.7" r="1.7"/><circle cx="728.8" cy="715.7" r="1.7"/><circle cx="729.1" cy="715.7" r="1.7"/><circle cx="729.3" cy="715.7" r="1.7"/><circle cx="729.6" cy="715.7" r="1.7"/><circle cx="729.9" cy="715.7" r="1.7"/><circle cx="730.1" cy="715.7" r="1.7"/><circle cx="730.4" cy="648.0" r="1.7"/><circle cx="730.6" cy="711.3" r="1.7"/><circle cx="730.9" cy="713.4" r="1.7"/><circle cx="731.2" cy="715.7" r="1.7"/><circle cx="731.4" cy="714.5" r="1.7"/><circle cx="731.7" cy="715.7" r="1.7"/><circle cx="731.9" cy="715.7" r="1.7"/><circle cx="732.2" cy="715.7" r="1.7"/><circle cx="732.5" cy="715.1" r="1.7"/><circle cx="732.7" cy="715.7" r="1.7"/><circle cx="733.0" cy="715.7" r="1.7"/><circle cx="733.2" cy="715.7" r="1.7"/><circle cx="733.5" cy="715.7" r="1.7"/><circle cx="733.8" cy="715.7" r="1.7"/><circle cx="734.0" cy="715.7" r="1.7"/><circle cx="734.3" cy="715.7" r="1.7"/><circle cx="734.5" cy="715.4" r="1.7"/><circle cx="734.8" cy="715.7" r="1.7"/><circle cx="735.1" cy="715.7" r="1.7"/><circle cx="735.3" cy="715.7" r="1.7"/><circle cx="735.6" cy="715.7" r="1.7"/><circle cx="735.8" cy="715.7" r="1.7"/><circle cx="736.1" cy="715.7" r="1.7"/><circle cx="736.4" cy="715.7" r="1.7"/><circle cx="736.6" cy="715.7" r="1.7"/><circle cx="736.9" cy="715.7" r="1.7"/><circle cx="737.2" cy="715.7" r="1.7"/><circle cx="737.4" cy="715.7" r="1.7"/><circle cx="737.7" cy="715.7" r="1.7"/><circle cx="737.9" cy="715.7" r="1.7"/><circle cx="738.2" cy="715.7" r="1.7"/><circle cx="738.5" cy="715.7" r="1.7"/><circle cx="738.7" cy="715.5" r="1.7"/><circle cx="739.0" cy="715.7" r="1.7"/><circle cx="739.2" cy="715.7" r="1.7"/><circle cx="739.5" cy="715.7" r="1.7"/><circle cx="739.8" cy="715.7" r="1.7"/><circle cx="740.0" cy="715.7" r="1.7"/><circle cx="740.3" cy="715.7" r="1.7"/><circle cx="740.5" cy="715.7" r="1.7"/><circle cx="740.8" cy="715.7" r="1.7"/><circle cx="741.1" cy="715.7" r="1.7"/><circle cx="741.3" cy="715.7" r="1.7"/><circle cx="741.6" cy="715.7" r="1.7"/><circle cx="741.8" cy="715.7" r="1.7"/><circle cx="742.1" cy="715.7" r="1.7"/><circle cx="742.4" cy="715.7" r="1.7"/><circle cx="742.6" cy="715.7" r="1.7"/><circle cx="742.9" cy="715.7" r="1.7"/><circle cx="743.1" cy="715.7" r="1.7"/><circle cx="743.4" cy="715.7" r="1.7"/><circle cx="743.7" cy="715.7" r="1.7"/><circle cx="743.9" cy="715.7" r="1.7"/><circle cx="744.2" cy="715.7" r="1.7"/><circle cx="744.4" cy="715.7" r="1.7"/><circle cx="744.7" cy="715.7" r="1.7"/><circle cx="745.0" cy="715.7" r="1.7"/><circle cx="745.2" cy="715.7" r="1.7"/><circle cx="745.5" cy="715.7" r="1.7"/><circle cx="745.7" cy="715.7" r="1.7"/><circle cx="746.0" cy="715.7" r="1.7"/><circle cx="746.3" cy="715.7" r="1.7"/><circle cx="746.5" cy="715.7" r="1.7"/><circle cx="746.8" cy="715.7" r="1.7"/><circle cx="747.0" cy="419.2" r="1.7"/><circle cx="747.3" cy="419.2" r="1.7"/><circle cx="747.6" cy="419.2" r="1.7"/><circle cx="747.8" cy="419.2" r="1.7"/><circle cx="748.1" cy="419.2" r="1.7"/><circle cx="748.3" cy="419.2" r="1.7"/><circle cx="748.6" cy="419.2" r="1.7"/><circle cx="748.9" cy="426.3" r="1.7"/><circle cx="749.1" cy="419.2" r="1.7"/><circle cx="749.4" cy="419.3" r="1.7"/><circle cx="749.6" cy="419.4" r="1.7"/><circle cx="749.9" cy="432.5" r="1.7"/><circle cx="750.2" cy="419.7" r="1.7"/><circle cx="750.4" cy="443.0" r="1.7"/><circle cx="750.7" cy="458.4" r="1.7"/><circle cx="751.0" cy="595.7" r="1.7"/><circle cx="751.2" cy="419.2" r="1.7"/><circle cx="751.5" cy="419.7" r="1.7"/><circle cx="751.7" cy="420.2" r="1.7"/><circle cx="752.0" cy="452.5" r="1.7"/><circle cx="752.3" cy="422.1" r="1.7"/><circle cx="752.5" cy="474.6" r="1.7"/><circle cx="752.8" cy="502.0" r="1.7"/><circle cx="753.0" cy="649.8" r="1.7"/><circle cx="753.3" cy="429.4" r="1.7"/><circle cx="753.6" cy="519.1" r="1.7"/><circle cx="753.8" cy="554.8" r="1.7"/><circle cx="754.1" cy="684.6" r="1.7"/><circle cx="754.3" cy="598.6" r="1.7"/><circle cx="754.6" cy="701.1" r="1.7"/><circle cx="754.9" cy="707.5" r="1.7"/><circle cx="755.1" cy="715.6" r="1.7"/><circle cx="755.4" cy="419.2" r="1.7"/><circle cx="755.6" cy="423.4" r="1.7"/><circle cx="755.9" cy="426.9" r="1.7"/><circle cx="756.2" cy="507.1" r="1.7"/><circle cx="756.4" cy="437.2" r="1.7"/><circle cx="756.7" cy="547.2" r="1.7"/><circle cx="756.9" cy="584.3" r="1.7"/><circle cx="757.2" cy="696.6" r="1.7"/><circle cx="757.5" cy="462.9" r="1.7"/><circle cx="757.7" cy="603.2" r="1.7"/><circle cx="758.0" cy="636.1" r="1.7"/><circle cx="758.2" cy="709.5" r="1.7"/><circle cx="758.5" cy="665.5" r="1.7"/><circle cx="758.8" cy="713.4" r="1.7"/><circle cx="759.0" cy="714.5" r="1.7"/><circle cx="759.3" cy="715.7" r="1.7"/><circle cx="759.5" cy="510.8" r="1.7"/><circle cx="759.8" cy="657.2" r="1.7"/><circle cx="760.1" cy="678.5" r="1.7"/><circle cx="760.3" cy="714.5" r="1.7"/><circle cx="760.6" cy="694.2" r="1.7"/><circle cx="760.8" cy="715.3" r="1.7"/><circle cx="761.1" cy="715.5" r="1.7"/><circle cx="761.4" cy="715.7" r="1.7"/><circle cx="761.6" cy="704.0" r="1.7"/><circle cx="761.9" cy="715.6" r="1.7"/><circle cx="762.1" cy="715.6" r="1.7"/><circle cx="762.4" cy="715.7" r="1.7"/><circle cx="762.7" cy="715.7" r="1.7"/><circle cx="762.9" cy="715.7" r="1.7"/><circle cx="763.2" cy="715.7" r="1.7"/><circle cx="763.4" cy="715.7" r="1.7"/><circle cx="763.7" cy="419.8" r="1.7"/><circle cx="764.0" cy="445.1" r="1.7"/><circle cx="764.2" cy="461.6" r="1.7"/><circle cx="764.5" cy="601.1" r="1.7"/><circle cx="764.8" cy="493.8" r="1.7"/><circle cx="765.0" cy="642.1" r="1.7"/><circle cx="765.3" cy="667.4" r="1.7"/><circle cx="765.5" cy="713.6" r="1.7"/><circle cx="765.8" cy="542.9" r="1.7"/><circle cx="766.1" cy="678.5" r="1.7"/><circle cx="766.3" cy="693.3" r="1.7"/><circle cx="766.6" cy="715.3" r="1.7"/><circle cx="766.8" cy="703.2" r="1.7"/><circle cx="767.1" cy="715.6" r="1.7"/><circle cx="767.4" cy="715.6" r="1.7"/><circle cx="767.6" cy="715.7" r="1.7"/><circle cx="767.9" cy="597.9" r="1.7"/><circle cx="768.1" cy="700.9" r="1.7"/><circle cx="768.4" cy="707.4" r="1.7"/><circle cx="768.7" cy="715.6" r="1.7"/><circle cx="768.9" cy="711.3" r="1.7"/><circle cx="769.2" cy="715.7" r="1.7"/><circle cx="769.4" cy="715.7" r="1.7"/><circle cx="769.7" cy="715.7" r="1.7"/><circle cx="770.0" cy="713.4" r="1.7"/><circle cx="770.2" cy="715.7" r="1.7"/><circle cx="770.5" cy="715.7" r="1.7"/><circle cx="770.7" cy="715.7" r="1.7"/><circle cx="771.0" cy="715.7" r="1.7"/><circle cx="771.3" cy="715.7" r="1.7"/><circle cx="771.5" cy="715.7" r="1.7"/><circle cx="771.8" cy="715.7" r="1.7"/><circle cx="772.0" cy="644.4" r="1.7"/><circle cx="772.3" cy="710.8" r="1.7"/><circle cx="772.6" cy="713.1" r="1.7"/><circle cx="772.8" cy="715.7" r="1.7"/><circle cx="773.1" cy="714.3" r="1.7"/><circle cx="773.3" cy="715.7" r="1.7"/><circle cx="773.6" cy="715.7" r="1.7"/><circle cx="773.9" cy="715.7" r="1.7"/><circle cx="774.1" cy="715.0" r="1.7"/><circle cx="774.4" cy="715.7" r="1.7"/><circle cx="774.6" cy="715.7" r="1.7"/><circle cx="774.9" cy="715.7" r="1.7"/><circle cx="775.2" cy="715.7" r="1.7"/><circle cx="775.4" cy="715.7" r="1.7"/><circle cx="775.7" cy="715.7" r="1.7"/><circle cx="775.9" cy="715.7" r="1.7"/><circle cx="776.2" cy="715.4" r="1.7"/><circle cx="776.5" cy="715.7" r="1.7"/><circle cx="776.7" cy="715.7" r="1.7"/><circle cx="777.0" cy="715.7" r="1.7"/><circle cx="777.2" cy="715.7" r="1.7"/><circle cx="777.5" cy="715.7" r="1.7"/><circle cx="777.8" cy="715.7" r="1.7"/><circle cx="778.0" cy="715.7" r="1.7"/><circle cx="778.3" cy="715.7" r="1.7"/><circle cx="778.6" cy="715.7" r="1.7"/><circle cx="778.8" cy="715.7" r="1.7"/><circle cx="779.1" cy="715.7" r="1.7"/><circle cx="779.3" cy="715.7" r="1.7"/><circle cx="779.6" cy="715.7" r="1.7"/><circle cx="779.9" cy="715.7" r="1.7"/><circle cx="780.1" cy="715.7" r="1.7"/><circle cx="780.4" cy="427.6" r="1.7"/><circle cx="780.6" cy="510.4" r="1.7"/><circle cx="780.9" cy="545.1" r="1.7"/><circle cx="781.2" cy="679.7" r="1.7"/><circle cx="781.4" cy="589.4" r="1.7"/><circle cx="781.7" cy="698.3" r="1.7"/><circle cx="781.9" cy="705.8" r="1.7"/><circle cx="782.2" cy="715.6" r="1.7"/><circle cx="782.5" cy="633.1" r="1.7"/><circle cx="782.7" cy="709.0" r="1.7"/><circle cx="783.0" cy="712.1" r="1.7"/><circle cx="783.2" cy="715.7" r="1.7"/><circle cx="783.5" cy="713.8" r="1.7"/><circle cx="783.8" cy="715.7" r="1.7"/><circle cx="784.0" cy="715.7" r="1.7"/><circle cx="784.3" cy="715.7" r="1.7"/><circle cx="784.5" cy="667.0" r="1.7"/><circle cx="784.8" cy="713.5" r="1.7"/><circle cx="785.1" cy="714.6" r="1.7"/><circle cx="785.3" cy="715.7" r="1.7"/><circle cx="785.6" cy="715.1" r="1.7"/><circle cx="785.8" cy="715.7" r="1.7"/><circle cx="786.1" cy="715.7" r="1.7"/><circle cx="786.4" cy="715.7" r="1.7"/><circle cx="786.6" cy="715.4" r="1.7"/><circle cx="786.9" cy="715.7" r="1.7"/><circle cx="787.1" cy="715.7" r="1.7"/><circle cx="787.4" cy="715.7" r="1.7"/><circle cx="787.7" cy="715.7" r="1.7"/><circle cx="787.9" cy="715.7" r="1.7"/><circle cx="788.2" cy="715.7" r="1.7"/><circle cx="788.4" cy="715.7" r="1.7"/><circle cx="788.7" cy="689.0" r="1.7"/><circle cx="789.0" cy="715.1" r="1.7"/><circle cx="789.2" cy="715.4" r="1.7"/><circle cx="789.5" cy="715.7" r="1.7"/><circle cx="789.7" cy="715.5" r="1.7"/><circle cx="790.0" cy="715.7" r="1.7"/><circle cx="790.3" cy="715.7" r="1.7"/><circle cx="790.5" cy="715.7" r="1.7"/><circle cx="790.8" cy="715.6" r="1.7"/><circle cx="791.0" cy="715.7" r="1.7"/><circle cx="791.3" cy="715.7" r="1.7"/><circle cx="791.6" cy="715.7" r="1.7"/><circle cx="791.8" cy="715.7" r="1.7"/><circle cx="792.1" cy="715.7" r="1.7"/><circle cx="792.4" cy="715.7" r="1.7"/><circle cx="792.6" cy="715.7" r="1.7"/><circle cx="792.9" cy="715.7" r="1.7"/><circle cx="793.1" cy="715.7" r="1.7"/><circle cx="793.4" cy="715.7" r="1.7"/><circle cx="793.7" cy="715.7" r="1.7"/><circle cx="793.9" cy="715.7" r="1.7"/><circle cx="794.2" cy="715.7" r="1.7"/><circle cx="794.4" cy="715.7" r="1.7"/><circle cx="794.7" cy="715.7" r="1.7"/><circle cx="795.0" cy="715.7" r="1.7"/><circle cx="795.2" cy="715.7" r="1.7"/><circle cx="795.5" cy="715.7" r="1.7"/><circle cx="795.7" cy="715.7" r="1.7"/><circle cx="796.0" cy="715.7" r="1.7"/><circle cx="796.3" cy="715.7" r="1.7"/><circle cx="796.5" cy="715.7" r="1.7"/><circle cx="796.8" cy="715.7" r="1.7"/><circle cx="797.0" cy="701.7" r="1.7"/><circle cx="797.3" cy="715.5" r="1.7"/><circle cx="797.6" cy="715.6" r="1.7"/><circle cx="797.8" cy="715.7" r="1.7"/><circle cx="798.1" cy="715.7" r="1.7"/><circle cx="798.3" cy="715.7" r="1.7"/><circle cx="798.6" cy="715.7" r="1.7"/><circle cx="798.9" cy="715.7" r="1.7"/><circle cx="799.1" cy="715.7" r="1.7"/><circle cx="799.4" cy="715.7" r="1.7"/><circle cx="799.6" cy="715.7" r="1.7"/><circle cx="799.9" cy="715.7" r="1.7"/><circle cx="800.2" cy="715.7" r="1.7"/><circle cx="800.4" cy="715.7" r="1.7"/><circle cx="800.7" cy="715.7" r="1.7"/><circle cx="800.9" cy="715.7" r="1.7"/><circle cx="801.2" cy="715.7" r="1.7"/><circle cx="801.5" cy="715.7" r="1.7"/><circle cx="801.7" cy="715.7" r="1.7"/><circle cx="802.0" cy="715.7" r="1.7"/><circle cx="802.2" cy="715.7" r="1.7"/><circle cx="802.5" cy="715.7" r="1.7"/><circle cx="802.8" cy="715.7" r="1.7"/><circle cx="803.0" cy="715.7" r="1.7"/><circle cx="803.3" cy="715.7" r="1.7"/><circle cx="803.5" cy="715.7" r="1.7"/><circle cx="803.8" cy="715.7" r="1.7"/><circle cx="804.1" cy="715.7" r="1.7"/><circle cx="804.3" cy="715.7" r="1.7"/><circle cx="804.6" cy="715.7" r="1.7"/><circle cx="804.8" cy="715.7" r="1.7"/><circle cx="805.1" cy="715.7" r="1.7"/><circle cx="805.4" cy="715.7" r="1.7"/><circle cx="805.6" cy="715.7" r="1.7"/><circle cx="805.9" cy="715.7" r="1.7"/><circle cx="806.2" cy="715.7" r="1.7"/><circle cx="806.4" cy="715.7" r="1.7"/><circle cx="806.7" cy="715.7" r="1.7"/><circle cx="806.9" cy="715.7" r="1.7"/><circle cx="807.2" cy="715.7" r="1.7"/><circle cx="807.5" cy="715.7" r="1.7"/><circle cx="807.7" cy="715.7" r="1.7"/><circle cx="808.0" cy="715.7" r="1.7"/><circle cx="808.2" cy="715.7" r="1.7"/><circle cx="808.5" cy="715.7" r="1.7"/><circle cx="808.8" cy="715.7" r="1.7"/><circle cx="809.0" cy="715.7" r="1.7"/><circle cx="809.3" cy="715.7" r="1.7"/><circle cx="809.5" cy="715.7" r="1.7"/><circle cx="809.8" cy="715.7" r="1.7"/><circle cx="810.1" cy="715.7" r="1.7"/><circle cx="810.3" cy="715.7" r="1.7"/><circle cx="810.6" cy="715.7" r="1.7"/><circle cx="810.8" cy="715.7" r="1.7"/><circle cx="811.1" cy="715.7" r="1.7"/><circle cx="811.4" cy="715.7" r="1.7"/><circle cx="811.6" cy="715.7" r="1.7"/><circle cx="811.9" cy="715.7" r="1.7"/><circle cx="812.1" cy="715.7" r="1.7"/><circle cx="812.4" cy="715.7" r="1.7"/><circle cx="812.7" cy="715.7" r="1.7"/><circle cx="812.9" cy="715.7" r="1.7"/><circle cx="813.2" cy="715.7" r="1.7"/><circle cx="813.4" cy="715.7" r="1.7"/><circle cx="813.7" cy="462.2" r="1.7"/><circle cx="814.0" cy="602.1" r="1.7"/><circle cx="814.2" cy="635.2" r="1.7"/><circle cx="814.5" cy="709.3" r="1.7"/><circle cx="814.7" cy="664.8" r="1.7"/><circle cx="815.0" cy="713.3" r="1.7"/><circle cx="815.3" cy="714.4" r="1.7"/><circle cx="815.5" cy="715.7" r="1.7"/><circle cx="815.8" cy="686.4" r="1.7"/><circle cx="816.0" cy="714.9" r="1.7"/><circle cx="816.3" cy="715.3" r="1.7"/><circle cx="816.6" cy="715.7" r="1.7"/><circle cx="816.8" cy="715.5" r="1.7"/><circle cx="817.1" cy="715.7" r="1.7"/><circle cx="817.3" cy="715.7" r="1.7"/><circle cx="817.6" cy="715.7" r="1.7"/><circle cx="817.9" cy="699.9" r="1.7"/><circle cx="818.1" cy="715.5" r="1.7"/><circle cx="818.4" cy="715.6" r="1.7"/><circle cx="818.7" cy="715.7" r="1.7"/><circle cx="818.9" cy="715.6" r="1.7"/><circle cx="819.2" cy="715.7" r="1.7"/><circle cx="819.4" cy="715.7" r="1.7"/><circle cx="819.7" cy="715.7" r="1.7"/><circle cx="820.0" cy="715.7" r="1.7"/><circle cx="820.2" cy="715.7" r="1.7"/><circle cx="820.5" cy="715.7" r="1.7"/><circle cx="820.7" cy="715.7" r="1.7"/><circle cx="821.0" cy="715.7" r="1.7"/><circle cx="821.3" cy="715.7" r="1.7"/><circle cx="821.5" cy="715.7" r="1.7"/><circle cx="821.8" cy="715.7" r="1.7"/><circle cx="822.0" cy="707.4" r="1.7"/><circle cx="822.3" cy="715.6" r="1.7"/><circle cx="822.6" cy="715.7" r="1.7"/><circle cx="822.8" cy="715.7" r="1.7"/><circle cx="823.1" cy="715.7" r="1.7"/><circle cx="823.3" cy="715.7" r="1.7"/><circle cx="823.6" cy="715.7" r="1.7"/><circle cx="823.9" cy="715.7" r="1.7"/><circle cx="824.1" cy="715.7" r="1.7"/><circle cx="824.4" cy="715.7" r="1.7"/><circle cx="824.6" cy="715.7" r="1.7"/><circle cx="824.9" cy="715.7" r="1.7"/><circle cx="825.2" cy="715.7" r="1.7"/><circle cx="825.4" cy="715.7" r="1.7"/><circle cx="825.7" cy="715.7" r="1.7"/><circle cx="825.9" cy="715.7" r="1.7"/><circle cx="826.2" cy="715.7" r="1.7"/><circle cx="826.5" cy="715.7" r="1.7"/><circle cx="826.7" cy="715.7" r="1.7"/><circle cx="827.0" cy="715.7" r="1.7"/><circle cx="827.2" cy="715.7" r="1.7"/><circle cx="827.5" cy="715.7" r="1.7"/><circle cx="827.8" cy="715.7" r="1.7"/><circle cx="828.0" cy="715.7" r="1.7"/><circle cx="828.3" cy="715.7" r="1.7"/><circle cx="828.5" cy="715.7" r="1.7"/><circle cx="828.8" cy="715.7" r="1.7"/><circle cx="829.1" cy="715.7" r="1.7"/><circle cx="829.3" cy="715.7" r="1.7"/><circle cx="829.6" cy="715.7" r="1.7"/><circle cx="829.8" cy="715.7" r="1.7"/><circle cx="830.1" cy="715.7" r="1.7"/><circle cx="830.4" cy="711.5" r="1.7"/><circle cx="830.6" cy="715.7" r="1.7"/><circle cx="830.9" cy="715.7" r="1.7"/><circle cx="831.1" cy="715.7" r="1.7"/><circle cx="831.4" cy="715.7" r="1.7"/><circle cx="831.7" cy="715.7" r="1.7"/><circle cx="831.9" cy="715.7" r="1.7"/><circle cx="832.2" cy="715.7" r="1.7"/><circle cx="832.5" cy="715.7" r="1.7"/><circle cx="832.7" cy="715.7" r="1.7"/><circle cx="833.0" cy="715.7" r="1.7"/><circle cx="833.2" cy="715.7" r="1.7"/><circle cx="833.5" cy="715.7" r="1.7"/><circle cx="833.8" cy="715.7" r="1.7"/><circle cx="834.0" cy="715.7" r="1.7"/><circle cx="834.3" cy="715.7" r="1.7"/><circle cx="834.5" cy="715.7" r="1.7"/><circle cx="834.8" cy="715.7" r="1.7"/><circle cx="835.1" cy="715.7" r="1.7"/><circle cx="835.3" cy="715.7" r="1.7"/><circle cx="835.6" cy="715.7" r="1.7"/><circle cx="835.8" cy="715.7" r="1.7"/><circle cx="836.1" cy="715.7" r="1.7"/><circle cx="836.4" cy="715.7" r="1.7"/><circle cx="836.6" cy="715.7" r="1.7"/><circle cx="836.9" cy="715.7" r="1.7"/><circle cx="837.1" cy="715.7" r="1.7"/><circle cx="837.4" cy="715.7" r="1.7"/><circle cx="837.7" cy="715.7" r="1.7"/><circle cx="837.9" cy="715.7" r="1.7"/><circle cx="838.2" cy="715.7" r="1.7"/><circle cx="838.4" cy="715.7" r="1.7"/><circle cx="838.7" cy="715.7" r="1.7"/><circle cx="839.0" cy="715.7" r="1.7"/><circle cx="839.2" cy="715.7" r="1.7"/><circle cx="839.5" cy="715.7" r="1.7"/><circle cx="839.7" cy="715.7" r="1.7"/><circle cx="840.0" cy="715.7" r="1.7"/><circle cx="840.3" cy="715.7" r="1.7"/><circle cx="840.5" cy="715.7" r="1.7"/><circle cx="840.8" cy="715.7" r="1.7"/><circle cx="841.0" cy="715.7" r="1.7"/><circle cx="841.3" cy="715.7" r="1.7"/><circle cx="841.6" cy="715.7" r="1.7"/><circle cx="841.8" cy="715.7" r="1.7"/><circle cx="842.1" cy="715.7" r="1.7"/><circle cx="842.3" cy="715.7" r="1.7"/><circle cx="842.6" cy="715.7" r="1.7"/><circle cx="842.9" cy="715.7" r="1.7"/><circle cx="843.1" cy="715.7" r="1.7"/><circle cx="843.4" cy="715.7" r="1.7"/><circle cx="843.6" cy="715.7" r="1.7"/><circle cx="843.9" cy="715.7" r="1.7"/><circle cx="844.2" cy="715.7" r="1.7"/><circle cx="844.4" cy="715.7" r="1.7"/><circle cx="844.7" cy="715.7" r="1.7"/><circle cx="844.9" cy="715.7" r="1.7"/><circle cx="845.2" cy="715.7" r="1.7"/><circle cx="845.5" cy="715.7" r="1.7"/><circle cx="845.7" cy="715.7" r="1.7"/><circle cx="846.0" cy="715.7" r="1.7"/><circle cx="846.3" cy="715.7" r="1.7"/><circle cx="846.5" cy="715.7" r="1.7"/><circle cx="846.8" cy="715.7" r="1.7"/><circle cx="847.0" cy="713.6" r="1.7"/><circle cx="847.3" cy="715.7" r="1.7"/><circle cx="847.6" cy="715.7" r="1.7"/><circle cx="847.8" cy="715.7" r="1.7"/><circle cx="848.1" cy="715.7" r="1.7"/><circle cx="848.3" cy="715.7" r="1.7"/><circle cx="848.6" cy="715.7" r="1.7"/><circle cx="848.9" cy="715.7" r="1.7"/><circle cx="849.1" cy="715.7" r="1.7"/><circle cx="849.4" cy="715.7" r="1.7"/><circle cx="849.6" cy="715.7" r="1.7"/><circle cx="849.9" cy="715.7" r="1.7"/><circle cx="850.2" cy="715.7" r="1.7"/><circle cx="850.4" cy="715.7" r="1.7"/><circle cx="850.7" cy="715.7" r="1.7"/><circle cx="850.9" cy="715.7" r="1.7"/><circle cx="851.2" cy="715.7" r="1.7"/><circle cx="851.5" cy="715.7" r="1.7"/><circle cx="851.7" cy="715.7" r="1.7"/><circle cx="852.0" cy="715.7" r="1.7"/><circle cx="852.2" cy="715.7" r="1.7"/><circle cx="852.5" cy="715.7" r="1.7"/><circle cx="852.8" cy="715.7" r="1.7"/><circle cx="853.0" cy="715.7" r="1.7"/><circle cx="853.3" cy="715.7" r="1.7"/><circle cx="853.5" cy="715.7" r="1.7"/><circle cx="853.8" cy="715.7" r="1.7"/><circle cx="854.1" cy="715.7" r="1.7"/><circle cx="854.3" cy="715.7" r="1.7"/><circle cx="854.6" cy="715.7" r="1.7"/><circle cx="854.8" cy="715.7" r="1.7"/><circle cx="855.1" cy="715.7" r="1.7"/><circle cx="855.4" cy="715.7" r="1.7"/><circle cx="855.6" cy="715.7" r="1.7"/><circle cx="855.9" cy="715.7" r="1.7"/><circle cx="856.1" cy="715.7" r="1.7"/><circle cx="856.4" cy="715.7" r="1.7"/><circle cx="856.7" cy="715.7" r="1.7"/><circle cx="856.9" cy="715.7" r="1.7"/><circle cx="857.2" cy="715.7" r="1.7"/><circle cx="857.4" cy="715.7" r="1.7"/><circle cx="857.7" cy="715.7" r="1.7"/><circle cx="858.0" cy="715.7" r="1.7"/><circle cx="858.2" cy="715.7" r="1.7"/><circle cx="858.5" cy="715.7" r="1.7"/><circle cx="858.7" cy="715.7" r="1.7"/><circle cx="859.0" cy="715.7" r="1.7"/><circle cx="859.3" cy="715.7" r="1.7"/><circle cx="859.5" cy="715.7" r="1.7"/><circle cx="859.8" cy="715.7" r="1.7"/><circle cx="860.1" cy="715.7" r="1.7"/><circle cx="860.3" cy="715.7" r="1.7"/><circle cx="860.6" cy="715.7" r="1.7"/><circle cx="860.8" cy="715.7" r="1.7"/><circle cx="861.1" cy="715.7" r="1.7"/><circle cx="861.4" cy="715.7" r="1.7"/><circle cx="861.6" cy="715.7" r="1.7"/><circle cx="861.9" cy="715.7" r="1.7"/><circle cx="862.1" cy="715.7" r="1.7"/><circle cx="862.4" cy="715.7" r="1.7"/><circle cx="862.7" cy="715.7" r="1.7"/><circle cx="862.9" cy="715.7" r="1.7"/><circle cx="863.2" cy="715.7" r="1.7"/><circle cx="863.4" cy="715.7" r="1.7"/><circle cx="863.7" cy="715.7" r="1.7"/><circle cx="864.0" cy="715.7" r="1.7"/><circle cx="864.2" cy="715.7" r="1.7"/><circle cx="864.5" cy="715.7" r="1.7"/><circle cx="864.7" cy="715.7" r="1.7"/><circle cx="865.0" cy="715.7" r="1.7"/><circle cx="865.3" cy="715.7" r="1.7"/><circle cx="865.5" cy="715.7" r="1.7"/><circle cx="865.8" cy="715.7" r="1.7"/><circle cx="866.0" cy="715.7" r="1.7"/><circle cx="866.3" cy="715.7" r="1.7"/><circle cx="866.6" cy="715.7" r="1.7"/><circle cx="866.8" cy="715.7" r="1.7"/><circle cx="867.1" cy="715.7" r="1.7"/><circle cx="867.3" cy="715.7" r="1.7"/><circle cx="867.6" cy="715.7" r="1.7"/><circle cx="867.9" cy="715.7" r="1.7"/><circle cx="868.1" cy="715.7" r="1.7"/><circle cx="868.4" cy="715.7" r="1.7"/><circle cx="868.6" cy="715.7" r="1.7"/><circle cx="868.9" cy="715.7" r="1.7"/><circle cx="869.2" cy="715.7" r="1.7"/><circle cx="869.4" cy="715.7" r="1.7"/><circle cx="869.7" cy="715.7" r="1.7"/><circle cx="869.9" cy="715.7" r="1.7"/><circle cx="870.2" cy="715.7" r="1.7"/><circle cx="870.5" cy="715.7" r="1.7"/><circle cx="870.7" cy="715.7" r="1.7"/><circle cx="871.0" cy="715.7" r="1.7"/><circle cx="871.2" cy="715.7" r="1.7"/><circle cx="871.5" cy="715.7" r="1.7"/><circle cx="871.8" cy="715.7" r="1.7"/><circle cx="872.0" cy="715.7" r="1.7"/><circle cx="872.3" cy="715.7" r="1.7"/><circle cx="872.5" cy="715.7" r="1.7"/><circle cx="872.8" cy="715.7" r="1.7"/><circle cx="873.1" cy="715.7" r="1.7"/><circle cx="873.3" cy="715.7" r="1.7"/><circle cx="873.6" cy="715.7" r="1.7"/><circle cx="873.9" cy="715.7" r="1.7"/><circle cx="874.1" cy="715.7" r="1.7"/><circle cx="874.4" cy="715.7" r="1.7"/><circle cx="874.6" cy="715.7" r="1.7"/><circle cx="874.9" cy="715.7" r="1.7"/><circle cx="875.2" cy="715.7" r="1.7"/><circle cx="875.4" cy="715.7" r="1.7"/><circle cx="875.7" cy="715.7" r="1.7"/><circle cx="875.9" cy="715.7" r="1.7"/><circle cx="876.2" cy="715.7" r="1.7"/><circle cx="876.5" cy="715.7" r="1.7"/><circle cx="876.7" cy="715.7" r="1.7"/><circle cx="877.0" cy="715.7" r="1.7"/><circle cx="877.2" cy="715.7" r="1.7"/><circle cx="877.5" cy="715.7" r="1.7"/><circle cx="877.8" cy="715.7" r="1.7"/><circle cx="878.0" cy="715.7" r="1.7"/><circle cx="878.3" cy="715.7" r="1.7"/><circle cx="878.5" cy="715.7" r="1.7"/><circle cx="878.8" cy="715.7" r="1.7"/><circle cx="879.1" cy="715.7" r="1.7"/><circle cx="879.3" cy="715.7" r="1.7"/><circle cx="879.6" cy="715.7" r="1.7"/><circle cx="879.8" cy="715.7" r="1.7"/><circle cx="880.1" cy="715.7" r="1.7"/></g>
<text class="cr" font-size="30" transform="translate(127.77 378.88) scale(0.9344 1.0992)">(</text>
<text class="cr" font-size="30" transform="translate(137.64 378.61) scale(1.1983 0.9742)">a</text>
<text class="cr" font-size="30" transform="translate(154 378.88) scale(0.9344 1.0992)">)</text>
<text class="ci" font-size="30" transform="translate(176.56 378.8) scale(1.1887 1.0589)">N</text>
<text class="cr" font-size="30" transform="translate(210.98 381.53) scale(1.4183 0.9867)">=</text>
<text class="cr" font-size="30" transform="translate(242.81 379) scale(1.0560 1.0069)">2</text>
<text class="cs" font-size="21" transform="translate(258.88 366.47) scale(1.2051 1.1411)">9</text>
<text class="cr" font-size="30" transform="translate(283.2 378.52) scale(1.1340 0.9495)">an</text>
<text class="cr" font-size="30" transform="translate(314.79 378.61) scale(1.1144 0.9901)">d</text>
<text class="ci" font-size="30" transform="translate(342.53 378.74) scale(0.8636 0.9010)">ϵ</text>
<text class="cr" font-size="30" transform="translate(362.41 380.8) scale(1.4685 0.9333)">=</text>
<text class="cr" font-size="30" transform="translate(394.48 378.9) scale(1.0696 1.0077)">0</text>
<text class="cr" font-size="30" transform="translate(410.8 378.42) scale(0.9591 1.1284)">.</text>
<text class="cr" font-size="30" transform="translate(418.6 378.9) scale(1.0460 1.0077)">0</text>
<text class="cr" font-size="30" transform="translate(433.93 378.71) scale(1.0224 0.9978)">8</text>
<text class="cr" font-size="30" transform="translate(449.44 378.42) scale(1.0437 1.1284)">.</text>
<text class="cr" font-size="30" transform="translate(729.95 378.88) scale(0.9474 1.0992)">(</text>
<text class="cr" font-size="30" transform="translate(741 378.61) scale(1.0897 0.9901)">b</text>
<text class="cr" font-size="30" transform="translate(757.66 378.88) scale(0.9734 1.0992)">)</text>
<text class="ci" font-size="30" transform="translate(780.76 378.8) scale(1.1794 1.0589)">N</text>
<text class="cr" font-size="30" transform="translate(814.34 381.53) scale(1.4470 0.9867)">=</text>
<text class="cr" font-size="30" transform="translate(846.8 379) scale(1.0643 1.0069)">2</text>
<text class="cs" font-size="21" transform="translate(862.38 366.67) scale(1.2585 1.1220)">10</text>
<text class="cr" font-size="30" transform="translate(899.59 378.52) scale(1.1462 0.9495)">an</text>
<text class="cr" font-size="30" transform="translate(931.52 378.61) scale(1.1263 0.9901)">d</text>
<text class="ci" font-size="30" transform="translate(959.21 378.74) scale(0.8883 0.9010)">ϵ</text>
<text class="cr" font-size="30" transform="translate(979.56 380.8) scale(1.4327 0.9333)">=</text>
<text class="cr" font-size="30" transform="translate(1011.28 378.9) scale(1.0642 1.0077)">0</text>
<text class="cr" font-size="30" transform="translate(1027.53 378.42) scale(0.9543 1.1284)">.</text>
<text class="cr" font-size="30" transform="translate(1035.29 378.9) scale(1.0407 1.0077)">0</text>
<text class="cr" font-size="30" transform="translate(1050.54 378.71) scale(1.0173 0.9978)">8</text>
<text class="cr" font-size="30" transform="translate(1065.97 378.42) scale(1.0385 1.1284)">.</text>
<text class="cr" font-size="30" transform="translate(426.85 794.88) scale(0.9474 1.0992)">(</text>
<text class="cr" font-size="30" transform="translate(436.45 795.22) scale(1.0933 0.9564)">c</text>
<text class="cr" font-size="30" transform="translate(451.01 794.88) scale(1.0253 1.0992)">)</text>
<text class="ci" font-size="30" transform="translate(474.25 794.8) scale(1.1563 1.0589)">N</text>
<text class="cr" font-size="30" transform="translate(507.81 797.53) scale(1.4685 0.9867)">=</text>
<text class="cr" font-size="30" transform="translate(540.61 795) scale(1.0560 1.0069)">2</text>
<text class="cs" font-size="21" transform="translate(555.64 782.9) scale(1.2239 1.1469)">11</text>
<text class="cr" font-size="30" transform="translate(593.28 794.52) scale(1.1535 0.9495)">an</text>
<text class="cr" font-size="30" transform="translate(625.41 794.61) scale(1.1335 0.9901)">d</text>
<text class="ci" font-size="30" transform="translate(653.05 794.74) scale(0.8389 0.9010)">ϵ</text>
<text class="cr" font-size="30" transform="translate(672.86 796.8) scale(1.4327 0.9333)">=</text>
<text class="cr" font-size="30" transform="translate(704.77 794.9) scale(1.0732 1.0077)">0</text>
<text class="cr" font-size="30" transform="translate(721.15 794.42) scale(0.9623 1.1284)">.</text>
<text class="cr" font-size="30" transform="translate(728.98 794.9) scale(1.0495 1.0077)">0</text>
<text class="cr" font-size="30" transform="translate(744.36 794.71) scale(1.0259 0.9978)">8</text>
<text class="cr" font-size="30" transform="translate(759.92 794.42) scale(1.0473 1.1284)">.</text>
</svg>
</body></html>
